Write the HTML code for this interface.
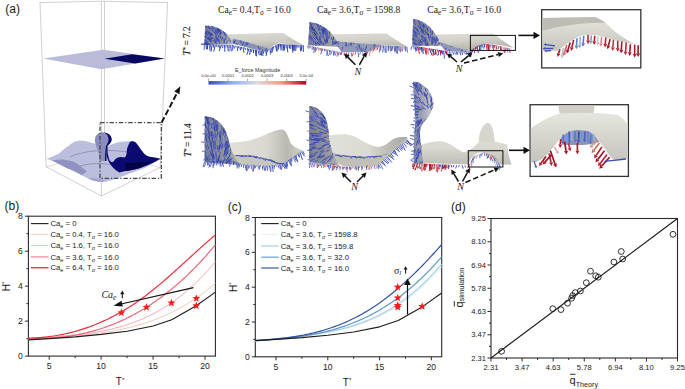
<!DOCTYPE html>
<html><head><meta charset="utf-8"><style>
html,body{margin:0;padding:0;background:#fff;}
svg{display:block;}
</style></head><body>
<svg width="685" height="389" viewBox="0 0 685 389">
<rect width="685" height="389" fill="#fff"/>
<defs>
<linearGradient id="cbar" x1="0" x2="1" y1="0" y2="0">
<stop offset="0" stop-color="#3b4cc0"/><stop offset="0.25" stop-color="#8db0fe"/><stop offset="0.5" stop-color="#dddcdc"/><stop offset="0.75" stop-color="#f4987a"/><stop offset="1" stop-color="#b40426"/></linearGradient>
<linearGradient id="surf" x1="0" x2="0" y1="0" y2="1"><stop offset="0" stop-color="#e6e6e0"/><stop offset="1" stop-color="#c4c4bc"/></linearGradient>
<linearGradient id="surfR" x1="0" x2="1" y1="0" y2="0"><stop offset="0" stop-color="#e0e0da"/><stop offset="0.6" stop-color="#dadad2"/><stop offset="1" stop-color="#bcbcb4"/></linearGradient>
<linearGradient id="surfB3" x1="0" x2="0" y1="0" y2="1"><stop offset="0" stop-color="#e2e2dc"/><stop offset="0.6" stop-color="#d8d8d0"/><stop offset="1" stop-color="#bdbdb5"/></linearGradient>
<linearGradient id="waveG" x1="0" x2="1" y1="0" y2="0"><stop offset="0" stop-color="#d6d6ce"/><stop offset="0.5" stop-color="#bcbcb4"/><stop offset="1" stop-color="#a8a8a0"/></linearGradient>
<linearGradient id="surfT" x1="0" x2="0.3" y1="0" y2="1"><stop offset="0" stop-color="#dcdcd4"/><stop offset="0.45" stop-color="#d2d2ca"/><stop offset="1" stop-color="#aeaea6"/></linearGradient>
<linearGradient id="crest" x1="0" x2="1" y1="0" y2="0"><stop offset="0" stop-color="#7a7f98"/><stop offset="0.6" stop-color="#96979e"/><stop offset="1" stop-color="#b4b4b2"/></linearGradient>
</defs>
<polyline points="39.5,2.6 101.4,1.2 167.8,2.6" fill="none" stroke="#c4c4c4" stroke-width="0.8"/>
<line x1="40" y1="2.6" x2="46.2" y2="166.8" stroke="#c4c4c4" stroke-width="0.8"/>
<line x1="167.6" y1="2.6" x2="160.2" y2="167.5" stroke="#c4c4c4" stroke-width="0.8"/>
<line x1="101.4" y1="1.2" x2="101.4" y2="196" stroke="#c4c4c4" stroke-width="0.8"/>
<line x1="104.5" y1="1.2" x2="104.5" y2="150" stroke="#c4c4c4" stroke-width="0.8"/>
<polyline points="46.2,166.8 101.4,196 160.2,167.5" fill="none" stroke="#c4c4c4" stroke-width="0.8"/>
<polyline points="46.2,166.8 104.5,152 160.2,167.5" fill="none" stroke="#c4c4c4" stroke-width="0.6"/>
<polygon points="43.2,58.4 103.5,49.8 164.8,58.4 101.4,69.2" fill="#b9bbd9"/>
<polygon points="104.5,58.8 132,54.3 164.8,58.4 135,63.5" fill="#07075f"/>
<path d="M46.6,158.8 C52,157 55,155 59,153.5 C63,150 66,147 68.5,145.9 C72,143 76,140.6 79.9,140.6 C84,140.6 87,141.6 89.3,142.1 L96,144 L107,146 L115.9,143 C120,142 124,141 131.5,141.3 C133.5,141.3 135,141.8 136,142.8 C137.5,144.5 138.5,146.3 139.8,148 C141.5,150.3 143,152.5 145,154.4 C147,155.8 149,156.6 151.4,157 C154.5,157.5 157.5,157.9 160.5,158.8 C158,160.5 156,162 153.9,163 C149,166 145,168 140.6,169.6 C135,171.5 130,173.5 125.4,175.3 C121,177 116,179 112.1,180 C108,181 104,182 100.7,182 C97,181.5 94,181 91.2,180 C88,178.5 85,177 81.8,175.3 C78,173.5 74,171.5 70.4,169.6 C66,167.5 62,165.5 59,163.9 C54,161.5 50,160 46.6,158.8 Z" fill="#bcbedd"/>
<path d="M52,160.5 C60,158.5 68,159.5 74,162 C79,164.5 83,168 87,171.5 C85,173 83,174 81.8,175.3 C77,172.5 74,171 70.4,169.6 C66,167.5 62,165.5 59,163.9 C56,162.5 54,161.5 52,160.5 Z" fill="#9092c2"/>
<path d="M88,178.5 C94,177.5 100,178.5 106,180.5 C104,181.5 102,182 100.7,182 C96,181.5 92,180.5 88,178.5 Z" fill="#a4a6d0"/>
<path d="M70,157 C85,150 110,148 140,154" fill="none" stroke="#6a6c90" stroke-width="0.5"/>
<path d="M80,166 C95,162 110,163 125,168" fill="none" stroke="#6a6c90" stroke-width="0.5"/>
<path d="M107.4,145.9 C107.6,150 107.6,151 107.7,153.1 C108.2,156 108.8,158.5 109.6,160.2 C110.5,161.5 111.5,162.2 112.8,162.1 C113.8,161.5 114.5,160 115.4,158.9 C117,157.8 119,157.2 120.6,157 C122,157.2 123.2,157.6 124.4,157.6 C125.3,157 126,156 126.3,155 C126.8,153 126.8,151 127,149.3 C127.6,147 128.5,144.5 129.5,142.8 C130,142 130.8,141.4 131.5,141.3 C133.5,141.3 135,141.8 136,142.8 C137.5,144.5 138.5,146.3 139.8,148 C141.5,150.3 143,152.5 145,154.4 C147,155.8 149,156.6 151.4,157 C154.5,157.5 157.5,157.9 160.5,158.8 C157.5,160.5 154.5,162 151.4,163.4 C147,165.5 143,167 138.5,168.5 C134,169.8 130,170.5 125.7,171.1 C123.5,171.6 121.5,172.2 119.3,172.4 C117.5,171.5 116.5,170.7 115.4,169.8 C114,168.6 112.8,167.3 111.6,166 C110.5,164.8 109.7,163.5 109,162.1 C108,160 106.8,157 106.4,155 C106.4,152 106.6,149 107.4,145.9 Z" fill="#0a0a70"/>
<path d="M125.7,163 C133,162.5 142,162 152,161.5 C148,164 143,166.5 138.5,168.5 C134,169.8 130,170.5 125.7,171.1 C125,168 125.2,165 125.7,163 Z" fill="#030345"/>
<path d="M96.5,147 C95.5,144 94.5,141.5 95,139 C95.6,134.5 99,132.2 102.6,132.2 C107,132.2 111.5,135 111.7,139.2 C111.8,142 109.5,144 107.4,145.9 C106.5,150 106.4,156 106.4,161 L99.5,161 C99.5,156 99,151 96.5,147 Z" fill="#8a8cbe"/>
<path d="M104,132.4 C108,132.6 111.6,135.5 111.7,139.2 C111.8,142 109.5,144 107.4,145.9 C106.5,150 106.4,156 106.4,161 L105,161 C105,155 105.5,149 106,146 C108,143 108.6,141 108.5,138.5 C108.2,135.5 106.5,133.3 104,132.4 Z" fill="#0a0a70"/>
<rect x="100" y="122.6" width="61.3" height="55.7" fill="none" stroke="#4a4a4a" stroke-width="1.3" stroke-dasharray="4.5,1.8,1.3,1.8"/>
<line x1="161.6" y1="122.6" x2="177.3" y2="92.5" stroke="#111" stroke-width="1.9" stroke-dasharray="6,2.6"/>
<polygon points="180.3,86.2 174.3,91.6 179.5,94.3" fill="#111"/>
<text x="5.3" y="12.9" font-size="12" font-family='"Liberation Sans", sans-serif' fill="#1a1a1a">(a)</text>
<text transform="translate(190.3,40.8) rotate(-90)" font-size="9.4" text-anchor="middle" font-family='"Liberation Serif", serif' fill="#1a1a1a" stroke="#1a1a1a" stroke-width="0.12"><tspan font-style="italic">T</tspan><tspan dy="-3" font-size="6">*</tspan><tspan dy="3" dx="1.5">=</tspan><tspan dx="2.2">7.2</tspan></text>
<text transform="translate(190.8,140) rotate(-90)" font-size="9.4" text-anchor="middle" font-family='"Liberation Serif", serif' fill="#1a1a1a" stroke="#1a1a1a" stroke-width="0.12"><tspan font-style="italic">T</tspan><tspan dy="-3" font-size="6">*</tspan><tspan dy="3" dx="1.5">=</tspan><tspan dx="2.2">11.4</tspan></text>
<text x="218" y="12.5" textLength="72.9" lengthAdjust="spacingAndGlyphs" font-size="9.8" font-family='"Liberation Serif", serif' fill="#1a1a1a">Ca<tspan dy="2.2" font-size="7.5">e</tspan><tspan dy="-2.2">= 0.4,T</tspan><tspan dy="2.2" font-size="7.5">σ</tspan><tspan dy="-2.2"> = 16.0</tspan></text>
<text x="317.1" y="12.5" textLength="83.3" lengthAdjust="spacingAndGlyphs" font-size="9.8" font-family='"Liberation Serif", serif' fill="#1a1a1a">Ca<tspan dy="2.2" font-size="7.5">e</tspan><tspan dy="-2.2">= 3.6,T</tspan><tspan dy="2.2" font-size="7.5">σ</tspan><tspan dy="-2.2"> = 1598.8</tspan></text>
<text x="427.2" y="12.5" textLength="73.9" lengthAdjust="spacingAndGlyphs" font-size="9.8" font-family='"Liberation Serif", serif' fill="#1a1a1a">Ca<tspan dy="2.2" font-size="7.5">e</tspan><tspan dy="-2.2">= 3.6,T</tspan><tspan dy="2.2" font-size="7.5">σ</tspan><tspan dy="-2.2"> = 16.0</tspan></text>
<rect x="208.5" y="81" width="97.7" height="3.6" fill="url(#cbar)"/>
<line x1="208.5" y1="78.5" x2="208.5" y2="81" stroke="#555" stroke-width="0.5"/>
<line x1="228.0" y1="78.5" x2="228.0" y2="81" stroke="#555" stroke-width="0.5"/>
<line x1="247.6" y1="78.5" x2="247.6" y2="81" stroke="#555" stroke-width="0.5"/>
<line x1="267.1" y1="78.5" x2="267.1" y2="81" stroke="#555" stroke-width="0.5"/>
<line x1="286.7" y1="78.5" x2="286.7" y2="81" stroke="#555" stroke-width="0.5"/>
<line x1="306.2" y1="78.5" x2="306.2" y2="81" stroke="#555" stroke-width="0.5"/>
<text x="208.5" y="77.4" font-size="4" text-anchor="middle" font-family='"Liberation Sans", sans-serif' fill="#333">0.0e+00</text>
<text x="228.0" y="77.4" font-size="4" text-anchor="middle" font-family='"Liberation Sans", sans-serif' fill="#333">0.0001</text>
<text x="247.6" y="77.4" font-size="4" text-anchor="middle" font-family='"Liberation Sans", sans-serif' fill="#333">0.0002</text>
<text x="267.1" y="77.4" font-size="4" text-anchor="middle" font-family='"Liberation Sans", sans-serif' fill="#333">0.0003</text>
<text x="286.7" y="77.4" font-size="4" text-anchor="middle" font-family='"Liberation Sans", sans-serif' fill="#333">0.0004</text>
<text x="306.2" y="77.4" font-size="4" text-anchor="middle" font-family='"Liberation Sans", sans-serif' fill="#333">5.0e-04</text>
<text x="257.5" y="72.4" font-size="5.4" text-anchor="middle" font-family='"Liberation Sans", sans-serif' fill="#333">E_force Magnitude</text>
<path d="M226.9,34.3 C245,34 265,33.2 283.1,33 C290,37 297,42 303.2,45 C295,44.8 285,44 278.3,43.6 C274,45 271,47.5 268.4,48.6 C266,50 264,51 262.2,51 C252,48.5 242,46 232.4,43.6 C231,40 229,37 226.9,34.3 Z" fill="url(#surfT)"/>
<defs><clipPath id="u1"><path d="M232.4,43.6 C242,46 252,48.5 262.2,51 C264,51 266,50 268.4,48.6 C258,45.5 246,41.5 233,38.5 Z"/></clipPath></defs><path d="M232.4,43.6 C242,46 252,48.5 262.2,51 C264,51 266,50 268.4,48.6 C258,45.5 246,41.5 233,38.5 Z" fill="#8a92b4"/>
<g clip-path="url(#u1)">
<line x1="243.0" y1="39.3" x2="244.4" y2="42.2" stroke="#3a4cb4" stroke-width="0.8"/>
<line x1="233.8" y1="45.7" x2="234.9" y2="49.4" stroke="#2c3ca4" stroke-width="0.8"/>
<line x1="247.3" y1="38.0" x2="247.5" y2="40.2" stroke="#3a4cb4" stroke-width="0.8"/>
<line x1="235.0" y1="40.3" x2="233.5" y2="43.3" stroke="#3a4cb4" stroke-width="0.8"/>
<line x1="253.4" y1="37.7" x2="253.3" y2="40.2" stroke="#3446b0" stroke-width="0.8"/>
<line x1="241.6" y1="39.2" x2="242.0" y2="41.4" stroke="#5466c4" stroke-width="0.8"/>
<line x1="237.2" y1="45.7" x2="237.7" y2="49.0" stroke="#3a4cb4" stroke-width="0.8"/>
<line x1="258.5" y1="45.5" x2="258.5" y2="48.7" stroke="#3a4cb4" stroke-width="0.8"/>
<line x1="247.1" y1="41.7" x2="247.3" y2="44.9" stroke="#2436a0" stroke-width="0.8"/>
<line x1="239.9" y1="39.7" x2="241.4" y2="42.9" stroke="#2436a0" stroke-width="0.8"/>
<line x1="251.0" y1="50.1" x2="251.8" y2="53.5" stroke="#2c3ca4" stroke-width="0.8"/>
<line x1="234.7" y1="43.3" x2="236.0" y2="46.6" stroke="#4456bc" stroke-width="0.8"/>
<line x1="246.9" y1="51.4" x2="246.7" y2="53.6" stroke="#2436a0" stroke-width="0.8"/>
<line x1="243.6" y1="42.3" x2="242.7" y2="45.1" stroke="#2c3ca4" stroke-width="0.8"/>
<line x1="263.6" y1="51.2" x2="263.1" y2="54.1" stroke="#2c3ca4" stroke-width="0.8"/>
<line x1="259.2" y1="41.6" x2="258.7" y2="44.7" stroke="#4456bc" stroke-width="0.8"/>
<line x1="241.4" y1="42.8" x2="243.0" y2="45.7" stroke="#4456bc" stroke-width="0.8"/>
<line x1="244.2" y1="46.2" x2="245.1" y2="49.0" stroke="#2436a0" stroke-width="0.8"/>
<line x1="235.2" y1="40.7" x2="234.1" y2="43.3" stroke="#2c3ca4" stroke-width="0.8"/>
<line x1="236.7" y1="43.0" x2="237.6" y2="45.4" stroke="#4456bc" stroke-width="0.8"/>
<line x1="264.6" y1="41.2" x2="265.0" y2="44.0" stroke="#4456bc" stroke-width="0.8"/>
<line x1="268.3" y1="39.3" x2="269.0" y2="41.5" stroke="#3446b0" stroke-width="0.8"/>
<line x1="230.5" y1="49.5" x2="231.0" y2="51.8" stroke="#3446b0" stroke-width="0.8"/>
<line x1="246.8" y1="42.5" x2="245.3" y2="45.3" stroke="#5466c4" stroke-width="0.8"/>
<line x1="264.4" y1="51.3" x2="263.5" y2="54.5" stroke="#4456bc" stroke-width="0.8"/>
<line x1="266.0" y1="48.7" x2="264.8" y2="52.3" stroke="#4456bc" stroke-width="0.8"/>
<line x1="245.9" y1="42.9" x2="246.2" y2="45.9" stroke="#3446b0" stroke-width="0.8"/>
<line x1="232.7" y1="40.1" x2="233.1" y2="42.4" stroke="#2c3ca4" stroke-width="0.8"/>
<line x1="234.1" y1="45.5" x2="232.7" y2="48.2" stroke="#3a4cb4" stroke-width="0.8"/>
<line x1="231.0" y1="50.1" x2="232.2" y2="53.1" stroke="#2436a0" stroke-width="0.8"/>
<line x1="268.2" y1="46.0" x2="269.4" y2="48.7" stroke="#4456bc" stroke-width="0.8"/>
<line x1="269.7" y1="44.0" x2="271.0" y2="46.7" stroke="#2c3ca4" stroke-width="0.8"/>
<line x1="260.0" y1="48.1" x2="259.4" y2="51.0" stroke="#3a4cb4" stroke-width="0.8"/>
<line x1="230.9" y1="51.3" x2="232.0" y2="54.1" stroke="#3a4cb4" stroke-width="0.8"/>
<line x1="266.6" y1="48.4" x2="266.2" y2="50.9" stroke="#2c3ca4" stroke-width="0.8"/>
<line x1="257.8" y1="40.9" x2="258.8" y2="43.5" stroke="#3446b0" stroke-width="0.8"/>
<line x1="251.3" y1="48.7" x2="252.1" y2="51.2" stroke="#3446b0" stroke-width="0.8"/>
<line x1="262.2" y1="49.3" x2="263.2" y2="52.6" stroke="#3a4cb4" stroke-width="0.8"/>
<line x1="249.7" y1="48.0" x2="248.5" y2="51.8" stroke="#4456bc" stroke-width="0.8"/>
<line x1="240.4" y1="47.4" x2="240.6" y2="51.3" stroke="#5466c4" stroke-width="0.8"/>
<line x1="269.5" y1="51.3" x2="270.3" y2="53.9" stroke="#3446b0" stroke-width="0.8"/>
<line x1="248.8" y1="42.1" x2="247.4" y2="44.7" stroke="#3a4cb4" stroke-width="0.8"/>
<line x1="263.6" y1="44.2" x2="262.6" y2="47.3" stroke="#2c3ca4" stroke-width="0.8"/>
<line x1="263.4" y1="38.8" x2="262.8" y2="41.5" stroke="#3446b0" stroke-width="0.8"/>
<line x1="249.1" y1="39.7" x2="249.7" y2="43.2" stroke="#5466c4" stroke-width="0.8"/>
</g>
<path d="M228,35 C245,36 265,37.5 285,40 C290,41 296,43 303.2,45 C295,44.8 285,44 278.3,43.6 C270,41 250,38 230,37 Z" fill="#d2d2ca" opacity="0.6"/>
<defs><clipPath id="c1"><path d="M205.2,25.4 C214,25.5 222,29 226.9,34.3 C230,38 232,41 233.5,44.5 L204.4,44.7 Z"/></clipPath></defs><path d="M205.2,25.4 C214,25.5 222,29 226.9,34.3 C230,38 232,41 233.5,44.5 L204.4,44.7 Z" fill="url(#crest)"/>
<g clip-path="url(#c1)">
<line x1="216.1" y1="32.8" x2="214.5" y2="27.7" stroke="#3446b0" stroke-width="0.8"/>
<line x1="235.8" y1="24.6" x2="237.3" y2="20.6" stroke="#5466c4" stroke-width="0.8"/>
<line x1="207.8" y1="42.2" x2="203.6" y2="38.8" stroke="#2436a0" stroke-width="0.8"/>
<line x1="208.1" y1="36.1" x2="206.6" y2="34.0" stroke="#5466c4" stroke-width="0.8"/>
<line x1="224.4" y1="35.6" x2="224.5" y2="30.3" stroke="#3446b0" stroke-width="0.8"/>
<line x1="230.3" y1="28.6" x2="230.9" y2="25.4" stroke="#3446b0" stroke-width="0.8"/>
<line x1="228.2" y1="31.2" x2="229.3" y2="27.2" stroke="#2c3ca4" stroke-width="0.8"/>
<line x1="233.0" y1="31.8" x2="234.6" y2="28.2" stroke="#3a4cb4" stroke-width="0.8"/>
<line x1="216.9" y1="44.2" x2="214.6" y2="40.9" stroke="#3a4cb4" stroke-width="0.8"/>
<line x1="219.8" y1="43.2" x2="218.3" y2="38.6" stroke="#3446b0" stroke-width="0.8"/>
<line x1="208.7" y1="34.4" x2="205.9" y2="30.7" stroke="#2436a0" stroke-width="0.8"/>
<line x1="225.5" y1="35.7" x2="226.1" y2="31.8" stroke="#3a4cb4" stroke-width="0.8"/>
<line x1="204.9" y1="28.2" x2="203.1" y2="26.3" stroke="#4456bc" stroke-width="0.8"/>
<line x1="221.5" y1="40.7" x2="220.5" y2="35.6" stroke="#3a4cb4" stroke-width="0.8"/>
<line x1="235.1" y1="37.3" x2="236.7" y2="34.7" stroke="#3a4cb4" stroke-width="0.8"/>
<line x1="220.6" y1="34.5" x2="220.0" y2="29.2" stroke="#2436a0" stroke-width="0.8"/>
<line x1="233.5" y1="43.6" x2="235.5" y2="41.3" stroke="#4456bc" stroke-width="0.8"/>
<line x1="207.0" y1="33.7" x2="205.1" y2="31.8" stroke="#2c3ca4" stroke-width="0.8"/>
<line x1="210.0" y1="30.7" x2="208.7" y2="28.1" stroke="#5466c4" stroke-width="0.8"/>
<line x1="224.2" y1="32.1" x2="223.9" y2="28.8" stroke="#4456bc" stroke-width="0.8"/>
<line x1="210.2" y1="45.0" x2="207.2" y2="42.9" stroke="#5466c4" stroke-width="0.8"/>
<line x1="230.5" y1="27.6" x2="231.4" y2="23.9" stroke="#2436a0" stroke-width="0.8"/>
<line x1="216.9" y1="31.8" x2="216.0" y2="29.2" stroke="#2436a0" stroke-width="0.8"/>
<line x1="221.3" y1="33.7" x2="220.8" y2="31.2" stroke="#3a4cb4" stroke-width="0.8"/>
<line x1="212.7" y1="45.1" x2="210.7" y2="43.1" stroke="#3446b0" stroke-width="0.8"/>
<line x1="235.1" y1="26.3" x2="235.9" y2="23.1" stroke="#3446b0" stroke-width="0.8"/>
<line x1="211.9" y1="26.9" x2="210.8" y2="23.3" stroke="#2436a0" stroke-width="0.8"/>
<line x1="216.4" y1="35.8" x2="214.8" y2="32.1" stroke="#2436a0" stroke-width="0.8"/>
<line x1="206.0" y1="25.3" x2="203.4" y2="21.5" stroke="#2c3ca4" stroke-width="0.8"/>
<line x1="211.9" y1="24.4" x2="210.7" y2="21.9" stroke="#3a4cb4" stroke-width="0.8"/>
<line x1="231.3" y1="25.5" x2="232.4" y2="20.5" stroke="#2436a0" stroke-width="0.8"/>
<line x1="235.8" y1="33.2" x2="238.6" y2="28.7" stroke="#2c3ca4" stroke-width="0.8"/>
<line x1="220.4" y1="29.2" x2="219.7" y2="26.5" stroke="#2c3ca4" stroke-width="0.8"/>
<line x1="209.0" y1="44.5" x2="205.3" y2="42.1" stroke="#3446b0" stroke-width="0.8"/>
<line x1="212.6" y1="35.0" x2="210.9" y2="32.5" stroke="#2c3ca4" stroke-width="0.8"/>
<line x1="235.8" y1="24.8" x2="236.8" y2="22.4" stroke="#3446b0" stroke-width="0.8"/>
<line x1="220.0" y1="29.4" x2="219.5" y2="25.6" stroke="#5466c4" stroke-width="0.8"/>
<line x1="217.3" y1="34.9" x2="215.5" y2="30.2" stroke="#3a4cb4" stroke-width="0.8"/>
<line x1="213.2" y1="28.7" x2="211.7" y2="25.9" stroke="#5466c4" stroke-width="0.8"/>
<line x1="227.1" y1="27.1" x2="228.4" y2="21.8" stroke="#3446b0" stroke-width="0.8"/>
<line x1="203.5" y1="37.8" x2="199.4" y2="34.6" stroke="#2c3ca4" stroke-width="0.8"/>
<line x1="205.8" y1="42.5" x2="201.6" y2="39.6" stroke="#2436a0" stroke-width="0.8"/>
<line x1="222.8" y1="39.2" x2="222.3" y2="36.6" stroke="#2436a0" stroke-width="0.8"/>
<line x1="217.7" y1="29.8" x2="217.1" y2="24.4" stroke="#3a4cb4" stroke-width="0.8"/>
<line x1="213.7" y1="24.8" x2="211.6" y2="20.1" stroke="#3446b0" stroke-width="0.8"/>
<line x1="203.0" y1="32.4" x2="200.3" y2="29.6" stroke="#3446b0" stroke-width="0.8"/>
<line x1="211.2" y1="41.1" x2="209.4" y2="38.9" stroke="#3446b0" stroke-width="0.8"/>
<line x1="216.2" y1="24.9" x2="215.4" y2="22.5" stroke="#3446b0" stroke-width="0.8"/>
<line x1="205.8" y1="45.1" x2="201.1" y2="43.3" stroke="#5466c4" stroke-width="0.8"/>
<line x1="228.9" y1="37.1" x2="230.5" y2="32.6" stroke="#4456bc" stroke-width="0.8"/>
<line x1="207.9" y1="39.9" x2="204.3" y2="37.5" stroke="#5466c4" stroke-width="0.8"/>
<line x1="232.4" y1="37.8" x2="235.0" y2="33.8" stroke="#3446b0" stroke-width="0.8"/>
<line x1="233.0" y1="40.6" x2="235.7" y2="37.3" stroke="#2c3ca4" stroke-width="0.8"/>
<line x1="230.3" y1="36.8" x2="232.3" y2="32.1" stroke="#5466c4" stroke-width="0.8"/>
<line x1="224.2" y1="25.9" x2="224.3" y2="23.2" stroke="#2c3ca4" stroke-width="0.8"/>
<line x1="215.4" y1="33.9" x2="214.1" y2="31.7" stroke="#3a4cb4" stroke-width="0.8"/>
<line x1="225.5" y1="34.8" x2="225.9" y2="32.3" stroke="#5466c4" stroke-width="0.8"/>
<line x1="233.8" y1="43.8" x2="235.7" y2="41.8" stroke="#5466c4" stroke-width="0.8"/>
<line x1="227.3" y1="29.5" x2="227.5" y2="26.8" stroke="#5466c4" stroke-width="0.8"/>
<line x1="228.0" y1="29.1" x2="228.6" y2="24.7" stroke="#4456bc" stroke-width="0.8"/>
<line x1="205.5" y1="44.0" x2="202.4" y2="42.8" stroke="#5466c4" stroke-width="0.8"/>
<line x1="224.2" y1="25.7" x2="224.0" y2="22.8" stroke="#5466c4" stroke-width="0.8"/>
<line x1="225.9" y1="37.7" x2="226.2" y2="34.8" stroke="#4456bc" stroke-width="0.8"/>
<line x1="211.9" y1="38.8" x2="209.2" y2="35.1" stroke="#2436a0" stroke-width="0.8"/>
<line x1="226.4" y1="30.3" x2="227.1" y2="26.4" stroke="#3a4cb4" stroke-width="0.8"/>
<line x1="209.6" y1="45.5" x2="204.7" y2="43.5" stroke="#4456bc" stroke-width="0.8"/>
<line x1="205.5" y1="35.1" x2="202.3" y2="30.7" stroke="#4456bc" stroke-width="0.8"/>
<line x1="209.9" y1="44.8" x2="207.3" y2="43.0" stroke="#3446b0" stroke-width="0.8"/>
<line x1="227.7" y1="29.8" x2="228.3" y2="26.2" stroke="#5466c4" stroke-width="0.8"/>
<line x1="219.8" y1="43.5" x2="217.8" y2="39.4" stroke="#4456bc" stroke-width="0.8"/>
<line x1="216.0" y1="27.5" x2="214.7" y2="22.3" stroke="#4456bc" stroke-width="0.8"/>
<line x1="213.0" y1="27.1" x2="211.5" y2="23.9" stroke="#2436a0" stroke-width="0.8"/>
<line x1="203.1" y1="40.5" x2="198.6" y2="38.3" stroke="#3446b0" stroke-width="0.8"/>
<line x1="226.5" y1="43.8" x2="227.2" y2="40.5" stroke="#4456bc" stroke-width="0.8"/>
<line x1="215.9" y1="43.1" x2="214.5" y2="40.8" stroke="#2436a0" stroke-width="0.8"/>
<line x1="231.2" y1="30.2" x2="232.1" y2="27.7" stroke="#5466c4" stroke-width="0.8"/>
<line x1="233.9" y1="29.5" x2="235.1" y2="26.4" stroke="#3446b0" stroke-width="0.8"/>
<line x1="228.5" y1="41.3" x2="229.3" y2="37.6" stroke="#5466c4" stroke-width="0.8"/>
<line x1="216.2" y1="43.3" x2="213.5" y2="40.1" stroke="#2c3ca4" stroke-width="0.8"/>
<line x1="204.6" y1="40.1" x2="201.7" y2="37.7" stroke="#5466c4" stroke-width="0.8"/>
<line x1="231.7" y1="34.7" x2="233.7" y2="29.8" stroke="#3446b0" stroke-width="0.8"/>
<line x1="218.6" y1="31.6" x2="218.0" y2="28.2" stroke="#5466c4" stroke-width="0.8"/>
<line x1="211.6" y1="38.4" x2="209.5" y2="35.7" stroke="#4456bc" stroke-width="0.8"/>
<line x1="207.0" y1="38.2" x2="205.0" y2="36.3" stroke="#4456bc" stroke-width="0.8"/>
<line x1="221.2" y1="34.0" x2="220.9" y2="30.5" stroke="#4456bc" stroke-width="0.8"/>
<line x1="207.6" y1="28.2" x2="206.0" y2="26.0" stroke="#2c3ca4" stroke-width="0.8"/>
<line x1="213.5" y1="32.1" x2="211.0" y2="27.8" stroke="#2c3ca4" stroke-width="0.8"/>
<line x1="227.7" y1="33.1" x2="228.4" y2="29.4" stroke="#4456bc" stroke-width="0.8"/>
<line x1="211.9" y1="40.5" x2="209.3" y2="37.5" stroke="#2436a0" stroke-width="0.8"/>
<line x1="207.2" y1="35.1" x2="204.6" y2="31.5" stroke="#3446b0" stroke-width="0.8"/>
<line x1="206.1" y1="43.7" x2="203.0" y2="41.8" stroke="#4456bc" stroke-width="0.8"/>
<line x1="234.5" y1="42.7" x2="237.4" y2="38.5" stroke="#2c3ca4" stroke-width="0.8"/>
<line x1="217.0" y1="40.8" x2="215.3" y2="36.2" stroke="#4456bc" stroke-width="0.8"/>
<line x1="203.0" y1="32.6" x2="199.7" y2="28.5" stroke="#4456bc" stroke-width="0.8"/>
<line x1="235.1" y1="29.5" x2="236.0" y2="26.8" stroke="#3a4cb4" stroke-width="0.8"/>
<line x1="235.1" y1="26.4" x2="237.2" y2="21.9" stroke="#4456bc" stroke-width="0.8"/>
<line x1="205.8" y1="41.1" x2="203.6" y2="39.9" stroke="#3a4cb4" stroke-width="0.8"/>
<line x1="233.4" y1="38.2" x2="234.8" y2="35.1" stroke="#2436a0" stroke-width="0.8"/>
<line x1="220.4" y1="33.6" x2="219.1" y2="29.0" stroke="#2436a0" stroke-width="0.8"/>
<line x1="220.3" y1="36.8" x2="219.3" y2="33.3" stroke="#3a4cb4" stroke-width="0.8"/>
<line x1="203.0" y1="35.8" x2="198.7" y2="32.5" stroke="#2436a0" stroke-width="0.8"/>
<line x1="224.3" y1="43.4" x2="224.1" y2="39.5" stroke="#3446b0" stroke-width="0.8"/>
<line x1="204.0" y1="33.1" x2="200.5" y2="30.3" stroke="#3446b0" stroke-width="0.8"/>
<line x1="219.4" y1="38.8" x2="218.1" y2="35.3" stroke="#5466c4" stroke-width="0.8"/>
<line x1="217.0" y1="32.1" x2="216.0" y2="28.3" stroke="#5466c4" stroke-width="0.8"/>
<line x1="216.9" y1="39.0" x2="215.8" y2="36.1" stroke="#5466c4" stroke-width="0.8"/>
<line x1="230.9" y1="25.5" x2="231.5" y2="21.5" stroke="#3446b0" stroke-width="0.8"/>
<line x1="210.6" y1="28.9" x2="208.1" y2="24.8" stroke="#3a4cb4" stroke-width="0.8"/>
<line x1="219.4" y1="28.1" x2="218.7" y2="25.0" stroke="#5466c4" stroke-width="0.8"/>
<line x1="204.9" y1="37.1" x2="200.5" y2="34.1" stroke="#2c3ca4" stroke-width="0.8"/>
<line x1="235.1" y1="27.1" x2="235.9" y2="24.6" stroke="#4456bc" stroke-width="0.8"/>
<line x1="217.8" y1="39.7" x2="216.1" y2="36.7" stroke="#2c3ca4" stroke-width="0.8"/>
<line x1="233.7" y1="31.2" x2="235.3" y2="28.6" stroke="#5466c4" stroke-width="0.8"/>
<line x1="218.4" y1="30.9" x2="217.8" y2="26.2" stroke="#2436a0" stroke-width="0.8"/>
<line x1="217.6" y1="26.4" x2="216.7" y2="23.8" stroke="#4456bc" stroke-width="0.8"/>
<line x1="234.5" y1="26.7" x2="236.1" y2="21.5" stroke="#2436a0" stroke-width="0.8"/>
<line x1="228.4" y1="30.8" x2="228.7" y2="25.9" stroke="#5466c4" stroke-width="0.8"/>
<line x1="218.6" y1="32.2" x2="216.9" y2="27.2" stroke="#2436a0" stroke-width="0.8"/>
<line x1="227.3" y1="34.4" x2="227.8" y2="30.1" stroke="#5466c4" stroke-width="0.8"/>
<line x1="228.3" y1="24.9" x2="228.4" y2="22.3" stroke="#2c3ca4" stroke-width="0.8"/>
<line x1="211.5" y1="40.4" x2="207.8" y2="36.8" stroke="#2436a0" stroke-width="0.8"/>
<line x1="214.1" y1="45.0" x2="212.2" y2="43.1" stroke="#5466c4" stroke-width="0.8"/>
<line x1="213.4" y1="30.1" x2="212.6" y2="27.7" stroke="#5466c4" stroke-width="0.8"/>
<line x1="234.2" y1="25.4" x2="235.4" y2="20.6" stroke="#5466c4" stroke-width="0.8"/>
<line x1="234.6" y1="45.0" x2="237.2" y2="42.4" stroke="#4456bc" stroke-width="0.8"/>
<line x1="229.9" y1="26.9" x2="230.2" y2="22.9" stroke="#5466c4" stroke-width="0.8"/>
<line x1="213.0" y1="39.2" x2="211.1" y2="37.0" stroke="#2436a0" stroke-width="0.8"/>
<line x1="218.2" y1="41.2" x2="216.4" y2="37.3" stroke="#4456bc" stroke-width="0.8"/>
<line x1="227.8" y1="29.4" x2="227.9" y2="26.7" stroke="#3a4cb4" stroke-width="0.8"/>
<line x1="221.0" y1="27.5" x2="220.1" y2="23.9" stroke="#2c3ca4" stroke-width="0.8"/>
<line x1="211.7" y1="25.8" x2="210.6" y2="23.3" stroke="#5466c4" stroke-width="0.8"/>
<line x1="235.1" y1="27.8" x2="236.2" y2="25.1" stroke="#5466c4" stroke-width="0.8"/>
<line x1="210.8" y1="35.8" x2="208.2" y2="31.8" stroke="#2436a0" stroke-width="0.8"/>
<line x1="212.7" y1="36.5" x2="210.9" y2="33.3" stroke="#3446b0" stroke-width="0.8"/>
<line x1="217.5" y1="28.1" x2="216.5" y2="25.0" stroke="#3a4cb4" stroke-width="0.8"/>
<line x1="209.2" y1="25.4" x2="207.5" y2="22.6" stroke="#3a4cb4" stroke-width="0.8"/>
<line x1="210.6" y1="41.8" x2="207.8" y2="38.4" stroke="#2c3ca4" stroke-width="0.8"/>
<line x1="203.1" y1="43.4" x2="200.3" y2="42.0" stroke="#2436a0" stroke-width="0.8"/>
<line x1="204.3" y1="30.5" x2="202.3" y2="28.4" stroke="#3a4cb4" stroke-width="0.8"/>
<line x1="209.4" y1="25.7" x2="207.2" y2="22.2" stroke="#3a4cb4" stroke-width="0.8"/>
<line x1="211.6" y1="41.1" x2="207.5" y2="37.7" stroke="#3a4cb4" stroke-width="0.8"/>
<line x1="226.4" y1="31.7" x2="226.6" y2="29.1" stroke="#2c3ca4" stroke-width="0.8"/>
<line x1="209.7" y1="29.6" x2="207.7" y2="25.8" stroke="#3446b0" stroke-width="0.8"/>
<line x1="229.9" y1="42.0" x2="231.4" y2="38.6" stroke="#3a4cb4" stroke-width="0.8"/>
<line x1="213.3" y1="28.5" x2="211.5" y2="23.9" stroke="#2c3ca4" stroke-width="0.8"/>
<line x1="216.5" y1="41.5" x2="213.8" y2="37.9" stroke="#3a4cb4" stroke-width="0.8"/>
<line x1="206.0" y1="27.6" x2="203.3" y2="23.9" stroke="#2436a0" stroke-width="0.8"/>
<line x1="225.0" y1="33.2" x2="225.4" y2="30.6" stroke="#2436a0" stroke-width="0.8"/>
<line x1="216.7" y1="24.4" x2="215.9" y2="19.7" stroke="#5466c4" stroke-width="0.8"/>
<line x1="209.5" y1="40.0" x2="207.0" y2="38.2" stroke="#3446b0" stroke-width="0.8"/>
<line x1="217.0" y1="42.0" x2="215.5" y2="38.7" stroke="#4456bc" stroke-width="0.8"/>
<line x1="228.5" y1="26.9" x2="228.7" y2="24.2" stroke="#4456bc" stroke-width="0.8"/>
<line x1="205.9" y1="37.7" x2="203.3" y2="35.3" stroke="#3446b0" stroke-width="0.8"/>
<line x1="214.5" y1="27.6" x2="213.1" y2="24.9" stroke="#4456bc" stroke-width="0.8"/>
<line x1="219.2" y1="41.7" x2="216.8" y2="36.9" stroke="#3446b0" stroke-width="0.8"/>
<line x1="230.6" y1="25.0" x2="231.5" y2="19.8" stroke="#3a4cb4" stroke-width="0.8"/>
<line x1="233.6" y1="32.5" x2="235.8" y2="27.8" stroke="#3446b0" stroke-width="0.8"/>
<line x1="224.1" y1="42.8" x2="224.3" y2="38.5" stroke="#3446b0" stroke-width="0.8"/>
<line x1="230.4" y1="28.0" x2="231.0" y2="24.9" stroke="#3a4cb4" stroke-width="0.8"/>
<line x1="208.2" y1="31.9" x2="206.8" y2="29.3" stroke="#3446b0" stroke-width="0.8"/>
<line x1="204.4" y1="36.4" x2="200.4" y2="33.7" stroke="#2436a0" stroke-width="0.8"/>
<line x1="206.9" y1="37.2" x2="204.0" y2="34.2" stroke="#2436a0" stroke-width="0.8"/>
<line x1="224.4" y1="30.8" x2="224.4" y2="27.5" stroke="#2436a0" stroke-width="0.8"/>
<line x1="217.7" y1="33.6" x2="217.1" y2="31.2" stroke="#4456bc" stroke-width="0.8"/>
<line x1="218.4" y1="33.8" x2="217.6" y2="29.5" stroke="#3446b0" stroke-width="0.8"/>
<line x1="229.7" y1="32.8" x2="230.4" y2="30.2" stroke="#2436a0" stroke-width="0.8"/>
<line x1="206.0" y1="33.7" x2="203.0" y2="31.1" stroke="#5466c4" stroke-width="0.8"/>
<line x1="207.3" y1="44.3" x2="204.4" y2="42.4" stroke="#2c3ca4" stroke-width="0.8"/>
<line x1="204.8" y1="35.1" x2="202.5" y2="32.2" stroke="#3446b0" stroke-width="0.8"/>
<line x1="203.9" y1="25.5" x2="201.5" y2="21.8" stroke="#2c3ca4" stroke-width="0.8"/>
<line x1="209.4" y1="45.6" x2="206.2" y2="43.2" stroke="#3446b0" stroke-width="0.8"/>
<line x1="225.6" y1="39.9" x2="226.3" y2="36.8" stroke="#3a4cb4" stroke-width="0.8"/>
<line x1="228.0" y1="27.5" x2="228.4" y2="22.3" stroke="#4456bc" stroke-width="0.8"/>
<line x1="207.7" y1="35.0" x2="204.0" y2="31.3" stroke="#2436a0" stroke-width="0.8"/>
<line x1="223.3" y1="29.2" x2="222.9" y2="25.6" stroke="#4456bc" stroke-width="0.8"/>
<line x1="208.3" y1="44.6" x2="204.7" y2="41.9" stroke="#3446b0" stroke-width="0.8"/>
<line x1="229.1" y1="29.8" x2="229.5" y2="25.0" stroke="#2436a0" stroke-width="0.8"/>
<line x1="234.9" y1="34.0" x2="237.0" y2="30.5" stroke="#2c3ca4" stroke-width="0.8"/>
<line x1="211.3" y1="35.8" x2="208.7" y2="31.4" stroke="#2436a0" stroke-width="0.8"/>
<line x1="211.7" y1="45.8" x2="208.1" y2="43.6" stroke="#2c3ca4" stroke-width="0.8"/>
<line x1="217.6" y1="27.9" x2="215.9" y2="23.5" stroke="#3a4cb4" stroke-width="0.8"/>
<line x1="211.4" y1="38.1" x2="208.1" y2="33.7" stroke="#5466c4" stroke-width="0.8"/>
<line x1="232.6" y1="40.1" x2="234.7" y2="35.9" stroke="#2436a0" stroke-width="0.8"/>
<line x1="223.3" y1="33.5" x2="223.6" y2="29.5" stroke="#3446b0" stroke-width="0.8"/>
<line x1="219.1" y1="37.5" x2="218.1" y2="35.1" stroke="#3a4cb4" stroke-width="0.8"/>
<line x1="214.7" y1="26.3" x2="213.3" y2="23.1" stroke="#3a4cb4" stroke-width="0.8"/>
<line x1="212.9" y1="26.9" x2="211.9" y2="23.5" stroke="#3446b0" stroke-width="0.8"/>
<line x1="207.4" y1="44.6" x2="204.5" y2="43.3" stroke="#2c3ca4" stroke-width="0.8"/>
<line x1="205.1" y1="27.2" x2="202.3" y2="23.7" stroke="#2436a0" stroke-width="0.8"/>
<line x1="234.9" y1="25.2" x2="237.2" y2="20.8" stroke="#3a4cb4" stroke-width="0.8"/>
</g>
<line x1="204.4" y1="44.8" x2="204.1" y2="50.0" stroke="#5466c4" stroke-width="1.0"/>
<line x1="206.0" y1="44.8" x2="206.5" y2="49.2" stroke="#2c3ca4" stroke-width="1.0"/>
<line x1="207.5" y1="44.8" x2="207.4" y2="49.5" stroke="#2c3ca4" stroke-width="1.0"/>
<line x1="209.1" y1="44.8" x2="210.1" y2="51.3" stroke="#5466c4" stroke-width="1.0"/>
<line x1="210.6" y1="44.8" x2="211.5" y2="51.5" stroke="#3a4cb4" stroke-width="1.0"/>
<line x1="212.2" y1="44.9" x2="211.2" y2="50.0" stroke="#3a4cb4" stroke-width="1.0"/>
<line x1="213.7" y1="44.9" x2="213.8" y2="47.7" stroke="#2c3ca4" stroke-width="1.0"/>
<line x1="215.3" y1="44.9" x2="213.7" y2="51.7" stroke="#3a4cb4" stroke-width="1.0"/>
<line x1="216.8" y1="44.9" x2="216.2" y2="46.8" stroke="#4456bc" stroke-width="1.0"/>
<line x1="218.4" y1="44.9" x2="217.9" y2="47.3" stroke="#2c3ca4" stroke-width="1.0"/>
<line x1="219.9" y1="44.9" x2="219.3" y2="48.2" stroke="#5466c4" stroke-width="1.0"/>
<line x1="221.5" y1="44.9" x2="219.1" y2="51.1" stroke="#2c3ca4" stroke-width="1.0"/>
<line x1="223.0" y1="44.9" x2="222.6" y2="48.2" stroke="#3a4cb4" stroke-width="1.0"/>
<line x1="224.6" y1="44.9" x2="224.9" y2="51.8" stroke="#3446b0" stroke-width="1.0"/>
<line x1="226.1" y1="45.0" x2="225.9" y2="47.4" stroke="#3446b0" stroke-width="1.0"/>
<line x1="227.7" y1="45.0" x2="228.3" y2="51.1" stroke="#2436a0" stroke-width="1.0"/>
<line x1="229.2" y1="45.0" x2="229.2" y2="47.9" stroke="#4456bc" stroke-width="1.0"/>
<line x1="230.8" y1="45.0" x2="229.7" y2="51.4" stroke="#5466c4" stroke-width="1.0"/>
<line x1="232.4" y1="45.0" x2="231.7" y2="51.2" stroke="#3a4cb4" stroke-width="1.0"/>
<line x1="233.9" y1="45.3" x2="232.2" y2="50.5" stroke="#5466c4" stroke-width="1.0"/>
<line x1="235.4" y1="45.6" x2="234.4" y2="48.6" stroke="#4456bc" stroke-width="1.0"/>
<line x1="236.9" y1="45.9" x2="237.8" y2="51.0" stroke="#3446b0" stroke-width="1.0"/>
<line x1="238.4" y1="46.3" x2="238.8" y2="48.4" stroke="#3446b0" stroke-width="1.0"/>
<line x1="240.0" y1="46.6" x2="240.5" y2="50.3" stroke="#2c3ca4" stroke-width="1.0"/>
<line x1="241.5" y1="46.9" x2="241.0" y2="49.5" stroke="#2c3ca4" stroke-width="1.0"/>
<line x1="243.0" y1="47.2" x2="244.0" y2="52.8" stroke="#2436a0" stroke-width="1.0"/>
<line x1="244.5" y1="47.5" x2="243.4" y2="50.3" stroke="#5466c4" stroke-width="1.0"/>
<line x1="246.0" y1="47.8" x2="245.3" y2="50.0" stroke="#4456bc" stroke-width="1.0"/>
<line x1="247.6" y1="48.2" x2="247.8" y2="50.7" stroke="#2c3ca4" stroke-width="1.0"/>
<line x1="249.1" y1="48.5" x2="246.8" y2="54.8" stroke="#2c3ca4" stroke-width="1.0"/>
<line x1="250.6" y1="48.8" x2="249.6" y2="54.8" stroke="#2c3ca4" stroke-width="1.0"/>
<line x1="252.1" y1="49.1" x2="251.4" y2="51.7" stroke="#2436a0" stroke-width="1.0"/>
<line x1="253.6" y1="49.4" x2="253.5" y2="53.0" stroke="#2436a0" stroke-width="1.0"/>
<line x1="255.2" y1="49.7" x2="256.5" y2="56.3" stroke="#2436a0" stroke-width="1.0"/>
<line x1="256.7" y1="50.1" x2="255.8" y2="55.8" stroke="#2436a0" stroke-width="1.0"/>
<line x1="258.2" y1="50.4" x2="259.2" y2="55.3" stroke="#4456bc" stroke-width="1.0"/>
<line x1="259.7" y1="50.7" x2="260.5" y2="55.2" stroke="#2c3ca4" stroke-width="1.0"/>
<line x1="261.2" y1="51.0" x2="261.7" y2="55.7" stroke="#2c3ca4" stroke-width="1.0"/>
<line x1="262.7" y1="51.0" x2="263.0" y2="55.9" stroke="#3a4cb4" stroke-width="1.0"/>
<line x1="264.2" y1="50.4" x2="263.4" y2="53.3" stroke="#2c3ca4" stroke-width="1.0"/>
<line x1="265.6" y1="49.9" x2="266.2" y2="53.6" stroke="#3446b0" stroke-width="1.0"/>
<line x1="267.1" y1="49.3" x2="266.1" y2="56.1" stroke="#3a4cb4" stroke-width="1.0"/>
<line x1="268.5" y1="48.7" x2="267.3" y2="51.8" stroke="#3446b0" stroke-width="1.0"/>
<line x1="269.9" y1="48.1" x2="270.5" y2="54.7" stroke="#5466c4" stroke-width="1.0"/>
<line x1="271.3" y1="47.4" x2="270.8" y2="53.2" stroke="#3a4cb4" stroke-width="1.0"/>
<line x1="272.7" y1="46.7" x2="271.7" y2="52.6" stroke="#4456bc" stroke-width="1.0"/>
<line x1="274.1" y1="46.0" x2="271.9" y2="52.3" stroke="#4456bc" stroke-width="1.0"/>
<line x1="275.5" y1="45.4" x2="276.9" y2="51.7" stroke="#2436a0" stroke-width="1.0"/>
<line x1="276.9" y1="44.7" x2="276.4" y2="48.8" stroke="#5466c4" stroke-width="1.0"/>
<line x1="278.3" y1="44.0" x2="278.1" y2="47.2" stroke="#5466c4" stroke-width="1.0"/>
<line x1="278.3" y1="44.0" x2="277.7" y2="50.5" stroke="#2436a0" stroke-width="1.0"/>
<line x1="279.4" y1="44.1" x2="278.4" y2="49.1" stroke="#3a4cb4" stroke-width="1.0"/>
<line x1="280.5" y1="44.1" x2="281.1" y2="50.5" stroke="#2436a0" stroke-width="1.0"/>
<line x1="281.5" y1="44.2" x2="282.2" y2="49.6" stroke="#5466c4" stroke-width="1.0"/>
<line x1="282.6" y1="44.2" x2="283.0" y2="47.6" stroke="#5466c4" stroke-width="1.0"/>
<line x1="283.7" y1="44.3" x2="283.1" y2="51.2" stroke="#3446b0" stroke-width="1.0"/>
<line x1="284.8" y1="44.3" x2="284.3" y2="50.6" stroke="#3446b0" stroke-width="1.0"/>
<line x1="285.9" y1="44.4" x2="286.3" y2="48.3" stroke="#5466c4" stroke-width="1.0"/>
<line x1="287.0" y1="44.4" x2="287.8" y2="52.3" stroke="#3446b0" stroke-width="1.0"/>
<line x1="288.0" y1="44.5" x2="287.0" y2="48.7" stroke="#5466c4" stroke-width="1.0"/>
<line x1="289.1" y1="44.5" x2="289.4" y2="48.3" stroke="#2c3ca4" stroke-width="1.0"/>
<line x1="290.2" y1="44.6" x2="289.5" y2="48.2" stroke="#2c3ca4" stroke-width="1.0"/>
<line x1="291.3" y1="44.6" x2="290.6" y2="49.0" stroke="#3a4cb4" stroke-width="1.0"/>
<line x1="292.4" y1="44.7" x2="292.8" y2="52.6" stroke="#2436a0" stroke-width="1.0"/>
<line x1="293.5" y1="44.7" x2="293.5" y2="50.4" stroke="#4456bc" stroke-width="1.0"/>
<line x1="294.5" y1="44.8" x2="294.1" y2="51.0" stroke="#3446b0" stroke-width="1.0"/>
<line x1="295.6" y1="44.8" x2="295.0" y2="50.8" stroke="#5466c4" stroke-width="1.0"/>
<line x1="296.7" y1="44.9" x2="295.6" y2="51.0" stroke="#5466c4" stroke-width="1.0"/>
<line x1="297.8" y1="44.9" x2="297.8" y2="47.7" stroke="#5466c4" stroke-width="1.0"/>
<line x1="298.9" y1="45.0" x2="298.9" y2="47.6" stroke="#5466c4" stroke-width="1.0"/>
<line x1="300.0" y1="45.0" x2="300.6" y2="51.3" stroke="#4456bc" stroke-width="1.0"/>
<line x1="301.0" y1="45.1" x2="300.6" y2="49.8" stroke="#5466c4" stroke-width="1.0"/>
<line x1="302.1" y1="45.1" x2="301.0" y2="51.0" stroke="#2436a0" stroke-width="1.0"/>
<line x1="303.2" y1="45.2" x2="303.3" y2="51.9" stroke="#2c3ca4" stroke-width="1.0"/>
<line x1="204.0" y1="44.0" x2="200.9" y2="44.0" stroke="#3446b0" stroke-width="0.8"/>
<line x1="206.0" y1="44.0" x2="201.5" y2="44.6" stroke="#3a4cb4" stroke-width="0.8"/>
<line x1="208.0" y1="44.0" x2="204.4" y2="44.0" stroke="#2436a0" stroke-width="0.8"/>
<path d="M332.1,34.3 C350,34 370,33.5 386.7,33.5 C393,38 400,43 406.8,46.3 C398,45.5 389,45 380.3,44.7 C376,48 372,51 367.4,52 C358,52 350,52 341.8,52 C339,48 337,44 335,40 Z" fill="url(#surfT)"/>
<defs><clipPath id="u2"><path d="M336,44 C338,47 340,50 341.8,52 C350,52 358,52 367.4,52 C372,51 376,48 380.3,44.7 C366,43.5 350,43 336,41 Z"/></clipPath></defs><path d="M336,44 C338,47 340,50 341.8,52 C350,52 358,52 367.4,52 C372,51 376,48 380.3,44.7 C366,43.5 350,43 336,41 Z" fill="#9299b6"/>
<g clip-path="url(#u2)">
<line x1="359.0" y1="45.3" x2="360.2" y2="49.1" stroke="#5466c4" stroke-width="0.8"/>
<line x1="342.8" y1="46.7" x2="341.9" y2="50.4" stroke="#3a4cb4" stroke-width="0.8"/>
<line x1="351.1" y1="40.7" x2="351.3" y2="43.3" stroke="#2c3ca4" stroke-width="0.8"/>
<line x1="337.6" y1="51.9" x2="337.0" y2="55.1" stroke="#3a4cb4" stroke-width="0.8"/>
<line x1="346.7" y1="42.9" x2="345.2" y2="46.0" stroke="#3a4cb4" stroke-width="0.8"/>
<line x1="380.6" y1="52.9" x2="380.8" y2="56.8" stroke="#3446b0" stroke-width="0.8"/>
<line x1="340.2" y1="50.1" x2="339.7" y2="53.7" stroke="#4456bc" stroke-width="0.8"/>
<line x1="364.8" y1="49.4" x2="366.1" y2="52.8" stroke="#5466c4" stroke-width="0.8"/>
<line x1="364.7" y1="50.6" x2="364.8" y2="54.3" stroke="#2436a0" stroke-width="0.8"/>
<line x1="370.5" y1="48.4" x2="370.6" y2="52.0" stroke="#6070c0" stroke-width="0.8"/>
<line x1="374.8" y1="43.5" x2="375.5" y2="46.1" stroke="#4456bc" stroke-width="0.8"/>
<line x1="366.6" y1="46.3" x2="365.5" y2="49.7" stroke="#2436a0" stroke-width="0.8"/>
<line x1="345.8" y1="43.9" x2="346.0" y2="46.9" stroke="#5466c4" stroke-width="0.8"/>
<line x1="338.1" y1="51.7" x2="338.6" y2="53.9" stroke="#4456bc" stroke-width="0.8"/>
<line x1="336.7" y1="50.8" x2="335.6" y2="54.4" stroke="#3446b0" stroke-width="0.8"/>
<line x1="359.5" y1="44.5" x2="359.0" y2="47.6" stroke="#3446b0" stroke-width="0.8"/>
<line x1="379.7" y1="48.5" x2="380.7" y2="50.8" stroke="#3446b0" stroke-width="0.8"/>
<line x1="375.0" y1="42.4" x2="374.1" y2="45.2" stroke="#3446b0" stroke-width="0.8"/>
<line x1="377.4" y1="50.3" x2="376.5" y2="52.4" stroke="#3a4cb4" stroke-width="0.8"/>
<line x1="380.9" y1="41.2" x2="380.7" y2="45.0" stroke="#5466c4" stroke-width="0.8"/>
<line x1="374.3" y1="42.6" x2="374.2" y2="45.9" stroke="#5466c4" stroke-width="0.8"/>
<line x1="374.3" y1="48.7" x2="375.2" y2="50.8" stroke="#4456bc" stroke-width="0.8"/>
<line x1="345.2" y1="41.8" x2="346.6" y2="44.5" stroke="#4456bc" stroke-width="0.8"/>
<line x1="377.5" y1="49.1" x2="378.3" y2="51.4" stroke="#3a4cb4" stroke-width="0.8"/>
<line x1="375.4" y1="40.1" x2="375.5" y2="43.8" stroke="#3a4cb4" stroke-width="0.8"/>
<line x1="357.9" y1="43.9" x2="358.1" y2="46.8" stroke="#5466c4" stroke-width="0.8"/>
<line x1="337.6" y1="48.3" x2="339.2" y2="51.2" stroke="#3a4cb4" stroke-width="0.8"/>
<line x1="336.2" y1="49.6" x2="334.9" y2="53.4" stroke="#2c3ca4" stroke-width="0.8"/>
<line x1="358.5" y1="46.3" x2="360.3" y2="49.7" stroke="#5466c4" stroke-width="0.8"/>
<line x1="353.9" y1="41.6" x2="353.6" y2="43.8" stroke="#2436a0" stroke-width="0.8"/>
<line x1="356.8" y1="46.8" x2="357.8" y2="50.2" stroke="#4456bc" stroke-width="0.8"/>
<line x1="350.4" y1="43.3" x2="350.9" y2="45.3" stroke="#2436a0" stroke-width="0.8"/>
<line x1="373.7" y1="45.2" x2="374.4" y2="48.2" stroke="#3a4cb4" stroke-width="0.8"/>
<line x1="350.6" y1="42.6" x2="351.7" y2="45.4" stroke="#3446b0" stroke-width="0.8"/>
<line x1="349.2" y1="43.9" x2="348.8" y2="47.0" stroke="#6070c0" stroke-width="0.8"/>
<line x1="381.8" y1="45.2" x2="382.1" y2="48.3" stroke="#3a4cb4" stroke-width="0.8"/>
<line x1="336.4" y1="43.9" x2="337.0" y2="45.8" stroke="#4456bc" stroke-width="0.8"/>
<line x1="363.2" y1="48.6" x2="361.7" y2="51.8" stroke="#3a4cb4" stroke-width="0.8"/>
<line x1="352.1" y1="41.9" x2="351.4" y2="45.2" stroke="#5466c4" stroke-width="0.8"/>
<line x1="338.0" y1="40.5" x2="337.6" y2="43.8" stroke="#3446b0" stroke-width="0.8"/>
<line x1="338.9" y1="42.4" x2="338.3" y2="44.3" stroke="#5466c4" stroke-width="0.8"/>
<line x1="334.6" y1="51.3" x2="335.1" y2="53.6" stroke="#5466c4" stroke-width="0.8"/>
<line x1="346.4" y1="43.9" x2="346.9" y2="46.7" stroke="#4456bc" stroke-width="0.8"/>
<line x1="361.2" y1="47.5" x2="361.2" y2="51.3" stroke="#3a4cb4" stroke-width="0.8"/>
<line x1="335.9" y1="41.5" x2="335.6" y2="45.2" stroke="#4456bc" stroke-width="0.8"/>
</g>
<defs><clipPath id="c2"><path d="M309.6,22.2 C319,23 328,28 332.1,34.3 C335,38.5 337.5,42 339,47 L308,45.2 Z"/></clipPath></defs><path d="M309.6,22.2 C319,23 328,28 332.1,34.3 C335,38.5 337.5,42 339,47 L308,45.2 Z" fill="url(#crest)"/>
<g clip-path="url(#c2)">
<line x1="321.7" y1="21.4" x2="321.1" y2="17.8" stroke="#5466c4" stroke-width="0.8"/>
<line x1="339.4" y1="33.4" x2="340.8" y2="29.9" stroke="#5466c4" stroke-width="0.8"/>
<line x1="322.6" y1="44.3" x2="320.4" y2="40.5" stroke="#2c3ca4" stroke-width="0.8"/>
<line x1="329.6" y1="24.2" x2="329.2" y2="18.8" stroke="#2c3ca4" stroke-width="0.8"/>
<line x1="311.3" y1="21.5" x2="308.8" y2="17.5" stroke="#5466c4" stroke-width="0.8"/>
<line x1="331.6" y1="45.0" x2="333.1" y2="41.7" stroke="#5466c4" stroke-width="0.8"/>
<line x1="335.2" y1="40.0" x2="336.6" y2="37.6" stroke="#5466c4" stroke-width="0.8"/>
<line x1="323.4" y1="38.4" x2="322.6" y2="33.3" stroke="#2c3ca4" stroke-width="0.8"/>
<line x1="330.7" y1="21.3" x2="331.0" y2="18.8" stroke="#3a4cb4" stroke-width="0.8"/>
<line x1="309.6" y1="29.1" x2="306.5" y2="25.6" stroke="#4456bc" stroke-width="0.8"/>
<line x1="327.1" y1="29.2" x2="327.2" y2="23.9" stroke="#4456bc" stroke-width="0.8"/>
<line x1="329.3" y1="24.8" x2="329.4" y2="19.9" stroke="#5466c4" stroke-width="0.8"/>
<line x1="312.4" y1="41.8" x2="309.5" y2="39.2" stroke="#4456bc" stroke-width="0.8"/>
<line x1="338.2" y1="41.4" x2="340.6" y2="38.0" stroke="#2c3ca4" stroke-width="0.8"/>
<line x1="327.5" y1="37.9" x2="327.5" y2="33.0" stroke="#3a4cb4" stroke-width="0.8"/>
<line x1="330.9" y1="21.4" x2="331.5" y2="18.5" stroke="#3a4cb4" stroke-width="0.8"/>
<line x1="321.1" y1="44.1" x2="319.2" y2="41.0" stroke="#3a4cb4" stroke-width="0.8"/>
<line x1="332.5" y1="27.1" x2="333.3" y2="23.3" stroke="#2436a0" stroke-width="0.8"/>
<line x1="315.7" y1="32.0" x2="313.9" y2="28.1" stroke="#2c3ca4" stroke-width="0.8"/>
<line x1="316.5" y1="24.7" x2="315.3" y2="19.6" stroke="#3446b0" stroke-width="0.8"/>
<line x1="316.0" y1="43.1" x2="312.6" y2="39.6" stroke="#4456bc" stroke-width="0.8"/>
<line x1="318.4" y1="23.2" x2="317.5" y2="19.1" stroke="#3446b0" stroke-width="0.8"/>
<line x1="333.0" y1="39.8" x2="334.5" y2="34.5" stroke="#2c3ca4" stroke-width="0.8"/>
<line x1="329.4" y1="33.1" x2="329.4" y2="30.0" stroke="#2c3ca4" stroke-width="0.8"/>
<line x1="333.1" y1="33.0" x2="334.0" y2="30.3" stroke="#2c3ca4" stroke-width="0.8"/>
<line x1="314.7" y1="36.1" x2="312.1" y2="31.6" stroke="#3a4cb4" stroke-width="0.8"/>
<line x1="317.6" y1="34.2" x2="315.9" y2="31.5" stroke="#2c3ca4" stroke-width="0.8"/>
<line x1="313.0" y1="39.2" x2="310.4" y2="36.7" stroke="#4456bc" stroke-width="0.8"/>
<line x1="332.7" y1="43.3" x2="334.4" y2="40.5" stroke="#4456bc" stroke-width="0.8"/>
<line x1="319.3" y1="23.8" x2="318.5" y2="19.4" stroke="#3446b0" stroke-width="0.8"/>
<line x1="317.4" y1="21.8" x2="316.5" y2="18.6" stroke="#2c3ca4" stroke-width="0.8"/>
<line x1="308.1" y1="46.8" x2="303.3" y2="45.0" stroke="#3a4cb4" stroke-width="0.8"/>
<line x1="314.0" y1="45.1" x2="311.1" y2="43.6" stroke="#4456bc" stroke-width="0.8"/>
<line x1="332.3" y1="42.3" x2="333.8" y2="37.1" stroke="#2c3ca4" stroke-width="0.8"/>
<line x1="318.2" y1="46.9" x2="315.0" y2="45.1" stroke="#2c3ca4" stroke-width="0.8"/>
<line x1="325.4" y1="43.6" x2="324.9" y2="39.8" stroke="#2c3ca4" stroke-width="0.8"/>
<line x1="335.5" y1="37.6" x2="337.9" y2="33.0" stroke="#2c3ca4" stroke-width="0.8"/>
<line x1="315.5" y1="35.7" x2="313.5" y2="31.7" stroke="#5466c4" stroke-width="0.8"/>
<line x1="323.7" y1="25.7" x2="322.8" y2="20.8" stroke="#3446b0" stroke-width="0.8"/>
<line x1="339.7" y1="26.8" x2="340.6" y2="24.3" stroke="#2436a0" stroke-width="0.8"/>
<line x1="309.0" y1="35.4" x2="307.3" y2="33.4" stroke="#2436a0" stroke-width="0.8"/>
<line x1="333.0" y1="39.4" x2="334.9" y2="35.5" stroke="#2c3ca4" stroke-width="0.8"/>
<line x1="310.3" y1="29.3" x2="308.7" y2="27.3" stroke="#5466c4" stroke-width="0.8"/>
<line x1="316.9" y1="36.4" x2="313.9" y2="32.6" stroke="#2436a0" stroke-width="0.8"/>
<line x1="319.3" y1="31.1" x2="317.9" y2="27.8" stroke="#4456bc" stroke-width="0.8"/>
<line x1="314.9" y1="24.7" x2="312.5" y2="20.9" stroke="#5466c4" stroke-width="0.8"/>
<line x1="337.1" y1="41.8" x2="339.1" y2="39.6" stroke="#2c3ca4" stroke-width="0.8"/>
<line x1="337.8" y1="43.5" x2="341.0" y2="39.4" stroke="#4456bc" stroke-width="0.8"/>
<line x1="338.6" y1="45.1" x2="341.1" y2="42.4" stroke="#2c3ca4" stroke-width="0.8"/>
<line x1="321.9" y1="29.8" x2="320.7" y2="25.0" stroke="#5466c4" stroke-width="0.8"/>
<line x1="319.1" y1="29.6" x2="317.1" y2="25.4" stroke="#4456bc" stroke-width="0.8"/>
<line x1="325.3" y1="24.8" x2="324.5" y2="19.7" stroke="#4456bc" stroke-width="0.8"/>
<line x1="315.1" y1="21.7" x2="313.4" y2="17.8" stroke="#3446b0" stroke-width="0.8"/>
<line x1="315.6" y1="23.8" x2="314.1" y2="20.3" stroke="#3446b0" stroke-width="0.8"/>
<line x1="339.3" y1="22.5" x2="341.3" y2="17.7" stroke="#3446b0" stroke-width="0.8"/>
<line x1="325.5" y1="42.7" x2="325.1" y2="39.9" stroke="#2436a0" stroke-width="0.8"/>
<line x1="321.3" y1="27.8" x2="320.2" y2="24.8" stroke="#4456bc" stroke-width="0.8"/>
<line x1="316.6" y1="44.3" x2="314.6" y2="42.4" stroke="#2436a0" stroke-width="0.8"/>
<line x1="311.8" y1="37.6" x2="309.1" y2="34.9" stroke="#3a4cb4" stroke-width="0.8"/>
<line x1="311.6" y1="21.0" x2="309.4" y2="16.6" stroke="#3446b0" stroke-width="0.8"/>
<line x1="318.9" y1="22.1" x2="317.6" y2="18.5" stroke="#3446b0" stroke-width="0.8"/>
<line x1="311.6" y1="25.7" x2="309.4" y2="21.4" stroke="#3446b0" stroke-width="0.8"/>
<line x1="326.8" y1="42.6" x2="326.6" y2="37.4" stroke="#2436a0" stroke-width="0.8"/>
<line x1="312.8" y1="24.6" x2="310.9" y2="20.5" stroke="#3446b0" stroke-width="0.8"/>
<line x1="326.2" y1="26.3" x2="326.2" y2="23.6" stroke="#4456bc" stroke-width="0.8"/>
<line x1="334.8" y1="44.8" x2="337.0" y2="41.5" stroke="#2436a0" stroke-width="0.8"/>
<line x1="334.8" y1="43.5" x2="336.5" y2="39.9" stroke="#4456bc" stroke-width="0.8"/>
<line x1="311.4" y1="38.3" x2="309.1" y2="36.0" stroke="#2436a0" stroke-width="0.8"/>
<line x1="308.2" y1="39.3" x2="305.1" y2="36.4" stroke="#2436a0" stroke-width="0.8"/>
<line x1="324.2" y1="32.6" x2="323.0" y2="28.7" stroke="#5466c4" stroke-width="0.8"/>
<line x1="315.1" y1="42.6" x2="311.4" y2="38.8" stroke="#4456bc" stroke-width="0.8"/>
<line x1="326.0" y1="44.3" x2="325.0" y2="41.1" stroke="#5466c4" stroke-width="0.8"/>
<line x1="323.3" y1="34.3" x2="322.4" y2="30.4" stroke="#2c3ca4" stroke-width="0.8"/>
<line x1="315.0" y1="23.3" x2="313.0" y2="19.5" stroke="#2436a0" stroke-width="0.8"/>
<line x1="315.3" y1="42.2" x2="313.2" y2="40.7" stroke="#5466c4" stroke-width="0.8"/>
<line x1="331.4" y1="27.8" x2="332.2" y2="22.9" stroke="#4456bc" stroke-width="0.8"/>
<line x1="324.3" y1="39.3" x2="323.8" y2="36.5" stroke="#5466c4" stroke-width="0.8"/>
<line x1="312.9" y1="28.1" x2="311.0" y2="24.7" stroke="#2436a0" stroke-width="0.8"/>
<line x1="310.6" y1="24.2" x2="308.1" y2="19.7" stroke="#3446b0" stroke-width="0.8"/>
<line x1="335.4" y1="24.8" x2="336.7" y2="20.8" stroke="#3446b0" stroke-width="0.8"/>
<line x1="338.3" y1="21.5" x2="339.8" y2="17.4" stroke="#3a4cb4" stroke-width="0.8"/>
<line x1="334.7" y1="34.7" x2="336.3" y2="31.4" stroke="#2436a0" stroke-width="0.8"/>
<line x1="318.2" y1="27.2" x2="316.9" y2="24.0" stroke="#3a4cb4" stroke-width="0.8"/>
<line x1="333.5" y1="44.7" x2="336.5" y2="40.8" stroke="#2c3ca4" stroke-width="0.8"/>
<line x1="317.7" y1="24.8" x2="316.0" y2="20.6" stroke="#4456bc" stroke-width="0.8"/>
<line x1="328.9" y1="21.3" x2="328.7" y2="18.5" stroke="#2436a0" stroke-width="0.8"/>
<line x1="321.3" y1="34.1" x2="320.2" y2="31.8" stroke="#4456bc" stroke-width="0.8"/>
<line x1="332.6" y1="45.4" x2="335.0" y2="41.7" stroke="#2c3ca4" stroke-width="0.8"/>
<line x1="308.1" y1="37.7" x2="305.7" y2="35.5" stroke="#2436a0" stroke-width="0.8"/>
<line x1="327.7" y1="42.0" x2="327.4" y2="39.4" stroke="#2c3ca4" stroke-width="0.8"/>
<line x1="324.2" y1="32.3" x2="322.9" y2="27.1" stroke="#2436a0" stroke-width="0.8"/>
<line x1="318.5" y1="25.3" x2="318.0" y2="22.7" stroke="#3a4cb4" stroke-width="0.8"/>
<line x1="336.7" y1="23.2" x2="338.4" y2="19.3" stroke="#4456bc" stroke-width="0.8"/>
<line x1="311.1" y1="24.4" x2="309.3" y2="21.5" stroke="#2436a0" stroke-width="0.8"/>
<line x1="316.0" y1="40.1" x2="312.8" y2="36.7" stroke="#4456bc" stroke-width="0.8"/>
<line x1="327.1" y1="35.8" x2="326.5" y2="31.4" stroke="#5466c4" stroke-width="0.8"/>
<line x1="319.1" y1="44.2" x2="316.8" y2="41.7" stroke="#2436a0" stroke-width="0.8"/>
<line x1="308.0" y1="29.7" x2="306.1" y2="27.3" stroke="#3a4cb4" stroke-width="0.8"/>
<line x1="320.1" y1="45.0" x2="318.4" y2="42.6" stroke="#2436a0" stroke-width="0.8"/>
<line x1="325.4" y1="33.8" x2="325.4" y2="30.4" stroke="#2436a0" stroke-width="0.8"/>
<line x1="308.9" y1="21.6" x2="306.9" y2="17.9" stroke="#2436a0" stroke-width="0.8"/>
<line x1="321.5" y1="22.6" x2="320.7" y2="19.0" stroke="#5466c4" stroke-width="0.8"/>
<line x1="332.2" y1="34.5" x2="333.6" y2="29.3" stroke="#3446b0" stroke-width="0.8"/>
<line x1="320.8" y1="38.4" x2="319.3" y2="35.8" stroke="#3a4cb4" stroke-width="0.8"/>
<line x1="335.0" y1="42.4" x2="337.4" y2="39.0" stroke="#5466c4" stroke-width="0.8"/>
<line x1="337.4" y1="46.9" x2="340.1" y2="45.0" stroke="#5466c4" stroke-width="0.8"/>
<line x1="337.2" y1="24.3" x2="338.0" y2="19.3" stroke="#3a4cb4" stroke-width="0.8"/>
<line x1="326.3" y1="33.9" x2="326.0" y2="28.6" stroke="#4456bc" stroke-width="0.8"/>
<line x1="335.0" y1="28.3" x2="335.7" y2="24.0" stroke="#4456bc" stroke-width="0.8"/>
<line x1="329.9" y1="28.5" x2="330.0" y2="24.9" stroke="#3a4cb4" stroke-width="0.8"/>
<line x1="325.3" y1="31.0" x2="325.2" y2="27.5" stroke="#4456bc" stroke-width="0.8"/>
<line x1="319.6" y1="28.8" x2="318.6" y2="24.8" stroke="#4456bc" stroke-width="0.8"/>
<line x1="326.0" y1="36.1" x2="326.0" y2="33.4" stroke="#2436a0" stroke-width="0.8"/>
<line x1="339.0" y1="36.8" x2="340.6" y2="34.0" stroke="#4456bc" stroke-width="0.8"/>
<line x1="336.4" y1="45.9" x2="338.1" y2="43.9" stroke="#4456bc" stroke-width="0.8"/>
<line x1="316.9" y1="34.9" x2="315.3" y2="31.9" stroke="#4456bc" stroke-width="0.8"/>
<line x1="324.1" y1="34.4" x2="323.0" y2="30.0" stroke="#2436a0" stroke-width="0.8"/>
<line x1="308.3" y1="38.6" x2="305.0" y2="36.6" stroke="#2c3ca4" stroke-width="0.8"/>
<line x1="324.3" y1="23.6" x2="323.8" y2="20.0" stroke="#3a4cb4" stroke-width="0.8"/>
<line x1="337.6" y1="25.0" x2="338.5" y2="22.1" stroke="#4456bc" stroke-width="0.8"/>
<line x1="321.5" y1="37.2" x2="319.3" y2="32.2" stroke="#3a4cb4" stroke-width="0.8"/>
<line x1="331.6" y1="23.4" x2="331.9" y2="19.8" stroke="#2c3ca4" stroke-width="0.8"/>
<line x1="334.3" y1="34.3" x2="335.4" y2="31.7" stroke="#5466c4" stroke-width="0.8"/>
<line x1="318.3" y1="45.3" x2="315.7" y2="42.3" stroke="#5466c4" stroke-width="0.8"/>
<line x1="312.2" y1="28.5" x2="310.0" y2="25.1" stroke="#3446b0" stroke-width="0.8"/>
<line x1="320.6" y1="22.6" x2="319.2" y2="18.6" stroke="#3a4cb4" stroke-width="0.8"/>
<line x1="339.8" y1="37.5" x2="341.3" y2="35.4" stroke="#2c3ca4" stroke-width="0.8"/>
<line x1="317.1" y1="39.0" x2="315.5" y2="37.0" stroke="#2c3ca4" stroke-width="0.8"/>
<line x1="326.3" y1="38.4" x2="326.0" y2="35.3" stroke="#3a4cb4" stroke-width="0.8"/>
<line x1="325.7" y1="43.6" x2="324.6" y2="38.6" stroke="#3446b0" stroke-width="0.8"/>
<line x1="326.0" y1="31.7" x2="325.4" y2="28.9" stroke="#3a4cb4" stroke-width="0.8"/>
<line x1="310.5" y1="23.6" x2="309.0" y2="21.0" stroke="#4456bc" stroke-width="0.8"/>
<line x1="327.2" y1="42.0" x2="326.7" y2="39.3" stroke="#3a4cb4" stroke-width="0.8"/>
<line x1="317.7" y1="39.6" x2="315.3" y2="36.9" stroke="#2436a0" stroke-width="0.8"/>
<line x1="327.7" y1="43.3" x2="327.0" y2="38.1" stroke="#3446b0" stroke-width="0.8"/>
<line x1="321.8" y1="31.0" x2="321.4" y2="28.4" stroke="#3a4cb4" stroke-width="0.8"/>
<line x1="332.2" y1="22.1" x2="332.4" y2="19.5" stroke="#3446b0" stroke-width="0.8"/>
<line x1="308.5" y1="45.2" x2="303.7" y2="43.4" stroke="#4456bc" stroke-width="0.8"/>
<line x1="317.0" y1="36.7" x2="314.1" y2="32.1" stroke="#2c3ca4" stroke-width="0.8"/>
<line x1="315.0" y1="31.1" x2="312.4" y2="27.3" stroke="#2436a0" stroke-width="0.8"/>
<line x1="320.2" y1="39.5" x2="319.2" y2="37.1" stroke="#2c3ca4" stroke-width="0.8"/>
<line x1="312.7" y1="30.3" x2="311.4" y2="27.6" stroke="#2436a0" stroke-width="0.8"/>
<line x1="320.1" y1="30.4" x2="319.3" y2="27.0" stroke="#2436a0" stroke-width="0.8"/>
<line x1="320.3" y1="22.7" x2="319.9" y2="19.9" stroke="#2436a0" stroke-width="0.8"/>
<line x1="325.3" y1="31.1" x2="324.6" y2="27.2" stroke="#4456bc" stroke-width="0.8"/>
<line x1="308.2" y1="38.3" x2="305.2" y2="36.4" stroke="#5466c4" stroke-width="0.8"/>
<line x1="311.3" y1="26.1" x2="309.5" y2="22.4" stroke="#3a4cb4" stroke-width="0.8"/>
<line x1="321.6" y1="42.7" x2="318.8" y2="38.7" stroke="#2436a0" stroke-width="0.8"/>
<line x1="314.1" y1="31.5" x2="311.9" y2="27.7" stroke="#2436a0" stroke-width="0.8"/>
<line x1="338.4" y1="34.1" x2="339.8" y2="31.3" stroke="#3446b0" stroke-width="0.8"/>
<line x1="338.1" y1="46.9" x2="341.6" y2="44.4" stroke="#2436a0" stroke-width="0.8"/>
<line x1="324.6" y1="31.5" x2="323.6" y2="27.6" stroke="#2c3ca4" stroke-width="0.8"/>
<line x1="329.4" y1="23.4" x2="329.9" y2="18.4" stroke="#4456bc" stroke-width="0.8"/>
<line x1="307.9" y1="39.7" x2="305.4" y2="38.3" stroke="#5466c4" stroke-width="0.8"/>
<line x1="309.8" y1="25.6" x2="306.9" y2="21.5" stroke="#5466c4" stroke-width="0.8"/>
<line x1="336.4" y1="22.8" x2="338.2" y2="17.8" stroke="#2436a0" stroke-width="0.8"/>
<line x1="313.4" y1="39.7" x2="311.3" y2="37.9" stroke="#5466c4" stroke-width="0.8"/>
<line x1="320.2" y1="30.3" x2="318.5" y2="25.5" stroke="#5466c4" stroke-width="0.8"/>
<line x1="336.1" y1="43.4" x2="337.7" y2="41.0" stroke="#2c3ca4" stroke-width="0.8"/>
<line x1="319.1" y1="41.8" x2="316.8" y2="37.8" stroke="#2c3ca4" stroke-width="0.8"/>
<line x1="328.7" y1="39.2" x2="329.2" y2="36.0" stroke="#2436a0" stroke-width="0.8"/>
<line x1="336.9" y1="23.5" x2="337.6" y2="20.2" stroke="#3a4cb4" stroke-width="0.8"/>
<line x1="331.2" y1="39.5" x2="331.5" y2="36.9" stroke="#3446b0" stroke-width="0.8"/>
<line x1="321.2" y1="40.7" x2="320.0" y2="38.0" stroke="#3a4cb4" stroke-width="0.8"/>
<line x1="317.3" y1="37.6" x2="315.8" y2="34.9" stroke="#3a4cb4" stroke-width="0.8"/>
<line x1="323.4" y1="34.5" x2="322.5" y2="29.4" stroke="#3a4cb4" stroke-width="0.8"/>
<line x1="318.5" y1="21.0" x2="317.5" y2="16.1" stroke="#2436a0" stroke-width="0.8"/>
<line x1="336.7" y1="43.8" x2="339.7" y2="40.7" stroke="#3446b0" stroke-width="0.8"/>
<line x1="329.5" y1="22.0" x2="329.9" y2="18.5" stroke="#2436a0" stroke-width="0.8"/>
<line x1="331.7" y1="23.2" x2="332.2" y2="18.7" stroke="#5466c4" stroke-width="0.8"/>
<line x1="327.3" y1="26.7" x2="327.0" y2="22.7" stroke="#4456bc" stroke-width="0.8"/>
<line x1="321.6" y1="29.8" x2="320.8" y2="25.9" stroke="#5466c4" stroke-width="0.8"/>
<line x1="327.7" y1="34.2" x2="327.2" y2="29.7" stroke="#5466c4" stroke-width="0.8"/>
<line x1="323.9" y1="45.1" x2="322.9" y2="42.4" stroke="#2c3ca4" stroke-width="0.8"/>
<line x1="338.4" y1="42.5" x2="340.9" y2="39.1" stroke="#3446b0" stroke-width="0.8"/>
<line x1="339.0" y1="37.6" x2="341.0" y2="34.0" stroke="#2c3ca4" stroke-width="0.8"/>
<line x1="312.5" y1="30.0" x2="311.1" y2="27.6" stroke="#3446b0" stroke-width="0.8"/>
<line x1="311.5" y1="39.4" x2="307.9" y2="36.6" stroke="#3446b0" stroke-width="0.8"/>
<line x1="307.2" y1="39.0" x2="304.9" y2="37.2" stroke="#5466c4" stroke-width="0.8"/>
<line x1="316.9" y1="44.0" x2="314.7" y2="42.0" stroke="#2436a0" stroke-width="0.8"/>
<line x1="327.8" y1="24.1" x2="328.2" y2="20.3" stroke="#5466c4" stroke-width="0.8"/>
<line x1="329.0" y1="36.6" x2="329.5" y2="32.7" stroke="#3446b0" stroke-width="0.8"/>
<line x1="310.8" y1="28.5" x2="308.5" y2="25.7" stroke="#2c3ca4" stroke-width="0.8"/>
<line x1="336.6" y1="28.9" x2="337.3" y2="26.2" stroke="#2c3ca4" stroke-width="0.8"/>
<line x1="312.3" y1="32.6" x2="309.6" y2="29.3" stroke="#3a4cb4" stroke-width="0.8"/>
<line x1="309.4" y1="21.3" x2="307.0" y2="16.3" stroke="#2c3ca4" stroke-width="0.8"/>
<line x1="331.7" y1="29.6" x2="332.1" y2="24.9" stroke="#5466c4" stroke-width="0.8"/>
<line x1="323.1" y1="32.3" x2="322.5" y2="29.3" stroke="#2c3ca4" stroke-width="0.8"/>
<line x1="318.9" y1="23.4" x2="318.0" y2="20.1" stroke="#5466c4" stroke-width="0.8"/>
<line x1="328.5" y1="27.5" x2="328.3" y2="24.3" stroke="#2c3ca4" stroke-width="0.8"/>
</g>
<line x1="308.0" y1="45.5" x2="307.8" y2="47.6" stroke="#3446b0" stroke-width="0.8"/>
<line x1="309.4" y1="45.8" x2="308.6" y2="48.6" stroke="#c02838" stroke-width="0.8"/>
<line x1="310.7" y1="46.0" x2="309.9" y2="48.4" stroke="#5466c4" stroke-width="0.8"/>
<line x1="312.1" y1="46.3" x2="312.2" y2="49.9" stroke="#3446b0" stroke-width="0.8"/>
<line x1="313.4" y1="46.6" x2="313.7" y2="49.7" stroke="#2c3ca4" stroke-width="0.8"/>
<line x1="314.8" y1="46.9" x2="315.2" y2="50.0" stroke="#2436a0" stroke-width="0.8"/>
<line x1="316.1" y1="47.1" x2="313.1" y2="52.9" stroke="#4456bc" stroke-width="0.8"/>
<line x1="317.5" y1="47.4" x2="314.7" y2="52.3" stroke="#a01020" stroke-width="0.8"/>
<line x1="318.8" y1="47.7" x2="318.9" y2="50.4" stroke="#2436a0" stroke-width="0.8"/>
<line x1="320.2" y1="47.9" x2="320.5" y2="50.4" stroke="#c84858" stroke-width="0.8"/>
<line x1="321.5" y1="48.2" x2="321.3" y2="51.3" stroke="#5466c4" stroke-width="0.8"/>
<line x1="322.9" y1="48.5" x2="320.6" y2="54.3" stroke="#2c3ca4" stroke-width="0.8"/>
<line x1="324.2" y1="48.8" x2="324.5" y2="51.1" stroke="#3446b0" stroke-width="0.8"/>
<line x1="325.6" y1="49.0" x2="326.0" y2="51.3" stroke="#c02838" stroke-width="0.8"/>
<line x1="326.9" y1="49.3" x2="327.3" y2="55.8" stroke="#4456bc" stroke-width="0.8"/>
<line x1="328.3" y1="49.6" x2="326.5" y2="55.3" stroke="#4456bc" stroke-width="0.8"/>
<line x1="329.6" y1="49.9" x2="329.5" y2="52.3" stroke="#3a4cb4" stroke-width="0.8"/>
<line x1="331.0" y1="50.1" x2="328.3" y2="56.1" stroke="#5466c4" stroke-width="0.8"/>
<line x1="332.3" y1="50.4" x2="330.4" y2="55.1" stroke="#3446b0" stroke-width="0.8"/>
<line x1="333.7" y1="50.7" x2="333.5" y2="55.7" stroke="#3446b0" stroke-width="0.8"/>
<line x1="335.0" y1="50.9" x2="333.8" y2="55.2" stroke="#3446b0" stroke-width="0.8"/>
<line x1="336.4" y1="51.2" x2="335.2" y2="55.7" stroke="#c84858" stroke-width="0.8"/>
<line x1="337.7" y1="51.5" x2="337.0" y2="56.8" stroke="#5466c4" stroke-width="0.8"/>
<line x1="339.1" y1="51.8" x2="338.2" y2="55.5" stroke="#3a4cb4" stroke-width="0.8"/>
<line x1="340.4" y1="52.0" x2="340.0" y2="55.2" stroke="#c84858" stroke-width="0.8"/>
<line x1="341.8" y1="52.3" x2="340.5" y2="54.9" stroke="#a01020" stroke-width="0.8"/>
<line x1="341.8" y1="52.3" x2="341.0" y2="54.8" stroke="#4456bc" stroke-width="0.8"/>
<line x1="344.1" y1="52.3" x2="344.4" y2="55.9" stroke="#c02838" stroke-width="0.8"/>
<line x1="346.5" y1="52.3" x2="346.1" y2="55.7" stroke="#c02838" stroke-width="0.8"/>
<line x1="348.8" y1="52.3" x2="348.2" y2="57.0" stroke="#3446b0" stroke-width="0.8"/>
<line x1="351.1" y1="52.3" x2="351.8" y2="56.6" stroke="#c02838" stroke-width="0.8"/>
<line x1="353.4" y1="52.3" x2="352.3" y2="56.3" stroke="#c02838" stroke-width="0.8"/>
<line x1="355.8" y1="52.3" x2="355.0" y2="54.5" stroke="#2436a0" stroke-width="0.8"/>
<line x1="358.1" y1="52.3" x2="358.7" y2="57.2" stroke="#3446b0" stroke-width="0.8"/>
<line x1="360.4" y1="52.3" x2="359.8" y2="54.6" stroke="#4456bc" stroke-width="0.8"/>
<line x1="362.7" y1="52.3" x2="363.2" y2="54.4" stroke="#4456bc" stroke-width="0.8"/>
<line x1="365.1" y1="52.3" x2="365.7" y2="55.6" stroke="#3446b0" stroke-width="0.8"/>
<line x1="367.4" y1="52.3" x2="366.1" y2="55.9" stroke="#5466c4" stroke-width="0.8"/>
<line x1="367.4" y1="52.0" x2="366.2" y2="55.3" stroke="#b01828" stroke-width="0.8"/>
<line x1="369.2" y1="51.0" x2="369.7" y2="56.5" stroke="#e0a0a0" stroke-width="0.8"/>
<line x1="371.1" y1="50.0" x2="369.2" y2="55.5" stroke="#e0a0a0" stroke-width="0.8"/>
<line x1="372.9" y1="49.0" x2="372.6" y2="53.0" stroke="#e0a0a0" stroke-width="0.8"/>
<line x1="374.8" y1="48.0" x2="373.3" y2="51.0" stroke="#c02838" stroke-width="0.8"/>
<line x1="376.6" y1="47.0" x2="375.4" y2="50.9" stroke="#e0a0a0" stroke-width="0.8"/>
<line x1="378.5" y1="46.0" x2="376.9" y2="50.0" stroke="#b01828" stroke-width="0.8"/>
<line x1="380.3" y1="45.0" x2="380.5" y2="50.4" stroke="#c02838" stroke-width="0.8"/>
<line x1="380.3" y1="45.0" x2="379.5" y2="52.3" stroke="#3a4cb4" stroke-width="0.8"/>
<line x1="381.5" y1="45.1" x2="380.8" y2="50.7" stroke="#8090d0" stroke-width="0.8"/>
<line x1="382.6" y1="45.1" x2="382.7" y2="48.2" stroke="#8090d0" stroke-width="0.8"/>
<line x1="383.8" y1="45.2" x2="382.6" y2="52.5" stroke="#2436a0" stroke-width="0.8"/>
<line x1="384.9" y1="45.3" x2="384.3" y2="51.3" stroke="#8090d0" stroke-width="0.8"/>
<line x1="386.1" y1="45.3" x2="385.2" y2="53.1" stroke="#4456bc" stroke-width="0.8"/>
<line x1="387.2" y1="45.4" x2="386.6" y2="52.7" stroke="#5466c4" stroke-width="0.8"/>
<line x1="388.4" y1="45.5" x2="388.6" y2="51.1" stroke="#2c3ca4" stroke-width="0.8"/>
<line x1="389.5" y1="45.5" x2="388.8" y2="49.5" stroke="#5466c4" stroke-width="0.8"/>
<line x1="390.7" y1="45.6" x2="390.7" y2="51.5" stroke="#2c3ca4" stroke-width="0.8"/>
<line x1="391.8" y1="45.7" x2="391.7" y2="50.3" stroke="#4456bc" stroke-width="0.8"/>
<line x1="393.0" y1="45.7" x2="391.7" y2="50.9" stroke="#2436a0" stroke-width="0.8"/>
<line x1="394.1" y1="45.8" x2="394.9" y2="52.4" stroke="#3446b0" stroke-width="0.8"/>
<line x1="395.3" y1="45.8" x2="395.6" y2="51.3" stroke="#2436a0" stroke-width="0.8"/>
<line x1="396.4" y1="45.9" x2="397.7" y2="53.8" stroke="#3446b0" stroke-width="0.8"/>
<line x1="397.6" y1="46.0" x2="396.5" y2="53.3" stroke="#3446b0" stroke-width="0.8"/>
<line x1="398.7" y1="46.0" x2="399.0" y2="50.9" stroke="#2436a0" stroke-width="0.8"/>
<line x1="399.9" y1="46.1" x2="400.2" y2="52.5" stroke="#5466c4" stroke-width="0.8"/>
<line x1="401.0" y1="46.2" x2="400.5" y2="51.7" stroke="#c04050" stroke-width="0.8"/>
<line x1="402.2" y1="46.2" x2="401.6" y2="50.9" stroke="#8090d0" stroke-width="0.8"/>
<line x1="403.3" y1="46.3" x2="402.2" y2="51.7" stroke="#5466c4" stroke-width="0.8"/>
<line x1="404.5" y1="46.4" x2="404.8" y2="50.1" stroke="#8090d0" stroke-width="0.8"/>
<line x1="405.6" y1="46.4" x2="405.7" y2="51.5" stroke="#2436a0" stroke-width="0.8"/>
<line x1="406.8" y1="46.5" x2="407.5" y2="52.4" stroke="#3a4cb4" stroke-width="0.8"/>
<path d="M435.7,34.4 C455,34 475,33.5 492.9,33.4 C500,38 507,44 513.3,47.7 C505,46 494,44 484.7,43.6 C478,47 473,50 468.4,51.8 C460,51.5 452,51 445.9,50.8 C443,47 441,44 439,40 Z" fill="url(#surfT)"/>
<defs><clipPath id="u3"><path d="M440,44 C442,47 444,50 445.9,50.8 C452,51 460,51.5 468.4,51.8 C462,49 452,46.5 440,42 Z"/></clipPath></defs><path d="M440,44 C442,47 444,50 445.9,50.8 C452,51 460,51.5 468.4,51.8 C462,49 452,46.5 440,42 Z" fill="#9299b6"/>
<g clip-path="url(#u3)">
<line x1="461.3" y1="47.6" x2="461.9" y2="51.4" stroke="#3446b0" stroke-width="0.8"/>
<line x1="456.7" y1="42.0" x2="456.5" y2="44.3" stroke="#4456bc" stroke-width="0.8"/>
<line x1="449.4" y1="50.3" x2="448.3" y2="52.9" stroke="#2c3ca4" stroke-width="0.8"/>
<line x1="464.8" y1="44.8" x2="463.9" y2="47.0" stroke="#3a4cb4" stroke-width="0.8"/>
<line x1="438.7" y1="43.0" x2="438.2" y2="45.5" stroke="#3446b0" stroke-width="0.8"/>
<line x1="439.5" y1="46.4" x2="440.4" y2="50.1" stroke="#3a4cb4" stroke-width="0.8"/>
<line x1="458.7" y1="43.4" x2="457.1" y2="46.4" stroke="#3a4cb4" stroke-width="0.8"/>
<line x1="439.6" y1="41.9" x2="439.3" y2="45.5" stroke="#5466c4" stroke-width="0.8"/>
<line x1="442.4" y1="43.3" x2="441.2" y2="46.1" stroke="#5466c4" stroke-width="0.8"/>
<line x1="448.3" y1="41.3" x2="447.3" y2="43.8" stroke="#2c3ca4" stroke-width="0.8"/>
<line x1="458.8" y1="45.9" x2="459.3" y2="49.2" stroke="#2c3ca4" stroke-width="0.8"/>
<line x1="465.6" y1="50.6" x2="465.4" y2="52.7" stroke="#4456bc" stroke-width="0.8"/>
<line x1="469.6" y1="45.8" x2="468.1" y2="49.4" stroke="#2c3ca4" stroke-width="0.8"/>
<line x1="467.6" y1="47.8" x2="469.4" y2="51.3" stroke="#3a4cb4" stroke-width="0.8"/>
<line x1="460.7" y1="51.0" x2="461.8" y2="53.0" stroke="#3446b0" stroke-width="0.8"/>
<line x1="442.6" y1="50.2" x2="441.9" y2="52.3" stroke="#4456bc" stroke-width="0.8"/>
<line x1="449.0" y1="49.2" x2="450.3" y2="52.7" stroke="#3a4cb4" stroke-width="0.8"/>
<line x1="456.4" y1="43.8" x2="455.4" y2="46.8" stroke="#4456bc" stroke-width="0.8"/>
<line x1="462.4" y1="50.3" x2="461.7" y2="52.8" stroke="#5466c4" stroke-width="0.8"/>
<line x1="452.5" y1="44.3" x2="451.1" y2="47.1" stroke="#3446b0" stroke-width="0.8"/>
<line x1="446.1" y1="47.7" x2="445.4" y2="49.8" stroke="#2436a0" stroke-width="0.8"/>
<line x1="442.8" y1="48.5" x2="441.5" y2="51.0" stroke="#2c3ca4" stroke-width="0.8"/>
<line x1="458.0" y1="42.5" x2="458.9" y2="45.4" stroke="#3446b0" stroke-width="0.8"/>
<line x1="446.3" y1="48.3" x2="444.9" y2="51.4" stroke="#5466c4" stroke-width="0.8"/>
<line x1="465.4" y1="50.3" x2="465.9" y2="53.4" stroke="#5466c4" stroke-width="0.8"/>
<line x1="445.8" y1="52.8" x2="445.3" y2="55.8" stroke="#2436a0" stroke-width="0.8"/>
<line x1="466.8" y1="45.7" x2="466.1" y2="48.0" stroke="#2c3ca4" stroke-width="0.8"/>
<line x1="441.4" y1="49.8" x2="441.1" y2="51.9" stroke="#4456bc" stroke-width="0.8"/>
<line x1="459.6" y1="45.2" x2="459.9" y2="47.6" stroke="#4456bc" stroke-width="0.8"/>
<line x1="468.2" y1="48.5" x2="468.9" y2="50.9" stroke="#2436a0" stroke-width="0.8"/>
<line x1="460.7" y1="43.9" x2="461.2" y2="46.6" stroke="#4456bc" stroke-width="0.8"/>
<line x1="458.6" y1="44.6" x2="459.7" y2="48.4" stroke="#3a4cb4" stroke-width="0.8"/>
<line x1="463.3" y1="46.7" x2="462.2" y2="50.4" stroke="#3446b0" stroke-width="0.8"/>
<line x1="464.3" y1="44.4" x2="464.4" y2="47.1" stroke="#3446b0" stroke-width="0.8"/>
<line x1="443.2" y1="49.2" x2="443.3" y2="52.4" stroke="#3a4cb4" stroke-width="0.8"/>
</g>
<defs><clipPath id="c3"><path d="M413.2,19.1 C423,20 431,27 435.7,34.4 C438,38 440,42 441.5,46 L412.2,45.7 Z"/></clipPath></defs><path d="M413.2,19.1 C423,20 431,27 435.7,34.4 C438,38 440,42 441.5,46 L412.2,45.7 Z" fill="url(#crest)"/>
<g clip-path="url(#c3)">
<line x1="412.7" y1="40.7" x2="408.7" y2="37.5" stroke="#2c3ca4" stroke-width="0.8"/>
<line x1="436.0" y1="43.0" x2="437.3" y2="40.3" stroke="#2436a0" stroke-width="0.8"/>
<line x1="432.9" y1="41.3" x2="433.5" y2="38.4" stroke="#3446b0" stroke-width="0.8"/>
<line x1="440.2" y1="22.4" x2="440.8" y2="17.7" stroke="#3446b0" stroke-width="0.8"/>
<line x1="425.9" y1="29.5" x2="425.1" y2="25.9" stroke="#5466c4" stroke-width="0.8"/>
<line x1="433.9" y1="43.6" x2="434.2" y2="38.1" stroke="#3446b0" stroke-width="0.8"/>
<line x1="417.4" y1="36.2" x2="415.6" y2="34.4" stroke="#3a4cb4" stroke-width="0.8"/>
<line x1="418.4" y1="30.5" x2="416.7" y2="28.3" stroke="#2436a0" stroke-width="0.8"/>
<line x1="413.1" y1="21.2" x2="411.0" y2="16.2" stroke="#3a4cb4" stroke-width="0.8"/>
<line x1="424.7" y1="23.2" x2="423.2" y2="18.9" stroke="#5466c4" stroke-width="0.8"/>
<line x1="428.5" y1="46.8" x2="427.0" y2="43.0" stroke="#2c3ca4" stroke-width="0.8"/>
<line x1="422.2" y1="24.2" x2="421.0" y2="19.0" stroke="#5466c4" stroke-width="0.8"/>
<line x1="413.3" y1="38.4" x2="411.3" y2="36.9" stroke="#2c3ca4" stroke-width="0.8"/>
<line x1="417.3" y1="19.4" x2="416.0" y2="14.7" stroke="#2436a0" stroke-width="0.8"/>
<line x1="411.3" y1="38.0" x2="407.9" y2="35.2" stroke="#3a4cb4" stroke-width="0.8"/>
<line x1="421.6" y1="29.9" x2="419.8" y2="24.7" stroke="#2436a0" stroke-width="0.8"/>
<line x1="423.8" y1="27.2" x2="423.2" y2="23.5" stroke="#4456bc" stroke-width="0.8"/>
<line x1="435.4" y1="43.6" x2="437.4" y2="39.1" stroke="#5466c4" stroke-width="0.8"/>
<line x1="411.2" y1="35.6" x2="407.0" y2="32.4" stroke="#3a4cb4" stroke-width="0.8"/>
<line x1="434.4" y1="46.7" x2="436.1" y2="42.1" stroke="#2c3ca4" stroke-width="0.8"/>
<line x1="438.0" y1="40.7" x2="439.5" y2="35.7" stroke="#5466c4" stroke-width="0.8"/>
<line x1="428.9" y1="37.9" x2="428.3" y2="34.1" stroke="#4456bc" stroke-width="0.8"/>
<line x1="442.1" y1="18.0" x2="443.8" y2="13.6" stroke="#3a4cb4" stroke-width="0.8"/>
<line x1="422.0" y1="33.8" x2="420.6" y2="30.4" stroke="#5466c4" stroke-width="0.8"/>
<line x1="438.8" y1="28.3" x2="439.9" y2="25.8" stroke="#2436a0" stroke-width="0.8"/>
<line x1="430.6" y1="37.6" x2="430.4" y2="34.2" stroke="#3a4cb4" stroke-width="0.8"/>
<line x1="432.3" y1="44.8" x2="432.1" y2="40.0" stroke="#4456bc" stroke-width="0.8"/>
<line x1="438.4" y1="28.1" x2="439.6" y2="24.0" stroke="#3446b0" stroke-width="0.8"/>
<line x1="413.1" y1="40.0" x2="410.1" y2="38.1" stroke="#3446b0" stroke-width="0.8"/>
<line x1="437.0" y1="24.9" x2="437.8" y2="22.0" stroke="#4456bc" stroke-width="0.8"/>
<line x1="416.7" y1="45.5" x2="412.4" y2="42.8" stroke="#2c3ca4" stroke-width="0.8"/>
<line x1="421.3" y1="28.5" x2="419.2" y2="23.8" stroke="#4456bc" stroke-width="0.8"/>
<line x1="415.9" y1="25.3" x2="414.5" y2="22.9" stroke="#3a4cb4" stroke-width="0.8"/>
<line x1="427.7" y1="31.1" x2="427.1" y2="28.4" stroke="#4456bc" stroke-width="0.8"/>
<line x1="433.2" y1="31.0" x2="433.8" y2="27.1" stroke="#3a4cb4" stroke-width="0.8"/>
<line x1="415.8" y1="37.7" x2="413.3" y2="35.2" stroke="#3446b0" stroke-width="0.8"/>
<line x1="430.9" y1="33.2" x2="430.3" y2="28.3" stroke="#3a4cb4" stroke-width="0.8"/>
<line x1="417.4" y1="34.5" x2="415.6" y2="32.6" stroke="#5466c4" stroke-width="0.8"/>
<line x1="428.4" y1="44.6" x2="427.1" y2="41.6" stroke="#4456bc" stroke-width="0.8"/>
<line x1="413.9" y1="36.4" x2="410.0" y2="33.2" stroke="#4456bc" stroke-width="0.8"/>
<line x1="441.7" y1="26.4" x2="443.8" y2="22.1" stroke="#5466c4" stroke-width="0.8"/>
<line x1="425.2" y1="28.6" x2="423.7" y2="24.2" stroke="#4456bc" stroke-width="0.8"/>
<line x1="424.8" y1="35.6" x2="423.4" y2="32.7" stroke="#3a4cb4" stroke-width="0.8"/>
<line x1="415.1" y1="35.9" x2="411.8" y2="31.6" stroke="#3a4cb4" stroke-width="0.8"/>
<line x1="422.9" y1="37.3" x2="420.9" y2="34.5" stroke="#4456bc" stroke-width="0.8"/>
<line x1="423.1" y1="33.2" x2="422.0" y2="29.4" stroke="#2c3ca4" stroke-width="0.8"/>
<line x1="414.4" y1="34.3" x2="411.1" y2="30.2" stroke="#4456bc" stroke-width="0.8"/>
<line x1="424.3" y1="31.7" x2="422.5" y2="26.9" stroke="#4456bc" stroke-width="0.8"/>
<line x1="415.3" y1="39.8" x2="413.3" y2="38.3" stroke="#3446b0" stroke-width="0.8"/>
<line x1="423.9" y1="19.2" x2="422.9" y2="14.7" stroke="#4456bc" stroke-width="0.8"/>
<line x1="435.6" y1="21.4" x2="435.6" y2="18.3" stroke="#2c3ca4" stroke-width="0.8"/>
<line x1="414.3" y1="20.6" x2="412.1" y2="16.3" stroke="#2c3ca4" stroke-width="0.8"/>
<line x1="437.4" y1="23.8" x2="438.3" y2="20.4" stroke="#3a4cb4" stroke-width="0.8"/>
<line x1="433.1" y1="30.1" x2="433.9" y2="25.9" stroke="#2c3ca4" stroke-width="0.8"/>
<line x1="438.9" y1="22.2" x2="439.7" y2="18.8" stroke="#2c3ca4" stroke-width="0.8"/>
<line x1="417.0" y1="33.6" x2="414.2" y2="30.7" stroke="#4456bc" stroke-width="0.8"/>
<line x1="419.2" y1="42.9" x2="416.0" y2="40.2" stroke="#4456bc" stroke-width="0.8"/>
<line x1="432.8" y1="26.9" x2="432.8" y2="23.7" stroke="#4456bc" stroke-width="0.8"/>
<line x1="438.4" y1="25.5" x2="438.7" y2="22.4" stroke="#3a4cb4" stroke-width="0.8"/>
<line x1="431.9" y1="45.0" x2="432.1" y2="40.6" stroke="#3446b0" stroke-width="0.8"/>
<line x1="422.7" y1="41.2" x2="421.2" y2="38.5" stroke="#3a4cb4" stroke-width="0.8"/>
<line x1="432.2" y1="39.1" x2="432.0" y2="36.6" stroke="#3a4cb4" stroke-width="0.8"/>
<line x1="437.3" y1="19.0" x2="437.8" y2="15.9" stroke="#3446b0" stroke-width="0.8"/>
<line x1="433.7" y1="41.3" x2="434.3" y2="37.0" stroke="#5466c4" stroke-width="0.8"/>
<line x1="425.2" y1="43.5" x2="423.8" y2="41.2" stroke="#5466c4" stroke-width="0.8"/>
<line x1="415.0" y1="22.0" x2="413.0" y2="17.2" stroke="#4456bc" stroke-width="0.8"/>
<line x1="416.8" y1="44.7" x2="413.4" y2="42.3" stroke="#4456bc" stroke-width="0.8"/>
<line x1="418.1" y1="38.9" x2="415.2" y2="35.1" stroke="#3a4cb4" stroke-width="0.8"/>
<line x1="437.8" y1="22.2" x2="438.3" y2="17.0" stroke="#2c3ca4" stroke-width="0.8"/>
<line x1="425.9" y1="23.8" x2="425.0" y2="21.2" stroke="#3446b0" stroke-width="0.8"/>
<line x1="432.1" y1="25.5" x2="432.4" y2="20.3" stroke="#3446b0" stroke-width="0.8"/>
<line x1="438.8" y1="44.8" x2="440.3" y2="42.3" stroke="#4456bc" stroke-width="0.8"/>
<line x1="420.4" y1="24.7" x2="418.6" y2="20.9" stroke="#3a4cb4" stroke-width="0.8"/>
<line x1="434.0" y1="27.0" x2="434.3" y2="23.7" stroke="#3446b0" stroke-width="0.8"/>
<line x1="415.9" y1="41.2" x2="411.5" y2="37.9" stroke="#2c3ca4" stroke-width="0.8"/>
<line x1="421.5" y1="22.5" x2="420.6" y2="19.3" stroke="#5466c4" stroke-width="0.8"/>
<line x1="414.0" y1="31.5" x2="411.0" y2="27.9" stroke="#5466c4" stroke-width="0.8"/>
<line x1="423.8" y1="19.1" x2="423.2" y2="15.6" stroke="#3446b0" stroke-width="0.8"/>
<line x1="442.9" y1="45.2" x2="445.9" y2="42.5" stroke="#2436a0" stroke-width="0.8"/>
<line x1="411.6" y1="40.7" x2="407.6" y2="37.4" stroke="#3446b0" stroke-width="0.8"/>
<line x1="426.5" y1="43.1" x2="424.6" y2="39.2" stroke="#2c3ca4" stroke-width="0.8"/>
<line x1="417.4" y1="31.6" x2="415.1" y2="27.4" stroke="#3446b0" stroke-width="0.8"/>
<line x1="429.5" y1="26.7" x2="428.7" y2="22.5" stroke="#2c3ca4" stroke-width="0.8"/>
<line x1="422.0" y1="45.4" x2="418.3" y2="42.9" stroke="#2436a0" stroke-width="0.8"/>
<line x1="422.2" y1="32.0" x2="420.7" y2="28.8" stroke="#2c3ca4" stroke-width="0.8"/>
<line x1="436.2" y1="26.6" x2="436.7" y2="24.0" stroke="#2c3ca4" stroke-width="0.8"/>
<line x1="434.9" y1="21.3" x2="435.1" y2="18.3" stroke="#2c3ca4" stroke-width="0.8"/>
<line x1="412.1" y1="32.9" x2="410.2" y2="30.8" stroke="#3446b0" stroke-width="0.8"/>
<line x1="424.3" y1="42.3" x2="422.9" y2="39.9" stroke="#5466c4" stroke-width="0.8"/>
<line x1="416.2" y1="22.9" x2="413.6" y2="18.3" stroke="#5466c4" stroke-width="0.8"/>
<line x1="438.9" y1="31.9" x2="439.5" y2="29.0" stroke="#3446b0" stroke-width="0.8"/>
<line x1="414.7" y1="32.4" x2="411.9" y2="29.5" stroke="#4456bc" stroke-width="0.8"/>
<line x1="418.9" y1="34.5" x2="417.3" y2="32.4" stroke="#3446b0" stroke-width="0.8"/>
<line x1="420.1" y1="34.1" x2="417.8" y2="29.1" stroke="#5466c4" stroke-width="0.8"/>
<line x1="438.9" y1="32.6" x2="439.8" y2="27.5" stroke="#2c3ca4" stroke-width="0.8"/>
<line x1="426.6" y1="40.9" x2="425.2" y2="37.0" stroke="#3446b0" stroke-width="0.8"/>
<line x1="413.8" y1="23.0" x2="411.9" y2="18.3" stroke="#4456bc" stroke-width="0.8"/>
<line x1="423.6" y1="33.0" x2="422.7" y2="29.8" stroke="#2c3ca4" stroke-width="0.8"/>
<line x1="432.2" y1="24.3" x2="432.5" y2="21.1" stroke="#3a4cb4" stroke-width="0.8"/>
<line x1="433.7" y1="19.8" x2="434.0" y2="16.6" stroke="#2c3ca4" stroke-width="0.8"/>
<line x1="412.3" y1="35.9" x2="409.2" y2="32.6" stroke="#2436a0" stroke-width="0.8"/>
<line x1="413.7" y1="40.0" x2="410.1" y2="37.7" stroke="#2436a0" stroke-width="0.8"/>
<line x1="441.1" y1="29.9" x2="442.0" y2="26.3" stroke="#3446b0" stroke-width="0.8"/>
<line x1="415.7" y1="32.8" x2="414.1" y2="30.3" stroke="#3446b0" stroke-width="0.8"/>
<line x1="417.5" y1="44.8" x2="413.8" y2="42.2" stroke="#2c3ca4" stroke-width="0.8"/>
<line x1="442.9" y1="41.0" x2="445.4" y2="37.9" stroke="#2436a0" stroke-width="0.8"/>
<line x1="440.1" y1="39.8" x2="441.9" y2="35.8" stroke="#5466c4" stroke-width="0.8"/>
<line x1="412.6" y1="28.6" x2="410.5" y2="25.5" stroke="#2436a0" stroke-width="0.8"/>
<line x1="429.6" y1="41.3" x2="429.2" y2="37.3" stroke="#4456bc" stroke-width="0.8"/>
<line x1="415.3" y1="42.0" x2="411.4" y2="38.5" stroke="#5466c4" stroke-width="0.8"/>
<line x1="425.9" y1="40.9" x2="423.6" y2="36.9" stroke="#4456bc" stroke-width="0.8"/>
<line x1="437.4" y1="40.7" x2="439.1" y2="35.9" stroke="#3a4cb4" stroke-width="0.8"/>
<line x1="428.0" y1="45.4" x2="427.2" y2="42.7" stroke="#2436a0" stroke-width="0.8"/>
<line x1="435.0" y1="42.6" x2="435.9" y2="39.5" stroke="#3a4cb4" stroke-width="0.8"/>
<line x1="418.6" y1="32.3" x2="416.1" y2="27.7" stroke="#5466c4" stroke-width="0.8"/>
<line x1="412.6" y1="37.2" x2="409.9" y2="34.7" stroke="#2436a0" stroke-width="0.8"/>
<line x1="437.4" y1="29.8" x2="438.1" y2="27.1" stroke="#2436a0" stroke-width="0.8"/>
<line x1="432.2" y1="44.2" x2="432.1" y2="40.4" stroke="#2436a0" stroke-width="0.8"/>
<line x1="426.6" y1="18.5" x2="426.5" y2="15.6" stroke="#4456bc" stroke-width="0.8"/>
<line x1="424.1" y1="26.7" x2="423.4" y2="23.9" stroke="#2c3ca4" stroke-width="0.8"/>
<line x1="422.3" y1="42.5" x2="419.3" y2="39.3" stroke="#2c3ca4" stroke-width="0.8"/>
<line x1="442.8" y1="23.4" x2="444.3" y2="18.5" stroke="#3a4cb4" stroke-width="0.8"/>
<line x1="436.8" y1="21.5" x2="436.9" y2="17.0" stroke="#3446b0" stroke-width="0.8"/>
<line x1="423.5" y1="27.6" x2="422.3" y2="24.9" stroke="#2436a0" stroke-width="0.8"/>
<line x1="439.5" y1="35.7" x2="441.3" y2="30.8" stroke="#4456bc" stroke-width="0.8"/>
<line x1="421.2" y1="43.4" x2="417.8" y2="39.9" stroke="#3446b0" stroke-width="0.8"/>
<line x1="423.5" y1="18.3" x2="421.8" y2="13.5" stroke="#3446b0" stroke-width="0.8"/>
<line x1="425.5" y1="41.5" x2="423.9" y2="38.6" stroke="#2c3ca4" stroke-width="0.8"/>
<line x1="442.5" y1="39.3" x2="445.4" y2="35.6" stroke="#3446b0" stroke-width="0.8"/>
<line x1="440.7" y1="43.9" x2="443.2" y2="40.2" stroke="#3a4cb4" stroke-width="0.8"/>
<line x1="421.6" y1="25.7" x2="420.3" y2="22.6" stroke="#5466c4" stroke-width="0.8"/>
<line x1="431.2" y1="28.9" x2="431.3" y2="24.8" stroke="#5466c4" stroke-width="0.8"/>
<line x1="426.9" y1="28.5" x2="425.2" y2="23.4" stroke="#5466c4" stroke-width="0.8"/>
<line x1="414.8" y1="28.9" x2="412.9" y2="26.1" stroke="#3446b0" stroke-width="0.8"/>
<line x1="434.3" y1="39.7" x2="434.6" y2="37.2" stroke="#3446b0" stroke-width="0.8"/>
<line x1="411.2" y1="45.2" x2="408.1" y2="44.1" stroke="#3a4cb4" stroke-width="0.8"/>
<line x1="427.3" y1="46.9" x2="425.6" y2="44.4" stroke="#2436a0" stroke-width="0.8"/>
<line x1="431.1" y1="25.0" x2="430.3" y2="20.3" stroke="#3a4cb4" stroke-width="0.8"/>
<line x1="442.3" y1="36.8" x2="445.0" y2="32.7" stroke="#4456bc" stroke-width="0.8"/>
<line x1="426.8" y1="46.3" x2="425.1" y2="43.1" stroke="#2436a0" stroke-width="0.8"/>
<line x1="416.2" y1="34.7" x2="413.4" y2="30.6" stroke="#2436a0" stroke-width="0.8"/>
<line x1="439.6" y1="23.8" x2="440.2" y2="18.9" stroke="#2436a0" stroke-width="0.8"/>
<line x1="434.6" y1="22.9" x2="434.5" y2="19.5" stroke="#2436a0" stroke-width="0.8"/>
<line x1="442.1" y1="40.5" x2="444.4" y2="37.8" stroke="#2436a0" stroke-width="0.8"/>
<line x1="420.9" y1="45.4" x2="418.4" y2="43.6" stroke="#4456bc" stroke-width="0.8"/>
<line x1="423.9" y1="37.8" x2="422.1" y2="34.6" stroke="#4456bc" stroke-width="0.8"/>
<line x1="419.5" y1="23.9" x2="417.5" y2="19.1" stroke="#4456bc" stroke-width="0.8"/>
<line x1="431.4" y1="40.6" x2="430.9" y2="37.2" stroke="#3a4cb4" stroke-width="0.8"/>
<line x1="426.0" y1="34.2" x2="425.1" y2="29.8" stroke="#2436a0" stroke-width="0.8"/>
<line x1="423.5" y1="38.8" x2="422.0" y2="35.4" stroke="#5466c4" stroke-width="0.8"/>
<line x1="414.9" y1="31.0" x2="413.4" y2="29.0" stroke="#5466c4" stroke-width="0.8"/>
<line x1="429.1" y1="28.3" x2="428.2" y2="23.0" stroke="#3446b0" stroke-width="0.8"/>
<line x1="439.3" y1="43.4" x2="441.0" y2="41.1" stroke="#4456bc" stroke-width="0.8"/>
<line x1="437.7" y1="38.6" x2="439.1" y2="33.5" stroke="#3446b0" stroke-width="0.8"/>
<line x1="442.0" y1="36.4" x2="444.5" y2="32.6" stroke="#4456bc" stroke-width="0.8"/>
<line x1="437.9" y1="40.9" x2="439.9" y2="36.3" stroke="#4456bc" stroke-width="0.8"/>
<line x1="436.8" y1="28.1" x2="437.6" y2="25.2" stroke="#3a4cb4" stroke-width="0.8"/>
<line x1="434.5" y1="30.0" x2="434.8" y2="24.7" stroke="#3446b0" stroke-width="0.8"/>
<line x1="421.8" y1="19.9" x2="420.8" y2="16.3" stroke="#3a4cb4" stroke-width="0.8"/>
<line x1="432.4" y1="34.8" x2="432.5" y2="31.0" stroke="#2436a0" stroke-width="0.8"/>
<line x1="436.1" y1="37.7" x2="436.9" y2="32.7" stroke="#3446b0" stroke-width="0.8"/>
<line x1="432.5" y1="39.9" x2="433.1" y2="35.9" stroke="#2c3ca4" stroke-width="0.8"/>
<line x1="434.8" y1="41.8" x2="436.2" y2="37.6" stroke="#3446b0" stroke-width="0.8"/>
<line x1="431.7" y1="43.4" x2="432.0" y2="39.7" stroke="#5466c4" stroke-width="0.8"/>
<line x1="413.2" y1="35.5" x2="409.4" y2="32.2" stroke="#3446b0" stroke-width="0.8"/>
<line x1="439.9" y1="27.0" x2="441.0" y2="23.6" stroke="#2c3ca4" stroke-width="0.8"/>
<line x1="422.5" y1="38.3" x2="421.3" y2="35.8" stroke="#2436a0" stroke-width="0.8"/>
<line x1="418.0" y1="31.3" x2="415.4" y2="27.2" stroke="#3a4cb4" stroke-width="0.8"/>
<line x1="412.9" y1="30.9" x2="410.5" y2="27.5" stroke="#2c3ca4" stroke-width="0.8"/>
<line x1="428.2" y1="31.6" x2="427.3" y2="27.7" stroke="#2436a0" stroke-width="0.8"/>
<line x1="441.9" y1="33.4" x2="443.3" y2="30.5" stroke="#3446b0" stroke-width="0.8"/>
<line x1="420.0" y1="46.2" x2="416.6" y2="43.7" stroke="#3446b0" stroke-width="0.8"/>
<line x1="435.9" y1="18.8" x2="436.3" y2="14.8" stroke="#2c3ca4" stroke-width="0.8"/>
<line x1="441.5" y1="25.9" x2="442.1" y2="23.2" stroke="#4456bc" stroke-width="0.8"/>
<line x1="427.4" y1="35.1" x2="427.0" y2="31.9" stroke="#2c3ca4" stroke-width="0.8"/>
<line x1="436.7" y1="45.9" x2="438.9" y2="43.1" stroke="#2c3ca4" stroke-width="0.8"/>
<line x1="431.5" y1="34.7" x2="431.9" y2="30.9" stroke="#5466c4" stroke-width="0.8"/>
<line x1="430.8" y1="23.5" x2="430.1" y2="19.2" stroke="#3446b0" stroke-width="0.8"/>
<line x1="420.0" y1="23.6" x2="418.3" y2="19.2" stroke="#4456bc" stroke-width="0.8"/>
<line x1="435.9" y1="40.9" x2="437.6" y2="36.5" stroke="#3446b0" stroke-width="0.8"/>
<line x1="428.9" y1="38.3" x2="428.3" y2="33.0" stroke="#2c3ca4" stroke-width="0.8"/>
<line x1="440.4" y1="39.0" x2="442.2" y2="34.6" stroke="#3446b0" stroke-width="0.8"/>
<line x1="424.4" y1="42.2" x2="422.2" y2="38.4" stroke="#3a4cb4" stroke-width="0.8"/>
<line x1="419.4" y1="28.3" x2="418.2" y2="25.6" stroke="#2436a0" stroke-width="0.8"/>
<line x1="420.8" y1="19.3" x2="419.7" y2="16.4" stroke="#2c3ca4" stroke-width="0.8"/>
<line x1="436.7" y1="31.2" x2="437.0" y2="28.4" stroke="#3446b0" stroke-width="0.8"/>
<line x1="422.6" y1="43.6" x2="419.7" y2="41.0" stroke="#2436a0" stroke-width="0.8"/>
<line x1="436.4" y1="31.8" x2="436.9" y2="26.9" stroke="#2c3ca4" stroke-width="0.8"/>
<line x1="427.9" y1="25.3" x2="427.2" y2="21.7" stroke="#5466c4" stroke-width="0.8"/>
<line x1="411.7" y1="44.4" x2="407.8" y2="41.9" stroke="#3a4cb4" stroke-width="0.8"/>
</g>
<line x1="412.2" y1="45.8" x2="410.8" y2="49.9" stroke="#4456bc" stroke-width="0.9"/>
<line x1="413.6" y1="46.0" x2="414.2" y2="49.3" stroke="#3a4cb4" stroke-width="0.9"/>
<line x1="415.1" y1="46.1" x2="415.8" y2="50.7" stroke="#2c3ca4" stroke-width="0.9"/>
<line x1="416.6" y1="46.3" x2="417.2" y2="50.7" stroke="#3a4cb4" stroke-width="0.9"/>
<line x1="418.0" y1="46.5" x2="415.6" y2="51.7" stroke="#3a4cb4" stroke-width="0.9"/>
<line x1="418.0" y1="46.5" x2="419.4" y2="53.8" stroke="#c02838" stroke-width="1.0"/>
<line x1="419.1" y1="46.7" x2="420.2" y2="49.5" stroke="#c84858" stroke-width="1.0"/>
<line x1="420.2" y1="46.9" x2="419.9" y2="50.3" stroke="#2436a0" stroke-width="1.0"/>
<line x1="421.3" y1="47.0" x2="422.0" y2="52.3" stroke="#2436a0" stroke-width="1.0"/>
<line x1="422.5" y1="47.2" x2="423.3" y2="54.0" stroke="#4456bc" stroke-width="1.0"/>
<line x1="423.6" y1="47.4" x2="423.8" y2="51.2" stroke="#c84858" stroke-width="1.0"/>
<line x1="424.7" y1="47.6" x2="426.0" y2="54.0" stroke="#b01828" stroke-width="1.0"/>
<line x1="425.8" y1="47.8" x2="426.4" y2="51.3" stroke="#c84858" stroke-width="1.0"/>
<line x1="426.9" y1="47.9" x2="426.2" y2="54.9" stroke="#c84858" stroke-width="1.0"/>
<line x1="428.0" y1="48.1" x2="428.1" y2="54.3" stroke="#c84858" stroke-width="1.0"/>
<line x1="429.2" y1="48.3" x2="432.0" y2="55.3" stroke="#2436a0" stroke-width="1.0"/>
<line x1="430.3" y1="48.5" x2="431.4" y2="51.5" stroke="#c84858" stroke-width="1.0"/>
<line x1="431.4" y1="48.7" x2="434.6" y2="54.7" stroke="#3446b0" stroke-width="1.0"/>
<line x1="432.5" y1="48.8" x2="434.3" y2="52.8" stroke="#c84858" stroke-width="1.0"/>
<line x1="433.6" y1="49.0" x2="433.0" y2="55.8" stroke="#b01828" stroke-width="1.0"/>
<line x1="434.7" y1="49.2" x2="437.5" y2="55.7" stroke="#c84858" stroke-width="1.0"/>
<line x1="435.9" y1="49.4" x2="435.1" y2="54.9" stroke="#b01828" stroke-width="1.0"/>
<line x1="437.0" y1="49.6" x2="438.6" y2="52.5" stroke="#c02838" stroke-width="1.0"/>
<line x1="438.1" y1="49.7" x2="438.6" y2="55.2" stroke="#5466c4" stroke-width="1.0"/>
<line x1="439.2" y1="49.9" x2="440.8" y2="52.9" stroke="#a01020" stroke-width="1.0"/>
<line x1="440.3" y1="50.1" x2="440.6" y2="55.4" stroke="#c02838" stroke-width="1.0"/>
<line x1="441.4" y1="50.3" x2="441.3" y2="53.4" stroke="#2436a0" stroke-width="1.0"/>
<line x1="442.6" y1="50.5" x2="442.7" y2="54.5" stroke="#3446b0" stroke-width="1.0"/>
<line x1="443.7" y1="50.6" x2="444.4" y2="58.5" stroke="#3a4cb4" stroke-width="1.0"/>
<line x1="444.8" y1="50.8" x2="446.9" y2="55.1" stroke="#c84858" stroke-width="1.0"/>
<line x1="445.9" y1="51.0" x2="447.0" y2="54.3" stroke="#a01020" stroke-width="1.0"/>
<line x1="445.9" y1="51.0" x2="445.5" y2="53.3" stroke="#3446b0" stroke-width="0.8"/>
<line x1="447.6" y1="51.1" x2="448.0" y2="53.0" stroke="#5466c4" stroke-width="0.8"/>
<line x1="449.4" y1="51.2" x2="449.8" y2="54.7" stroke="#4456bc" stroke-width="0.8"/>
<line x1="451.1" y1="51.2" x2="450.6" y2="55.0" stroke="#5466c4" stroke-width="0.8"/>
<line x1="452.8" y1="51.3" x2="453.5" y2="54.7" stroke="#2c3ca4" stroke-width="0.8"/>
<line x1="454.6" y1="51.4" x2="455.4" y2="54.7" stroke="#4456bc" stroke-width="0.8"/>
<line x1="456.3" y1="51.5" x2="457.1" y2="55.0" stroke="#2436a0" stroke-width="0.8"/>
<line x1="458.0" y1="51.5" x2="457.4" y2="54.3" stroke="#2436a0" stroke-width="0.8"/>
<line x1="459.7" y1="51.6" x2="460.6" y2="55.2" stroke="#3446b0" stroke-width="0.8"/>
<line x1="461.5" y1="51.7" x2="460.3" y2="54.3" stroke="#4456bc" stroke-width="0.8"/>
<line x1="463.2" y1="51.8" x2="462.1" y2="55.1" stroke="#2436a0" stroke-width="0.8"/>
<line x1="464.9" y1="51.8" x2="465.2" y2="54.4" stroke="#2c3ca4" stroke-width="0.8"/>
<line x1="466.7" y1="51.9" x2="466.4" y2="54.6" stroke="#2436a0" stroke-width="0.8"/>
<line x1="468.4" y1="52.0" x2="467.9" y2="53.9" stroke="#2436a0" stroke-width="0.8"/>
<line x1="470.0" y1="51.0" x2="469.3" y2="57.1" stroke="#5466c4" stroke-width="0.9"/>
<line x1="471.0" y1="50.3" x2="470.8" y2="56.7" stroke="#a01020" stroke-width="0.9"/>
<line x1="472.0" y1="49.6" x2="469.5" y2="54.1" stroke="#2c3ca4" stroke-width="0.9"/>
<line x1="473.0" y1="48.9" x2="472.2" y2="52.0" stroke="#e0a8a8" stroke-width="0.9"/>
<line x1="473.9" y1="48.2" x2="471.9" y2="52.4" stroke="#2436a0" stroke-width="0.9"/>
<line x1="474.9" y1="47.5" x2="475.5" y2="50.8" stroke="#e0a8a8" stroke-width="0.9"/>
<line x1="475.9" y1="46.8" x2="474.2" y2="53.1" stroke="#a01020" stroke-width="0.9"/>
<line x1="476.9" y1="46.1" x2="478.3" y2="52.9" stroke="#2436a0" stroke-width="0.9"/>
<line x1="478.1" y1="45.7" x2="476.4" y2="48.9" stroke="#c02838" stroke-width="0.9"/>
<line x1="479.2" y1="45.3" x2="479.7" y2="49.3" stroke="#4456bc" stroke-width="0.9"/>
<line x1="480.4" y1="44.9" x2="479.0" y2="51.3" stroke="#2436a0" stroke-width="0.9"/>
<line x1="481.5" y1="44.6" x2="480.6" y2="50.1" stroke="#3446b0" stroke-width="0.9"/>
<line x1="482.7" y1="44.2" x2="482.7" y2="47.5" stroke="#4456bc" stroke-width="0.9"/>
<line x1="483.8" y1="43.9" x2="484.9" y2="47.0" stroke="#c02838" stroke-width="0.9"/>
<line x1="485.0" y1="43.6" x2="483.6" y2="48.7" stroke="#2c3ca4" stroke-width="0.9"/>
<line x1="486.2" y1="43.8" x2="486.9" y2="49.5" stroke="#c02838" stroke-width="0.9"/>
<line x1="487.4" y1="44.0" x2="488.3" y2="50.5" stroke="#4456bc" stroke-width="0.9"/>
<line x1="488.6" y1="44.1" x2="488.4" y2="49.9" stroke="#a01020" stroke-width="0.9"/>
<line x1="489.8" y1="44.3" x2="489.5" y2="50.7" stroke="#c84858" stroke-width="0.9"/>
<line x1="491.0" y1="44.5" x2="489.9" y2="47.4" stroke="#5466c4" stroke-width="0.9"/>
<line x1="492.2" y1="44.6" x2="492.4" y2="48.5" stroke="#3446b0" stroke-width="0.9"/>
<line x1="493.4" y1="44.8" x2="494.0" y2="47.8" stroke="#c02838" stroke-width="0.9"/>
<line x1="494.6" y1="45.0" x2="493.2" y2="50.9" stroke="#b01828" stroke-width="0.9"/>
<line x1="495.8" y1="45.2" x2="496.6" y2="48.8" stroke="#b01828" stroke-width="0.9"/>
<line x1="497.0" y1="45.5" x2="496.0" y2="49.9" stroke="#c84858" stroke-width="0.9"/>
<line x1="498.2" y1="45.7" x2="498.5" y2="49.0" stroke="#e0a8a8" stroke-width="0.9"/>
<line x1="499.4" y1="46.0" x2="497.7" y2="49.1" stroke="#4456bc" stroke-width="0.9"/>
<line x1="500.5" y1="46.3" x2="500.6" y2="50.0" stroke="#a01020" stroke-width="0.9"/>
<line x1="501.7" y1="46.6" x2="501.3" y2="51.0" stroke="#c84858" stroke-width="0.9"/>
<line x1="502.9" y1="46.8" x2="504.3" y2="53.3" stroke="#e0a8a8" stroke-width="0.9"/>
<line x1="504.1" y1="47.1" x2="505.0" y2="53.1" stroke="#c84858" stroke-width="0.9"/>
<line x1="505.3" y1="47.4" x2="502.9" y2="53.0" stroke="#e0a8a8" stroke-width="0.9"/>
<line x1="506.5" y1="47.7" x2="504.5" y2="52.2" stroke="#2436a0" stroke-width="0.9"/>
<line x1="507.6" y1="47.9" x2="507.8" y2="52.5" stroke="#c84858" stroke-width="0.9"/>
<line x1="508.8" y1="48.2" x2="510.0" y2="52.8" stroke="#4456bc" stroke-width="0.9"/>
<line x1="510.0" y1="48.5" x2="510.0" y2="53.5" stroke="#e0a8a8" stroke-width="0.9"/>
<defs><linearGradient id="b1g" gradientUnits="userSpaceOnUse" x1="229" y1="0" x2="303" y2="0"><stop offset="0" stop-color="#e0e0d8"/><stop offset="0.5" stop-color="#d9d9d1"/><stop offset="0.78" stop-color="#b9b9b1"/><stop offset="0.9" stop-color="#c6c6be"/><stop offset="1" stop-color="#cfcfc7"/></linearGradient></defs>
<path d="M229,142.7 C235,142.4 240,142 245,141.3 C252,140 258,138 265,134.7 C270,132.5 275,130.5 279,129.8 C281,129.5 283,129.4 284.5,130.5 C287,133 289,139 290.5,142.7 C292.5,145 294,146.5 295.9,147.4 C298,148.5 300,149.5 302.5,150.7 C300,152.5 298,153.5 295.9,154.8 C292,158 287,161.5 282.5,164.1 C277,165 271,165.5 265.1,165.5 C258,165.3 251,165 245,164.1 C240,162.5 235,161 230.3,158.8 C229.5,153 229.2,148 229,142.7 Z" fill="url(#b1g)"/>
<path d="M232,155.3 C240,155.6 246,155.8 251.7,156.1 C256,156.8 261,157.8 265.1,158.8 C269,160 272.5,161.5 275.8,162.8 C278,163.3 280.5,163.8 282.5,164.1 C277,165 271,165.5 265.1,165.5 C258,165.3 251,165 245,164.1 C240,162.5 235,161 231,158.8 Z" fill="#c6c6be"/>
<path d="M232,155.3 C240,155.6 246,155.8 251.7,156.1 C256,156.8 261,157.8 265.1,158.8 C269,160 272.5,161.5 275.8,162.8 C278,163.3 280.5,163.8 282.5,164.1" fill="none" stroke="#8c8c86" stroke-width="0.6"/>
<line x1="236.0" y1="155.5" x2="237.9" y2="155.6" stroke="#2c3ca4" stroke-width="0.9"/>
<line x1="237.6" y1="155.6" x2="239.5" y2="155.7" stroke="#3446b0" stroke-width="0.9"/>
<line x1="239.1" y1="155.6" x2="242.8" y2="156.8" stroke="#3446b0" stroke-width="0.9"/>
<line x1="240.7" y1="155.7" x2="243.4" y2="155.7" stroke="#4456bc" stroke-width="0.9"/>
<line x1="242.2" y1="155.8" x2="243.6" y2="156.8" stroke="#3446b0" stroke-width="0.9"/>
<line x1="243.8" y1="155.8" x2="246.5" y2="156.6" stroke="#2c3ca4" stroke-width="0.9"/>
<line x1="245.3" y1="155.9" x2="247.0" y2="156.0" stroke="#4456bc" stroke-width="0.9"/>
<line x1="246.9" y1="156.0" x2="250.3" y2="155.8" stroke="#5466c4" stroke-width="0.9"/>
<line x1="248.4" y1="156.1" x2="250.7" y2="156.1" stroke="#2436a0" stroke-width="0.9"/>
<line x1="250.0" y1="156.1" x2="251.5" y2="156.8" stroke="#2436a0" stroke-width="0.9"/>
<line x1="251.5" y1="156.2" x2="253.4" y2="155.9" stroke="#3a4cb4" stroke-width="0.9"/>
<line x1="253.1" y1="156.5" x2="256.5" y2="157.9" stroke="#2c3ca4" stroke-width="0.9"/>
<line x1="254.6" y1="156.8" x2="257.4" y2="156.9" stroke="#3a4cb4" stroke-width="0.9"/>
<line x1="256.1" y1="157.1" x2="257.9" y2="157.4" stroke="#2436a0" stroke-width="0.9"/>
<line x1="257.6" y1="157.4" x2="260.4" y2="159.2" stroke="#5466c4" stroke-width="0.9"/>
<line x1="259.1" y1="157.7" x2="261.1" y2="157.7" stroke="#5466c4" stroke-width="0.9"/>
<line x1="260.7" y1="158.0" x2="262.4" y2="158.0" stroke="#4456bc" stroke-width="0.9"/>
<line x1="262.2" y1="158.3" x2="265.5" y2="160.4" stroke="#2436a0" stroke-width="0.9"/>
<line x1="263.7" y1="158.6" x2="266.1" y2="160.4" stroke="#5466c4" stroke-width="0.9"/>
<line x1="265.2" y1="158.9" x2="267.1" y2="159.2" stroke="#2c3ca4" stroke-width="0.9"/>
<line x1="266.7" y1="159.4" x2="269.3" y2="160.2" stroke="#4456bc" stroke-width="0.9"/>
<line x1="268.2" y1="159.9" x2="271.4" y2="159.9" stroke="#3446b0" stroke-width="0.9"/>
<line x1="269.7" y1="160.4" x2="273.3" y2="160.4" stroke="#4456bc" stroke-width="0.9"/>
<line x1="271.1" y1="160.9" x2="272.8" y2="162.2" stroke="#2c3ca4" stroke-width="0.9"/>
<line x1="272.6" y1="161.4" x2="275.1" y2="161.7" stroke="#2c3ca4" stroke-width="0.9"/>
<line x1="274.1" y1="161.9" x2="276.7" y2="163.3" stroke="#2c3ca4" stroke-width="0.9"/>
<line x1="275.6" y1="162.3" x2="277.2" y2="163.3" stroke="#4456bc" stroke-width="0.9"/>
<line x1="277.0" y1="162.8" x2="279.7" y2="164.1" stroke="#3446b0" stroke-width="0.9"/>
<line x1="278.5" y1="163.3" x2="281.4" y2="163.5" stroke="#3446b0" stroke-width="0.9"/>
<line x1="280.0" y1="163.8" x2="284.0" y2="163.6" stroke="#2c3ca4" stroke-width="0.9"/>
<defs><clipPath id="c4"><path d="M204.6,116.4 C214,116.5 222,122 226,132 C228,137 229,141 230,146 C232,153 236,160 241,165.5 L204.6,161.7 Z"/></clipPath></defs><path d="M204.6,116.4 C214,116.5 222,122 226,132 C228,137 229,141 230,146 C232,153 236,160 241,165.5 L204.6,161.7 Z" fill="url(#crest)"/>
<g clip-path="url(#c4)">
<line x1="207.5" y1="136.6" x2="207.0" y2="133.3" stroke="#4456bc" stroke-width="0.8"/>
<line x1="209.8" y1="144.1" x2="208.6" y2="140.4" stroke="#5466c4" stroke-width="0.8"/>
<line x1="210.3" y1="163.0" x2="207.4" y2="159.4" stroke="#2c3ca4" stroke-width="0.8"/>
<line x1="229.1" y1="161.1" x2="231.5" y2="158.9" stroke="#3446b0" stroke-width="0.8"/>
<line x1="226.5" y1="136.4" x2="228.2" y2="131.6" stroke="#5466c4" stroke-width="0.8"/>
<line x1="220.6" y1="141.2" x2="220.8" y2="137.7" stroke="#5466c4" stroke-width="0.8"/>
<line x1="217.3" y1="149.7" x2="217.4" y2="145.2" stroke="#3a4cb4" stroke-width="0.8"/>
<line x1="208.2" y1="118.9" x2="207.3" y2="112.4" stroke="#3446b0" stroke-width="0.8"/>
<line x1="226.2" y1="163.8" x2="229.8" y2="159.6" stroke="#3a4cb4" stroke-width="0.8"/>
<line x1="210.0" y1="156.9" x2="207.1" y2="151.9" stroke="#5466c4" stroke-width="0.8"/>
<line x1="215.7" y1="149.3" x2="214.6" y2="143.2" stroke="#4456bc" stroke-width="0.8"/>
<line x1="212.2" y1="153.8" x2="211.3" y2="147.0" stroke="#4456bc" stroke-width="0.8"/>
<line x1="228.9" y1="155.1" x2="230.9" y2="151.7" stroke="#3446b0" stroke-width="0.8"/>
<line x1="217.6" y1="135.5" x2="218.0" y2="131.9" stroke="#2436a0" stroke-width="0.8"/>
<line x1="222.9" y1="133.3" x2="224.1" y2="127.8" stroke="#3446b0" stroke-width="0.8"/>
<line x1="229.9" y1="147.6" x2="232.2" y2="141.5" stroke="#3a4cb4" stroke-width="0.8"/>
<line x1="206.7" y1="135.7" x2="204.9" y2="131.4" stroke="#3a4cb4" stroke-width="0.8"/>
<line x1="215.3" y1="131.9" x2="214.8" y2="126.8" stroke="#4456bc" stroke-width="0.8"/>
<line x1="211.5" y1="156.4" x2="210.0" y2="150.8" stroke="#3446b0" stroke-width="0.8"/>
<line x1="213.6" y1="121.0" x2="213.0" y2="115.5" stroke="#3a4cb4" stroke-width="0.8"/>
<line x1="220.3" y1="147.4" x2="221.8" y2="141.7" stroke="#3446b0" stroke-width="0.8"/>
<line x1="213.0" y1="158.4" x2="211.1" y2="153.1" stroke="#2c3ca4" stroke-width="0.8"/>
<line x1="219.2" y1="158.3" x2="220.3" y2="151.9" stroke="#3446b0" stroke-width="0.8"/>
<line x1="227.2" y1="145.4" x2="228.9" y2="141.0" stroke="#2c3ca4" stroke-width="0.8"/>
<line x1="204.9" y1="115.2" x2="204.3" y2="111.6" stroke="#2c3ca4" stroke-width="0.8"/>
<line x1="207.7" y1="123.9" x2="207.0" y2="117.3" stroke="#3446b0" stroke-width="0.8"/>
<line x1="203.5" y1="120.8" x2="202.7" y2="114.1" stroke="#3446b0" stroke-width="0.8"/>
<line x1="215.7" y1="118.7" x2="215.3" y2="114.4" stroke="#5466c4" stroke-width="0.8"/>
<line x1="215.9" y1="128.2" x2="215.5" y2="125.0" stroke="#3446b0" stroke-width="0.8"/>
<line x1="210.2" y1="118.2" x2="210.2" y2="115.0" stroke="#3446b0" stroke-width="0.8"/>
<line x1="224.4" y1="152.2" x2="225.8" y2="148.0" stroke="#3446b0" stroke-width="0.8"/>
<line x1="219.3" y1="165.5" x2="221.4" y2="159.6" stroke="#5466c4" stroke-width="0.8"/>
<line x1="214.4" y1="130.1" x2="214.1" y2="127.0" stroke="#2c3ca4" stroke-width="0.8"/>
<line x1="224.7" y1="119.8" x2="224.9" y2="114.5" stroke="#5466c4" stroke-width="0.8"/>
<line x1="215.2" y1="138.9" x2="215.1" y2="132.6" stroke="#5466c4" stroke-width="0.8"/>
<line x1="215.7" y1="137.2" x2="216.0" y2="134.2" stroke="#3446b0" stroke-width="0.8"/>
<line x1="205.9" y1="147.3" x2="204.1" y2="143.8" stroke="#4456bc" stroke-width="0.8"/>
<line x1="217.1" y1="131.9" x2="216.9" y2="128.7" stroke="#2c3ca4" stroke-width="0.8"/>
<line x1="209.0" y1="129.8" x2="208.3" y2="124.3" stroke="#3a4cb4" stroke-width="0.8"/>
<line x1="208.2" y1="124.4" x2="207.9" y2="117.4" stroke="#2436a0" stroke-width="0.8"/>
<line x1="206.5" y1="118.2" x2="205.4" y2="113.4" stroke="#5466c4" stroke-width="0.8"/>
<line x1="222.3" y1="163.9" x2="224.9" y2="158.3" stroke="#2436a0" stroke-width="0.8"/>
<line x1="217.1" y1="130.6" x2="216.8" y2="124.5" stroke="#2436a0" stroke-width="0.8"/>
<line x1="204.3" y1="141.2" x2="203.4" y2="137.7" stroke="#3446b0" stroke-width="0.8"/>
<line x1="215.5" y1="125.1" x2="215.4" y2="121.6" stroke="#3a4cb4" stroke-width="0.8"/>
<line x1="226.5" y1="150.0" x2="228.0" y2="145.3" stroke="#2c3ca4" stroke-width="0.8"/>
<line x1="205.9" y1="118.6" x2="205.0" y2="114.1" stroke="#2436a0" stroke-width="0.8"/>
<line x1="224.7" y1="141.2" x2="226.2" y2="136.6" stroke="#5466c4" stroke-width="0.8"/>
<line x1="214.3" y1="151.0" x2="214.1" y2="145.8" stroke="#5466c4" stroke-width="0.8"/>
<line x1="228.2" y1="146.6" x2="229.5" y2="143.4" stroke="#5466c4" stroke-width="0.8"/>
<line x1="227.9" y1="121.8" x2="230.0" y2="115.7" stroke="#3a4cb4" stroke-width="0.8"/>
<line x1="206.5" y1="138.8" x2="204.6" y2="133.6" stroke="#2c3ca4" stroke-width="0.8"/>
<line x1="226.0" y1="148.7" x2="227.5" y2="144.6" stroke="#3446b0" stroke-width="0.8"/>
<line x1="213.6" y1="119.8" x2="212.4" y2="113.1" stroke="#2436a0" stroke-width="0.8"/>
<line x1="227.6" y1="149.2" x2="229.8" y2="144.6" stroke="#2436a0" stroke-width="0.8"/>
<line x1="207.4" y1="142.1" x2="205.1" y2="136.3" stroke="#3446b0" stroke-width="0.8"/>
<line x1="213.4" y1="156.2" x2="212.1" y2="150.5" stroke="#3446b0" stroke-width="0.8"/>
<line x1="215.4" y1="143.1" x2="215.6" y2="139.8" stroke="#5466c4" stroke-width="0.8"/>
<line x1="227.4" y1="139.1" x2="229.6" y2="132.6" stroke="#2436a0" stroke-width="0.8"/>
<line x1="223.5" y1="135.1" x2="224.4" y2="131.4" stroke="#5466c4" stroke-width="0.8"/>
<line x1="208.2" y1="163.9" x2="206.2" y2="161.1" stroke="#2436a0" stroke-width="0.8"/>
<line x1="224.7" y1="116.4" x2="225.8" y2="111.5" stroke="#5466c4" stroke-width="0.8"/>
<line x1="207.0" y1="158.6" x2="204.4" y2="155.2" stroke="#5466c4" stroke-width="0.8"/>
<line x1="225.9" y1="149.8" x2="227.2" y2="144.3" stroke="#2c3ca4" stroke-width="0.8"/>
<line x1="226.3" y1="144.3" x2="227.4" y2="141.5" stroke="#3a4cb4" stroke-width="0.8"/>
<line x1="204.1" y1="116.9" x2="202.0" y2="110.2" stroke="#2436a0" stroke-width="0.8"/>
<line x1="225.1" y1="128.6" x2="225.7" y2="124.1" stroke="#2436a0" stroke-width="0.8"/>
<line x1="213.6" y1="129.5" x2="212.2" y2="122.9" stroke="#5466c4" stroke-width="0.8"/>
<line x1="214.1" y1="147.4" x2="213.8" y2="140.9" stroke="#3446b0" stroke-width="0.8"/>
<line x1="225.1" y1="147.9" x2="226.3" y2="144.9" stroke="#3446b0" stroke-width="0.8"/>
<line x1="223.4" y1="156.5" x2="224.9" y2="152.8" stroke="#4456bc" stroke-width="0.8"/>
<line x1="214.8" y1="130.7" x2="214.8" y2="126.7" stroke="#5466c4" stroke-width="0.8"/>
<line x1="225.2" y1="132.6" x2="227.0" y2="126.5" stroke="#3446b0" stroke-width="0.8"/>
<line x1="226.1" y1="163.7" x2="230.5" y2="158.9" stroke="#2c3ca4" stroke-width="0.8"/>
<line x1="224.4" y1="158.0" x2="228.1" y2="152.1" stroke="#4456bc" stroke-width="0.8"/>
<line x1="224.1" y1="154.9" x2="225.9" y2="148.7" stroke="#2436a0" stroke-width="0.8"/>
<line x1="212.7" y1="118.3" x2="212.9" y2="114.8" stroke="#2c3ca4" stroke-width="0.8"/>
<line x1="209.1" y1="118.6" x2="208.9" y2="115.3" stroke="#3446b0" stroke-width="0.8"/>
<line x1="226.2" y1="147.6" x2="227.6" y2="143.6" stroke="#4456bc" stroke-width="0.8"/>
<line x1="211.4" y1="147.2" x2="210.0" y2="140.8" stroke="#2436a0" stroke-width="0.8"/>
<line x1="222.8" y1="130.9" x2="223.8" y2="124.5" stroke="#2c3ca4" stroke-width="0.8"/>
<line x1="219.2" y1="165.9" x2="220.1" y2="159.4" stroke="#4456bc" stroke-width="0.8"/>
<line x1="214.2" y1="159.9" x2="212.7" y2="154.5" stroke="#2436a0" stroke-width="0.8"/>
<line x1="217.7" y1="162.3" x2="218.5" y2="156.7" stroke="#5466c4" stroke-width="0.8"/>
<line x1="227.7" y1="116.8" x2="228.6" y2="111.5" stroke="#5466c4" stroke-width="0.8"/>
<line x1="206.5" y1="165.9" x2="203.5" y2="163.8" stroke="#3a4cb4" stroke-width="0.8"/>
<line x1="224.3" y1="133.2" x2="225.2" y2="129.4" stroke="#2c3ca4" stroke-width="0.8"/>
<line x1="208.9" y1="160.0" x2="205.3" y2="154.1" stroke="#4456bc" stroke-width="0.8"/>
<line x1="220.2" y1="118.9" x2="220.2" y2="114.3" stroke="#2436a0" stroke-width="0.8"/>
<line x1="216.9" y1="164.6" x2="217.2" y2="159.6" stroke="#2c3ca4" stroke-width="0.8"/>
<line x1="221.0" y1="122.3" x2="222.5" y2="115.6" stroke="#3a4cb4" stroke-width="0.8"/>
<line x1="227.3" y1="123.4" x2="228.0" y2="120.4" stroke="#2c3ca4" stroke-width="0.8"/>
<line x1="226.4" y1="133.4" x2="227.4" y2="126.8" stroke="#2c3ca4" stroke-width="0.8"/>
<line x1="227.3" y1="158.4" x2="230.9" y2="153.7" stroke="#3446b0" stroke-width="0.8"/>
<line x1="216.8" y1="162.6" x2="216.2" y2="157.4" stroke="#5466c4" stroke-width="0.8"/>
<line x1="214.8" y1="116.6" x2="214.9" y2="113.0" stroke="#3a4cb4" stroke-width="0.8"/>
<line x1="210.5" y1="136.4" x2="209.5" y2="131.5" stroke="#2c3ca4" stroke-width="0.8"/>
<line x1="223.9" y1="155.9" x2="225.7" y2="149.6" stroke="#3446b0" stroke-width="0.8"/>
<line x1="217.5" y1="126.8" x2="217.1" y2="120.6" stroke="#3446b0" stroke-width="0.8"/>
<line x1="227.4" y1="125.3" x2="228.8" y2="120.2" stroke="#5466c4" stroke-width="0.8"/>
<line x1="215.5" y1="145.3" x2="215.6" y2="141.4" stroke="#4456bc" stroke-width="0.8"/>
<line x1="228.0" y1="117.7" x2="229.2" y2="111.0" stroke="#2c3ca4" stroke-width="0.8"/>
<line x1="226.5" y1="160.8" x2="229.4" y2="156.5" stroke="#2436a0" stroke-width="0.8"/>
<line x1="215.4" y1="147.6" x2="214.7" y2="140.6" stroke="#5466c4" stroke-width="0.8"/>
<line x1="209.6" y1="125.1" x2="209.0" y2="121.6" stroke="#3a4cb4" stroke-width="0.8"/>
<line x1="214.8" y1="130.8" x2="214.4" y2="125.3" stroke="#3446b0" stroke-width="0.8"/>
<line x1="208.2" y1="131.1" x2="206.8" y2="126.3" stroke="#4456bc" stroke-width="0.8"/>
<line x1="225.7" y1="154.2" x2="227.8" y2="149.3" stroke="#2436a0" stroke-width="0.8"/>
<line x1="215.7" y1="125.1" x2="215.1" y2="119.8" stroke="#3446b0" stroke-width="0.8"/>
<line x1="209.3" y1="132.9" x2="207.9" y2="128.6" stroke="#2c3ca4" stroke-width="0.8"/>
<line x1="212.6" y1="136.7" x2="212.3" y2="132.3" stroke="#4456bc" stroke-width="0.8"/>
<line x1="220.4" y1="138.7" x2="221.1" y2="132.4" stroke="#2c3ca4" stroke-width="0.8"/>
<line x1="225.9" y1="152.2" x2="227.8" y2="148.1" stroke="#5466c4" stroke-width="0.8"/>
<line x1="213.8" y1="137.1" x2="213.6" y2="132.9" stroke="#5466c4" stroke-width="0.8"/>
<line x1="223.2" y1="115.2" x2="224.0" y2="109.5" stroke="#5466c4" stroke-width="0.8"/>
<line x1="226.0" y1="155.3" x2="228.6" y2="150.6" stroke="#2436a0" stroke-width="0.8"/>
<line x1="224.6" y1="123.0" x2="225.6" y2="117.9" stroke="#2436a0" stroke-width="0.8"/>
<line x1="206.1" y1="160.8" x2="201.6" y2="156.5" stroke="#2436a0" stroke-width="0.8"/>
<line x1="224.8" y1="137.5" x2="225.7" y2="133.5" stroke="#2c3ca4" stroke-width="0.8"/>
<line x1="212.4" y1="142.1" x2="211.8" y2="135.4" stroke="#4456bc" stroke-width="0.8"/>
<line x1="206.1" y1="128.0" x2="205.0" y2="122.7" stroke="#2436a0" stroke-width="0.8"/>
<line x1="203.5" y1="155.8" x2="201.7" y2="153.0" stroke="#5466c4" stroke-width="0.8"/>
<line x1="217.6" y1="129.1" x2="218.0" y2="124.8" stroke="#3446b0" stroke-width="0.8"/>
<line x1="228.4" y1="134.2" x2="229.0" y2="131.0" stroke="#5466c4" stroke-width="0.8"/>
<line x1="224.8" y1="122.5" x2="224.9" y2="118.6" stroke="#2436a0" stroke-width="0.8"/>
<line x1="206.3" y1="164.5" x2="200.9" y2="160.7" stroke="#3446b0" stroke-width="0.8"/>
<line x1="217.9" y1="162.0" x2="218.5" y2="158.7" stroke="#4456bc" stroke-width="0.8"/>
<line x1="225.6" y1="117.0" x2="226.7" y2="112.2" stroke="#4456bc" stroke-width="0.8"/>
<line x1="205.5" y1="159.5" x2="201.9" y2="154.7" stroke="#2436a0" stroke-width="0.8"/>
<line x1="204.0" y1="117.9" x2="202.8" y2="114.6" stroke="#5466c4" stroke-width="0.8"/>
<line x1="221.7" y1="123.6" x2="221.7" y2="118.7" stroke="#3446b0" stroke-width="0.8"/>
<line x1="219.4" y1="149.3" x2="219.9" y2="142.4" stroke="#4456bc" stroke-width="0.8"/>
<line x1="211.8" y1="135.9" x2="211.1" y2="131.1" stroke="#2c3ca4" stroke-width="0.8"/>
<line x1="229.9" y1="151.0" x2="231.4" y2="147.6" stroke="#3446b0" stroke-width="0.8"/>
<line x1="224.4" y1="146.9" x2="225.8" y2="141.5" stroke="#3a4cb4" stroke-width="0.8"/>
<line x1="221.4" y1="116.7" x2="222.1" y2="112.0" stroke="#3a4cb4" stroke-width="0.8"/>
<line x1="203.4" y1="137.4" x2="202.4" y2="134.5" stroke="#5466c4" stroke-width="0.8"/>
<line x1="213.7" y1="163.1" x2="212.5" y2="156.8" stroke="#3a4cb4" stroke-width="0.8"/>
<line x1="216.9" y1="140.3" x2="216.4" y2="134.6" stroke="#5466c4" stroke-width="0.8"/>
<line x1="203.1" y1="155.9" x2="199.4" y2="151.0" stroke="#2c3ca4" stroke-width="0.8"/>
<line x1="225.8" y1="133.5" x2="226.5" y2="127.7" stroke="#4456bc" stroke-width="0.8"/>
<line x1="222.7" y1="135.8" x2="224.5" y2="129.3" stroke="#3a4cb4" stroke-width="0.8"/>
<line x1="207.4" y1="160.6" x2="205.6" y2="157.3" stroke="#3446b0" stroke-width="0.8"/>
<line x1="224.4" y1="155.2" x2="227.5" y2="149.7" stroke="#5466c4" stroke-width="0.8"/>
<line x1="211.8" y1="147.8" x2="211.2" y2="142.6" stroke="#2436a0" stroke-width="0.8"/>
<line x1="207.3" y1="158.7" x2="204.4" y2="154.7" stroke="#2c3ca4" stroke-width="0.8"/>
<line x1="216.3" y1="157.3" x2="216.1" y2="154.1" stroke="#2c3ca4" stroke-width="0.8"/>
<line x1="218.5" y1="161.3" x2="219.0" y2="155.9" stroke="#2c3ca4" stroke-width="0.8"/>
<line x1="205.4" y1="154.6" x2="203.4" y2="151.8" stroke="#2c3ca4" stroke-width="0.8"/>
<line x1="219.4" y1="137.2" x2="220.3" y2="130.7" stroke="#2c3ca4" stroke-width="0.8"/>
<line x1="222.7" y1="148.1" x2="223.4" y2="144.8" stroke="#5466c4" stroke-width="0.8"/>
<line x1="211.1" y1="118.3" x2="211.0" y2="114.3" stroke="#3446b0" stroke-width="0.8"/>
<line x1="227.8" y1="163.1" x2="232.7" y2="158.0" stroke="#3a4cb4" stroke-width="0.8"/>
<line x1="221.7" y1="148.0" x2="222.6" y2="144.0" stroke="#2436a0" stroke-width="0.8"/>
<line x1="213.8" y1="163.5" x2="211.9" y2="158.9" stroke="#5466c4" stroke-width="0.8"/>
<line x1="225.6" y1="156.4" x2="227.5" y2="152.7" stroke="#3a4cb4" stroke-width="0.8"/>
<line x1="222.9" y1="162.8" x2="225.3" y2="159.1" stroke="#3446b0" stroke-width="0.8"/>
<line x1="210.0" y1="140.8" x2="208.4" y2="136.3" stroke="#2c3ca4" stroke-width="0.8"/>
<line x1="226.0" y1="160.6" x2="227.7" y2="157.9" stroke="#4456bc" stroke-width="0.8"/>
<line x1="226.7" y1="119.1" x2="227.8" y2="115.1" stroke="#3a4cb4" stroke-width="0.8"/>
<line x1="208.0" y1="122.0" x2="206.3" y2="115.9" stroke="#3446b0" stroke-width="0.8"/>
<line x1="225.6" y1="128.3" x2="226.7" y2="124.8" stroke="#3446b0" stroke-width="0.8"/>
<line x1="215.8" y1="155.1" x2="216.0" y2="151.1" stroke="#3446b0" stroke-width="0.8"/>
<line x1="207.3" y1="165.8" x2="204.5" y2="162.7" stroke="#2c3ca4" stroke-width="0.8"/>
<line x1="220.0" y1="142.2" x2="220.5" y2="135.8" stroke="#2c3ca4" stroke-width="0.8"/>
<line x1="214.2" y1="139.0" x2="213.4" y2="134.8" stroke="#4456bc" stroke-width="0.8"/>
<line x1="209.3" y1="138.6" x2="208.7" y2="132.4" stroke="#2436a0" stroke-width="0.8"/>
<line x1="207.3" y1="149.9" x2="205.3" y2="145.1" stroke="#3446b0" stroke-width="0.8"/>
<line x1="227.7" y1="160.8" x2="231.2" y2="157.5" stroke="#3a4cb4" stroke-width="0.8"/>
<line x1="212.9" y1="143.3" x2="212.3" y2="137.2" stroke="#3446b0" stroke-width="0.8"/>
<line x1="212.3" y1="119.9" x2="211.4" y2="115.4" stroke="#3446b0" stroke-width="0.8"/>
<line x1="216.5" y1="129.4" x2="216.5" y2="125.1" stroke="#3446b0" stroke-width="0.8"/>
<line x1="211.5" y1="116.5" x2="210.7" y2="112.7" stroke="#2436a0" stroke-width="0.8"/>
<line x1="215.3" y1="133.8" x2="215.8" y2="127.8" stroke="#5466c4" stroke-width="0.8"/>
<line x1="212.8" y1="163.4" x2="210.8" y2="158.3" stroke="#5466c4" stroke-width="0.8"/>
<line x1="221.1" y1="133.4" x2="221.3" y2="128.0" stroke="#5466c4" stroke-width="0.8"/>
<line x1="209.6" y1="164.6" x2="207.2" y2="162.4" stroke="#3a4cb4" stroke-width="0.8"/>
<line x1="204.9" y1="141.3" x2="203.3" y2="135.8" stroke="#3446b0" stroke-width="0.8"/>
<line x1="221.1" y1="149.9" x2="223.1" y2="143.5" stroke="#5466c4" stroke-width="0.8"/>
<line x1="218.7" y1="149.0" x2="219.5" y2="145.1" stroke="#2c3ca4" stroke-width="0.8"/>
<line x1="229.2" y1="131.0" x2="229.9" y2="125.7" stroke="#4456bc" stroke-width="0.8"/>
<line x1="212.5" y1="151.2" x2="211.0" y2="146.3" stroke="#3a4cb4" stroke-width="0.8"/>
<line x1="208.5" y1="124.1" x2="206.7" y2="118.1" stroke="#2c3ca4" stroke-width="0.8"/>
<line x1="210.2" y1="159.9" x2="207.8" y2="155.5" stroke="#4456bc" stroke-width="0.8"/>
<line x1="213.9" y1="150.6" x2="213.8" y2="147.3" stroke="#4456bc" stroke-width="0.8"/>
<line x1="206.0" y1="153.1" x2="203.7" y2="149.7" stroke="#2436a0" stroke-width="0.8"/>
<line x1="226.5" y1="116.1" x2="226.6" y2="113.0" stroke="#4456bc" stroke-width="0.8"/>
<line x1="219.8" y1="148.3" x2="220.5" y2="144.7" stroke="#3a4cb4" stroke-width="0.8"/>
<line x1="206.6" y1="161.9" x2="203.7" y2="158.4" stroke="#3446b0" stroke-width="0.8"/>
<line x1="207.3" y1="122.6" x2="206.7" y2="117.3" stroke="#3446b0" stroke-width="0.8"/>
<line x1="211.4" y1="143.9" x2="210.7" y2="140.6" stroke="#4456bc" stroke-width="0.8"/>
<line x1="217.7" y1="115.8" x2="217.6" y2="112.5" stroke="#3446b0" stroke-width="0.8"/>
<line x1="228.0" y1="115.3" x2="228.9" y2="108.8" stroke="#2c3ca4" stroke-width="0.8"/>
<line x1="225.5" y1="145.0" x2="226.8" y2="140.5" stroke="#2c3ca4" stroke-width="0.8"/>
<line x1="209.0" y1="149.2" x2="207.0" y2="143.2" stroke="#3a4cb4" stroke-width="0.8"/>
<line x1="209.4" y1="116.9" x2="208.0" y2="110.4" stroke="#2436a0" stroke-width="0.8"/>
<line x1="205.2" y1="131.9" x2="204.4" y2="128.6" stroke="#4456bc" stroke-width="0.8"/>
<line x1="223.4" y1="118.8" x2="224.0" y2="112.7" stroke="#5466c4" stroke-width="0.8"/>
<line x1="207.2" y1="130.6" x2="206.7" y2="126.3" stroke="#5466c4" stroke-width="0.8"/>
<line x1="216.9" y1="162.3" x2="216.8" y2="157.0" stroke="#5466c4" stroke-width="0.8"/>
<line x1="220.5" y1="123.0" x2="220.2" y2="117.5" stroke="#3a4cb4" stroke-width="0.8"/>
<line x1="204.1" y1="117.4" x2="203.3" y2="112.4" stroke="#3446b0" stroke-width="0.8"/>
<line x1="216.8" y1="123.6" x2="216.7" y2="117.9" stroke="#5466c4" stroke-width="0.8"/>
<line x1="215.3" y1="127.2" x2="215.3" y2="122.4" stroke="#5466c4" stroke-width="0.8"/>
<line x1="213.8" y1="125.1" x2="213.7" y2="121.8" stroke="#2436a0" stroke-width="0.8"/>
<line x1="212.0" y1="128.6" x2="211.0" y2="123.0" stroke="#4456bc" stroke-width="0.8"/>
<line x1="214.2" y1="158.1" x2="213.3" y2="154.9" stroke="#2c3ca4" stroke-width="0.8"/>
<line x1="217.7" y1="165.5" x2="217.4" y2="158.8" stroke="#3a4cb4" stroke-width="0.8"/>
<line x1="221.4" y1="127.9" x2="222.1" y2="124.6" stroke="#3a4cb4" stroke-width="0.8"/>
<line x1="224.8" y1="129.9" x2="226.6" y2="123.4" stroke="#4456bc" stroke-width="0.8"/>
<line x1="206.4" y1="118.4" x2="205.7" y2="113.7" stroke="#2c3ca4" stroke-width="0.8"/>
<line x1="221.8" y1="144.5" x2="222.1" y2="137.6" stroke="#5466c4" stroke-width="0.8"/>
<line x1="224.3" y1="118.8" x2="224.7" y2="112.6" stroke="#3446b0" stroke-width="0.8"/>
<line x1="218.7" y1="151.9" x2="219.3" y2="147.5" stroke="#2436a0" stroke-width="0.8"/>
<line x1="214.0" y1="157.2" x2="213.3" y2="153.6" stroke="#3446b0" stroke-width="0.8"/>
<line x1="203.1" y1="119.7" x2="202.2" y2="113.8" stroke="#5466c4" stroke-width="0.8"/>
<line x1="227.5" y1="148.6" x2="228.6" y2="144.7" stroke="#4456bc" stroke-width="0.8"/>
<line x1="205.5" y1="126.3" x2="205.0" y2="122.7" stroke="#2c3ca4" stroke-width="0.8"/>
<line x1="226.6" y1="165.8" x2="230.2" y2="163.4" stroke="#3a4cb4" stroke-width="0.8"/>
<line x1="226.4" y1="145.0" x2="228.7" y2="138.5" stroke="#3a4cb4" stroke-width="0.8"/>
</g>
<line x1="205.0" y1="125.0" x2="202.2" y2="125.1" stroke="#5466c4" stroke-width="0.8"/>
<line x1="204.9" y1="133.8" x2="202.6" y2="133.8" stroke="#3a4cb4" stroke-width="0.8"/>
<line x1="204.8" y1="142.5" x2="200.9" y2="141.8" stroke="#3446b0" stroke-width="0.8"/>
<line x1="204.7" y1="151.2" x2="201.9" y2="151.2" stroke="#3446b0" stroke-width="0.8"/>
<line x1="204.6" y1="160.0" x2="203.0" y2="160.1" stroke="#5466c4" stroke-width="0.8"/>
<line x1="204.6" y1="161.9" x2="203.1" y2="167.2" stroke="#3446b0" stroke-width="0.8"/>
<line x1="206.1" y1="161.8" x2="204.2" y2="167.0" stroke="#3a4cb4" stroke-width="0.8"/>
<line x1="207.5" y1="161.7" x2="207.4" y2="165.1" stroke="#2436a0" stroke-width="0.8"/>
<line x1="209.0" y1="161.6" x2="207.9" y2="165.9" stroke="#4456bc" stroke-width="0.8"/>
<line x1="210.4" y1="161.5" x2="209.0" y2="167.6" stroke="#2c3ca4" stroke-width="0.8"/>
<line x1="211.9" y1="161.4" x2="210.4" y2="167.0" stroke="#3446b0" stroke-width="0.8"/>
<line x1="213.3" y1="161.3" x2="213.0" y2="168.2" stroke="#2436a0" stroke-width="0.8"/>
<line x1="214.8" y1="161.1" x2="213.6" y2="166.2" stroke="#2c3ca4" stroke-width="0.8"/>
<line x1="216.2" y1="161.0" x2="216.1" y2="164.7" stroke="#3a4cb4" stroke-width="0.8"/>
<line x1="217.7" y1="160.9" x2="216.7" y2="165.5" stroke="#3446b0" stroke-width="0.8"/>
<line x1="219.1" y1="160.8" x2="218.9" y2="164.5" stroke="#5466c4" stroke-width="0.8"/>
<line x1="220.6" y1="160.7" x2="220.1" y2="166.4" stroke="#2436a0" stroke-width="0.8"/>
<line x1="222.0" y1="160.6" x2="223.5" y2="166.9" stroke="#2436a0" stroke-width="0.8"/>
<line x1="223.5" y1="160.5" x2="221.4" y2="166.4" stroke="#4456bc" stroke-width="0.8"/>
<line x1="224.9" y1="160.4" x2="225.4" y2="163.1" stroke="#5466c4" stroke-width="0.8"/>
<line x1="226.4" y1="160.3" x2="226.6" y2="163.1" stroke="#3446b0" stroke-width="0.8"/>
<line x1="227.9" y1="160.2" x2="226.7" y2="163.6" stroke="#4456bc" stroke-width="0.8"/>
<line x1="229.3" y1="160.1" x2="229.9" y2="164.1" stroke="#3a4cb4" stroke-width="0.8"/>
<line x1="230.7" y1="160.1" x2="229.8" y2="162.6" stroke="#4456bc" stroke-width="0.8"/>
<line x1="232.1" y1="160.5" x2="229.2" y2="166.9" stroke="#4456bc" stroke-width="0.8"/>
<line x1="233.5" y1="160.9" x2="233.5" y2="164.9" stroke="#2436a0" stroke-width="0.8"/>
<line x1="234.9" y1="161.4" x2="235.0" y2="163.9" stroke="#2c3ca4" stroke-width="0.8"/>
<line x1="236.3" y1="161.8" x2="237.0" y2="166.8" stroke="#5466c4" stroke-width="0.8"/>
<line x1="237.7" y1="162.2" x2="238.2" y2="167.0" stroke="#5466c4" stroke-width="0.8"/>
<line x1="239.1" y1="162.6" x2="236.8" y2="168.4" stroke="#3a4cb4" stroke-width="0.8"/>
<line x1="240.5" y1="163.0" x2="238.5" y2="168.5" stroke="#3a4cb4" stroke-width="0.8"/>
<line x1="241.9" y1="163.4" x2="241.3" y2="167.0" stroke="#3a4cb4" stroke-width="0.8"/>
<line x1="243.3" y1="163.8" x2="243.7" y2="168.1" stroke="#4456bc" stroke-width="0.8"/>
<line x1="244.7" y1="164.2" x2="246.4" y2="170.6" stroke="#2436a0" stroke-width="0.8"/>
<line x1="246.2" y1="164.4" x2="246.8" y2="171.3" stroke="#3446b0" stroke-width="0.8"/>
<line x1="247.6" y1="164.5" x2="248.0" y2="168.1" stroke="#3a4cb4" stroke-width="0.8"/>
<line x1="249.1" y1="164.6" x2="247.3" y2="170.3" stroke="#5466c4" stroke-width="0.8"/>
<line x1="250.5" y1="164.7" x2="248.7" y2="168.7" stroke="#4456bc" stroke-width="0.8"/>
<line x1="252.0" y1="164.8" x2="251.3" y2="169.0" stroke="#3a4cb4" stroke-width="0.8"/>
<line x1="253.4" y1="164.9" x2="252.7" y2="171.1" stroke="#2c3ca4" stroke-width="0.8"/>
<line x1="254.9" y1="165.0" x2="253.1" y2="171.6" stroke="#2c3ca4" stroke-width="0.8"/>
<line x1="256.3" y1="165.1" x2="255.1" y2="168.4" stroke="#2c3ca4" stroke-width="0.8"/>
<line x1="257.8" y1="165.2" x2="258.3" y2="167.6" stroke="#4456bc" stroke-width="0.8"/>
<line x1="259.3" y1="165.3" x2="259.0" y2="169.3" stroke="#2436a0" stroke-width="0.8"/>
<line x1="260.7" y1="165.4" x2="258.8" y2="169.6" stroke="#3a4cb4" stroke-width="0.8"/>
<line x1="262.2" y1="165.5" x2="263.0" y2="170.1" stroke="#3a4cb4" stroke-width="0.8"/>
<line x1="263.6" y1="165.6" x2="262.6" y2="168.5" stroke="#2436a0" stroke-width="0.8"/>
<line x1="265.1" y1="165.7" x2="264.4" y2="170.7" stroke="#2c3ca4" stroke-width="0.8"/>
<line x1="266.5" y1="165.6" x2="265.3" y2="170.5" stroke="#2436a0" stroke-width="0.8"/>
<line x1="268.0" y1="165.5" x2="267.4" y2="170.7" stroke="#2436a0" stroke-width="0.8"/>
<line x1="269.4" y1="165.4" x2="270.4" y2="170.6" stroke="#2c3ca4" stroke-width="0.8"/>
<line x1="270.9" y1="165.2" x2="270.9" y2="172.0" stroke="#3446b0" stroke-width="0.8"/>
<line x1="272.3" y1="165.1" x2="273.2" y2="172.1" stroke="#2436a0" stroke-width="0.8"/>
<line x1="273.8" y1="165.0" x2="274.2" y2="169.0" stroke="#4456bc" stroke-width="0.8"/>
<line x1="275.2" y1="164.9" x2="274.2" y2="167.5" stroke="#2c3ca4" stroke-width="0.8"/>
<line x1="276.7" y1="164.8" x2="276.9" y2="166.9" stroke="#5466c4" stroke-width="0.8"/>
<line x1="278.1" y1="164.7" x2="279.1" y2="168.6" stroke="#3446b0" stroke-width="0.8"/>
<line x1="279.6" y1="164.5" x2="280.6" y2="169.1" stroke="#3446b0" stroke-width="0.8"/>
<line x1="281.0" y1="164.4" x2="280.4" y2="167.7" stroke="#3a4cb4" stroke-width="0.8"/>
<line x1="282.5" y1="164.3" x2="281.3" y2="170.0" stroke="#2436a0" stroke-width="0.8"/>
<line x1="282.5" y1="164.1" x2="285.3" y2="169.1" stroke="#3a4cb4" stroke-width="0.9"/>
<line x1="283.7" y1="163.3" x2="285.1" y2="166.5" stroke="#3446b0" stroke-width="0.9"/>
<line x1="284.8" y1="162.5" x2="285.8" y2="168.1" stroke="#3a4cb4" stroke-width="0.9"/>
<line x1="286.0" y1="161.7" x2="287.0" y2="168.8" stroke="#2436a0" stroke-width="0.9"/>
<line x1="287.1" y1="160.9" x2="287.6" y2="166.7" stroke="#4456bc" stroke-width="0.9"/>
<line x1="288.3" y1="160.1" x2="291.0" y2="165.1" stroke="#2c3ca4" stroke-width="0.9"/>
<line x1="289.5" y1="159.3" x2="290.0" y2="162.6" stroke="#5466c4" stroke-width="0.9"/>
<line x1="290.6" y1="158.5" x2="291.4" y2="166.3" stroke="#2c3ca4" stroke-width="0.9"/>
<line x1="291.8" y1="157.7" x2="291.9" y2="161.6" stroke="#2c3ca4" stroke-width="0.9"/>
<line x1="292.9" y1="156.9" x2="295.6" y2="162.3" stroke="#5466c4" stroke-width="0.9"/>
<line x1="294.1" y1="156.1" x2="296.4" y2="160.8" stroke="#2436a0" stroke-width="0.9"/>
<line x1="295.2" y1="155.3" x2="298.0" y2="162.2" stroke="#2436a0" stroke-width="0.9"/>
<line x1="296.4" y1="154.5" x2="296.3" y2="159.3" stroke="#5466c4" stroke-width="0.9"/>
<line x1="297.6" y1="153.8" x2="299.4" y2="156.9" stroke="#2436a0" stroke-width="0.9"/>
<line x1="298.9" y1="153.1" x2="299.3" y2="157.5" stroke="#3446b0" stroke-width="0.9"/>
<line x1="300.1" y1="152.3" x2="302.4" y2="159.9" stroke="#2436a0" stroke-width="0.9"/>
<line x1="301.3" y1="151.6" x2="304.6" y2="156.4" stroke="#2436a0" stroke-width="0.9"/>
<line x1="302.5" y1="150.9" x2="304.7" y2="154.4" stroke="#3a4cb4" stroke-width="0.9"/>
<path d="M328.9,135.5 C335,134.6 341,134 346.2,134.3 C352,134.8 356,137 360,139.5 C366,143 372,146 378,147 C384,147 388,143 392,140 C396,137.5 401,136.5 407.5,137.5 L407.5,140 C404,142 401,145 398,148 C392,154 386,160 378.6,164.4 C368,165.5 356,166 346.2,166.7 C338,165 333,160 330,150 Z" fill="url(#surfR)"/>
<path d="M331,153 C338,155.5 350,156.5 362,157 C372,157.5 380,156 388,154 C385,158 382,162 378.6,164.4 C368,165.5 356,166 346.2,166.7 C338,165 334,160 331,153 Z" fill="#c0c0b8"/>
<path d="M370,145 C373,146.5 376,147 378,147 C384,147 388,143 392,140 C396,137.5 401,136.5 407.5,137.5 C404,140 400,143 396,147 C392,151 389,153.5 386,155 C380,156 376,156.5 372,156.5 C371,152 370.5,148 370,145 Z" fill="url(#waveG)"/>
<path d="M331,153 C338,155.5 350,156.5 362,157 C372,157.5 380,156 388,154" fill="none" stroke="#8c8c86" stroke-width="0.6"/>
<line x1="335.0" y1="155.0" x2="337.4" y2="155.6" stroke="#4456bc" stroke-width="0.9"/>
<line x1="336.8" y1="155.2" x2="339.7" y2="155.6" stroke="#4456bc" stroke-width="0.9"/>
<line x1="338.6" y1="155.4" x2="341.3" y2="157.1" stroke="#2436a0" stroke-width="0.9"/>
<line x1="340.4" y1="155.6" x2="343.1" y2="156.9" stroke="#5466c4" stroke-width="0.9"/>
<line x1="342.2" y1="155.8" x2="344.2" y2="155.3" stroke="#4456bc" stroke-width="0.9"/>
<line x1="344.0" y1="156.0" x2="347.4" y2="156.2" stroke="#3a4cb4" stroke-width="0.9"/>
<line x1="345.8" y1="156.2" x2="348.1" y2="156.9" stroke="#5466c4" stroke-width="0.9"/>
<line x1="347.6" y1="156.4" x2="349.8" y2="156.2" stroke="#5466c4" stroke-width="0.9"/>
<line x1="349.4" y1="156.6" x2="352.2" y2="158.4" stroke="#3446b0" stroke-width="0.9"/>
<line x1="351.2" y1="156.7" x2="353.5" y2="156.5" stroke="#3446b0" stroke-width="0.9"/>
<line x1="353.0" y1="156.8" x2="356.0" y2="156.5" stroke="#2436a0" stroke-width="0.9"/>
<line x1="354.8" y1="156.9" x2="357.1" y2="158.2" stroke="#2436a0" stroke-width="0.9"/>
<line x1="356.6" y1="157.0" x2="359.3" y2="157.4" stroke="#3a4cb4" stroke-width="0.9"/>
<line x1="358.4" y1="157.0" x2="361.6" y2="157.1" stroke="#2436a0" stroke-width="0.9"/>
<line x1="360.2" y1="157.1" x2="362.0" y2="158.0" stroke="#3a4cb4" stroke-width="0.9"/>
<line x1="362.0" y1="157.2" x2="364.3" y2="158.5" stroke="#3446b0" stroke-width="0.9"/>
<line x1="363.8" y1="157.1" x2="365.6" y2="158.1" stroke="#5466c4" stroke-width="0.9"/>
<line x1="365.6" y1="157.0" x2="367.9" y2="157.3" stroke="#5466c4" stroke-width="0.9"/>
<line x1="367.4" y1="156.8" x2="370.8" y2="156.5" stroke="#4456bc" stroke-width="0.9"/>
<line x1="369.2" y1="156.7" x2="370.8" y2="157.6" stroke="#5466c4" stroke-width="0.9"/>
<line x1="371.0" y1="156.6" x2="374.2" y2="156.8" stroke="#3446b0" stroke-width="0.9"/>
<line x1="372.8" y1="156.5" x2="375.4" y2="157.8" stroke="#3a4cb4" stroke-width="0.9"/>
<line x1="374.6" y1="156.4" x2="377.2" y2="156.7" stroke="#2c3ca4" stroke-width="0.9"/>
<line x1="376.4" y1="156.2" x2="377.7" y2="157.0" stroke="#2c3ca4" stroke-width="0.9"/>
<line x1="378.2" y1="156.1" x2="381.3" y2="157.1" stroke="#4456bc" stroke-width="0.9"/>
<line x1="380.0" y1="156.0" x2="381.8" y2="156.8" stroke="#5466c4" stroke-width="0.9"/>
<defs><clipPath id="c5"><path d="M309.2,106.1 C318,106.5 325,113 327.7,125 C328.5,130 328.9,133 328.9,135.5 C330,148 334,158 340,166 L309.2,162 Z"/></clipPath></defs><path d="M309.2,106.1 C318,106.5 325,113 327.7,125 C328.5,130 328.9,133 328.9,135.5 C330,148 334,158 340,166 L309.2,162 Z" fill="url(#crest)"/>
<g clip-path="url(#c5)">
<line x1="323.6" y1="163.2" x2="321.0" y2="165.8" stroke="#2c3ca4" stroke-width="0.8"/>
<line x1="320.4" y1="109.0" x2="316.9" y2="104.8" stroke="#3446b0" stroke-width="0.8"/>
<line x1="314.1" y1="155.4" x2="308.8" y2="158.7" stroke="#3a4cb4" stroke-width="0.8"/>
<line x1="331.4" y1="108.1" x2="328.9" y2="105.0" stroke="#2436a0" stroke-width="0.8"/>
<line x1="330.3" y1="121.3" x2="327.2" y2="119.2" stroke="#4456bc" stroke-width="0.8"/>
<line x1="313.2" y1="120.0" x2="307.4" y2="117.1" stroke="#3446b0" stroke-width="0.8"/>
<line x1="331.2" y1="112.1" x2="327.7" y2="107.2" stroke="#4456bc" stroke-width="0.8"/>
<line x1="328.8" y1="166.7" x2="327.0" y2="170.1" stroke="#4456bc" stroke-width="0.8"/>
<line x1="318.5" y1="162.7" x2="315.0" y2="165.6" stroke="#2c3ca4" stroke-width="0.8"/>
<line x1="324.3" y1="155.1" x2="319.0" y2="157.8" stroke="#3a4cb4" stroke-width="0.8"/>
<line x1="328.5" y1="156.5" x2="325.0" y2="159.9" stroke="#4456bc" stroke-width="0.8"/>
<line x1="332.4" y1="155.9" x2="329.9" y2="158.9" stroke="#3446b0" stroke-width="0.8"/>
<line x1="319.9" y1="140.6" x2="315.9" y2="140.6" stroke="#2c3ca4" stroke-width="0.8"/>
<line x1="309.2" y1="127.9" x2="303.4" y2="125.0" stroke="#2c3ca4" stroke-width="0.8"/>
<line x1="314.2" y1="135.3" x2="310.6" y2="135.2" stroke="#3446b0" stroke-width="0.8"/>
<line x1="331.5" y1="131.9" x2="326.8" y2="129.0" stroke="#3446b0" stroke-width="0.8"/>
<line x1="325.0" y1="145.7" x2="319.8" y2="147.9" stroke="#4456bc" stroke-width="0.8"/>
<line x1="327.2" y1="137.2" x2="323.2" y2="137.3" stroke="#2c3ca4" stroke-width="0.8"/>
<line x1="325.8" y1="122.8" x2="320.5" y2="119.6" stroke="#3a4cb4" stroke-width="0.8"/>
<line x1="326.3" y1="115.1" x2="324.1" y2="112.5" stroke="#2436a0" stroke-width="0.8"/>
<line x1="307.7" y1="149.9" x2="303.5" y2="151.4" stroke="#4456bc" stroke-width="0.8"/>
<line x1="324.8" y1="150.9" x2="319.2" y2="154.3" stroke="#4456bc" stroke-width="0.8"/>
<line x1="315.4" y1="165.0" x2="311.8" y2="167.7" stroke="#3446b0" stroke-width="0.8"/>
<line x1="317.6" y1="117.4" x2="313.8" y2="114.3" stroke="#4456bc" stroke-width="0.8"/>
<line x1="318.0" y1="151.8" x2="314.4" y2="153.8" stroke="#2c3ca4" stroke-width="0.8"/>
<line x1="325.2" y1="121.3" x2="319.5" y2="117.9" stroke="#4456bc" stroke-width="0.8"/>
<line x1="328.4" y1="122.1" x2="325.6" y2="119.8" stroke="#4456bc" stroke-width="0.8"/>
<line x1="311.2" y1="121.9" x2="305.1" y2="120.0" stroke="#2c3ca4" stroke-width="0.8"/>
<line x1="318.7" y1="107.1" x2="315.9" y2="103.2" stroke="#2436a0" stroke-width="0.8"/>
<line x1="332.5" y1="132.3" x2="326.7" y2="130.6" stroke="#2c3ca4" stroke-width="0.8"/>
<line x1="318.3" y1="136.4" x2="312.2" y2="135.0" stroke="#2436a0" stroke-width="0.8"/>
<line x1="310.5" y1="134.3" x2="307.5" y2="134.3" stroke="#3446b0" stroke-width="0.8"/>
<line x1="324.9" y1="155.5" x2="320.3" y2="158.1" stroke="#2c3ca4" stroke-width="0.8"/>
<line x1="310.8" y1="155.9" x2="306.7" y2="158.0" stroke="#3446b0" stroke-width="0.8"/>
<line x1="315.8" y1="164.8" x2="311.1" y2="167.1" stroke="#3a4cb4" stroke-width="0.8"/>
<line x1="333.4" y1="130.3" x2="329.2" y2="127.0" stroke="#2c3ca4" stroke-width="0.8"/>
<line x1="319.0" y1="140.5" x2="315.1" y2="140.1" stroke="#2436a0" stroke-width="0.8"/>
<line x1="326.0" y1="122.9" x2="321.2" y2="120.6" stroke="#4456bc" stroke-width="0.8"/>
<line x1="323.4" y1="123.5" x2="320.0" y2="121.2" stroke="#2c3ca4" stroke-width="0.8"/>
<line x1="309.6" y1="137.0" x2="305.3" y2="136.9" stroke="#2436a0" stroke-width="0.8"/>
<line x1="321.2" y1="136.2" x2="315.4" y2="135.7" stroke="#4456bc" stroke-width="0.8"/>
<line x1="332.6" y1="136.8" x2="327.3" y2="135.7" stroke="#3446b0" stroke-width="0.8"/>
<line x1="334.7" y1="163.5" x2="332.2" y2="166.6" stroke="#3a4cb4" stroke-width="0.8"/>
<line x1="329.4" y1="113.4" x2="325.8" y2="109.7" stroke="#3a4cb4" stroke-width="0.8"/>
<line x1="307.4" y1="121.0" x2="302.0" y2="118.8" stroke="#5466c4" stroke-width="0.8"/>
<line x1="324.3" y1="117.0" x2="320.9" y2="113.5" stroke="#2c3ca4" stroke-width="0.8"/>
<line x1="315.4" y1="154.7" x2="311.9" y2="156.0" stroke="#3a4cb4" stroke-width="0.8"/>
<line x1="326.2" y1="107.7" x2="324.5" y2="104.3" stroke="#4456bc" stroke-width="0.8"/>
<line x1="326.2" y1="117.1" x2="322.2" y2="113.1" stroke="#5466c4" stroke-width="0.8"/>
<line x1="315.0" y1="145.8" x2="310.5" y2="146.7" stroke="#4456bc" stroke-width="0.8"/>
<line x1="333.6" y1="164.8" x2="329.4" y2="169.3" stroke="#4456bc" stroke-width="0.8"/>
<line x1="308.0" y1="110.1" x2="302.9" y2="107.5" stroke="#3a4cb4" stroke-width="0.8"/>
<line x1="333.3" y1="156.7" x2="329.1" y2="161.6" stroke="#4456bc" stroke-width="0.8"/>
<line x1="320.3" y1="124.4" x2="316.6" y2="121.9" stroke="#3446b0" stroke-width="0.8"/>
<line x1="330.7" y1="146.5" x2="327.3" y2="148.1" stroke="#3a4cb4" stroke-width="0.8"/>
<line x1="321.8" y1="134.7" x2="315.5" y2="133.4" stroke="#3446b0" stroke-width="0.8"/>
<line x1="327.1" y1="118.9" x2="322.1" y2="114.8" stroke="#2436a0" stroke-width="0.8"/>
<line x1="315.5" y1="121.6" x2="311.1" y2="120.1" stroke="#4456bc" stroke-width="0.8"/>
<line x1="313.2" y1="133.9" x2="308.5" y2="132.9" stroke="#2c3ca4" stroke-width="0.8"/>
<line x1="309.6" y1="163.6" x2="305.9" y2="166.3" stroke="#3a4cb4" stroke-width="0.8"/>
<line x1="309.8" y1="149.0" x2="304.6" y2="150.2" stroke="#3446b0" stroke-width="0.8"/>
<line x1="319.6" y1="118.2" x2="317.0" y2="116.3" stroke="#2c3ca4" stroke-width="0.8"/>
<line x1="331.8" y1="112.7" x2="327.4" y2="108.1" stroke="#5466c4" stroke-width="0.8"/>
<line x1="323.4" y1="159.8" x2="319.9" y2="163.3" stroke="#4456bc" stroke-width="0.8"/>
<line x1="311.3" y1="138.5" x2="307.3" y2="138.4" stroke="#3446b0" stroke-width="0.8"/>
<line x1="309.5" y1="166.0" x2="304.2" y2="169.0" stroke="#2436a0" stroke-width="0.8"/>
<line x1="323.8" y1="162.2" x2="318.9" y2="166.1" stroke="#2436a0" stroke-width="0.8"/>
<line x1="308.3" y1="136.1" x2="303.3" y2="136.4" stroke="#2436a0" stroke-width="0.8"/>
<line x1="326.8" y1="162.7" x2="322.6" y2="166.4" stroke="#4456bc" stroke-width="0.8"/>
<line x1="328.8" y1="132.6" x2="324.4" y2="130.6" stroke="#2436a0" stroke-width="0.8"/>
<line x1="332.8" y1="147.7" x2="329.6" y2="149.6" stroke="#5466c4" stroke-width="0.8"/>
<line x1="326.1" y1="160.3" x2="323.8" y2="162.9" stroke="#4456bc" stroke-width="0.8"/>
<line x1="325.7" y1="116.7" x2="322.8" y2="113.4" stroke="#4456bc" stroke-width="0.8"/>
<line x1="329.2" y1="144.2" x2="325.5" y2="144.3" stroke="#3446b0" stroke-width="0.8"/>
<line x1="319.5" y1="109.2" x2="317.6" y2="106.7" stroke="#5466c4" stroke-width="0.8"/>
<line x1="318.5" y1="164.2" x2="314.5" y2="166.5" stroke="#2c3ca4" stroke-width="0.8"/>
<line x1="323.4" y1="119.7" x2="320.1" y2="117.2" stroke="#4456bc" stroke-width="0.8"/>
<line x1="308.6" y1="159.7" x2="306.1" y2="161.4" stroke="#4456bc" stroke-width="0.8"/>
<line x1="312.7" y1="125.8" x2="309.7" y2="125.1" stroke="#2c3ca4" stroke-width="0.8"/>
<line x1="330.9" y1="158.2" x2="327.3" y2="161.7" stroke="#2436a0" stroke-width="0.8"/>
<line x1="330.4" y1="141.3" x2="325.3" y2="142.6" stroke="#4456bc" stroke-width="0.8"/>
<line x1="324.6" y1="130.4" x2="318.2" y2="128.0" stroke="#3a4cb4" stroke-width="0.8"/>
<line x1="317.5" y1="135.5" x2="312.9" y2="135.5" stroke="#5466c4" stroke-width="0.8"/>
<line x1="319.1" y1="136.3" x2="316.1" y2="135.7" stroke="#4456bc" stroke-width="0.8"/>
<line x1="331.4" y1="166.2" x2="328.7" y2="171.6" stroke="#4456bc" stroke-width="0.8"/>
<line x1="325.6" y1="122.1" x2="320.7" y2="117.6" stroke="#3446b0" stroke-width="0.8"/>
<line x1="316.8" y1="134.0" x2="313.5" y2="133.3" stroke="#3a4cb4" stroke-width="0.8"/>
<line x1="324.3" y1="125.6" x2="320.2" y2="122.4" stroke="#3a4cb4" stroke-width="0.8"/>
<line x1="318.2" y1="160.0" x2="312.8" y2="163.0" stroke="#4456bc" stroke-width="0.8"/>
<line x1="319.9" y1="139.2" x2="314.1" y2="138.1" stroke="#3a4cb4" stroke-width="0.8"/>
<line x1="327.5" y1="123.8" x2="321.6" y2="120.9" stroke="#2436a0" stroke-width="0.8"/>
<line x1="333.5" y1="105.9" x2="332.2" y2="101.8" stroke="#2c3ca4" stroke-width="0.8"/>
<line x1="328.4" y1="120.1" x2="323.0" y2="116.3" stroke="#2436a0" stroke-width="0.8"/>
<line x1="313.7" y1="128.6" x2="310.0" y2="127.2" stroke="#3a4cb4" stroke-width="0.8"/>
<line x1="334.4" y1="152.7" x2="330.7" y2="156.7" stroke="#2c3ca4" stroke-width="0.8"/>
<line x1="313.9" y1="137.0" x2="309.4" y2="136.9" stroke="#4456bc" stroke-width="0.8"/>
<line x1="311.9" y1="139.6" x2="305.9" y2="138.6" stroke="#2c3ca4" stroke-width="0.8"/>
<line x1="321.8" y1="154.4" x2="319.1" y2="156.2" stroke="#2c3ca4" stroke-width="0.8"/>
<line x1="318.1" y1="139.0" x2="311.5" y2="139.8" stroke="#2436a0" stroke-width="0.8"/>
<line x1="309.0" y1="128.5" x2="302.5" y2="126.6" stroke="#2c3ca4" stroke-width="0.8"/>
<line x1="323.3" y1="112.6" x2="318.9" y2="108.1" stroke="#3446b0" stroke-width="0.8"/>
<line x1="320.6" y1="156.9" x2="317.4" y2="158.2" stroke="#3446b0" stroke-width="0.8"/>
<line x1="329.7" y1="119.2" x2="327.9" y2="116.8" stroke="#2436a0" stroke-width="0.8"/>
<line x1="309.7" y1="152.5" x2="303.8" y2="154.1" stroke="#2436a0" stroke-width="0.8"/>
<line x1="334.4" y1="113.0" x2="332.7" y2="109.7" stroke="#4456bc" stroke-width="0.8"/>
<line x1="326.2" y1="157.6" x2="322.2" y2="161.1" stroke="#2436a0" stroke-width="0.8"/>
<line x1="323.9" y1="116.4" x2="319.7" y2="112.9" stroke="#3446b0" stroke-width="0.8"/>
<line x1="313.8" y1="148.2" x2="308.4" y2="150.2" stroke="#2436a0" stroke-width="0.8"/>
<line x1="328.5" y1="124.0" x2="325.6" y2="122.2" stroke="#5466c4" stroke-width="0.8"/>
<line x1="320.1" y1="155.6" x2="317.1" y2="157.7" stroke="#2436a0" stroke-width="0.8"/>
<line x1="318.3" y1="116.2" x2="315.6" y2="113.4" stroke="#2c3ca4" stroke-width="0.8"/>
<line x1="309.6" y1="146.4" x2="306.3" y2="147.2" stroke="#5466c4" stroke-width="0.8"/>
<line x1="308.5" y1="163.5" x2="304.1" y2="166.8" stroke="#4456bc" stroke-width="0.8"/>
<line x1="316.5" y1="120.0" x2="311.5" y2="116.5" stroke="#4456bc" stroke-width="0.8"/>
<line x1="321.9" y1="148.4" x2="318.6" y2="149.5" stroke="#2436a0" stroke-width="0.8"/>
<line x1="318.7" y1="123.1" x2="315.6" y2="121.5" stroke="#4456bc" stroke-width="0.8"/>
<line x1="314.9" y1="158.6" x2="310.0" y2="161.2" stroke="#4456bc" stroke-width="0.8"/>
<line x1="324.4" y1="110.6" x2="321.8" y2="108.3" stroke="#4456bc" stroke-width="0.8"/>
<line x1="331.2" y1="120.9" x2="327.9" y2="118.4" stroke="#3a4cb4" stroke-width="0.8"/>
<line x1="326.6" y1="144.7" x2="321.8" y2="146.3" stroke="#2c3ca4" stroke-width="0.8"/>
<line x1="320.5" y1="128.7" x2="314.9" y2="125.6" stroke="#4456bc" stroke-width="0.8"/>
<line x1="325.0" y1="139.5" x2="319.1" y2="140.3" stroke="#4456bc" stroke-width="0.8"/>
<line x1="325.5" y1="124.1" x2="321.0" y2="121.6" stroke="#4456bc" stroke-width="0.8"/>
<line x1="330.3" y1="122.8" x2="325.8" y2="118.1" stroke="#3a4cb4" stroke-width="0.8"/>
<line x1="320.4" y1="164.8" x2="317.4" y2="166.7" stroke="#5466c4" stroke-width="0.8"/>
<line x1="321.0" y1="106.0" x2="317.7" y2="101.2" stroke="#2436a0" stroke-width="0.8"/>
<line x1="330.7" y1="155.8" x2="327.0" y2="158.2" stroke="#3446b0" stroke-width="0.8"/>
<line x1="319.0" y1="106.3" x2="314.7" y2="100.8" stroke="#5466c4" stroke-width="0.8"/>
<line x1="329.4" y1="150.3" x2="326.2" y2="151.3" stroke="#3446b0" stroke-width="0.8"/>
<line x1="315.7" y1="117.6" x2="312.1" y2="114.9" stroke="#5466c4" stroke-width="0.8"/>
<line x1="333.5" y1="144.3" x2="329.3" y2="146.0" stroke="#2c3ca4" stroke-width="0.8"/>
<line x1="315.6" y1="112.1" x2="311.3" y2="107.9" stroke="#4456bc" stroke-width="0.8"/>
<line x1="325.5" y1="140.4" x2="320.0" y2="140.9" stroke="#5466c4" stroke-width="0.8"/>
<line x1="323.5" y1="138.7" x2="318.8" y2="138.8" stroke="#2436a0" stroke-width="0.8"/>
<line x1="335.0" y1="150.3" x2="332.4" y2="152.1" stroke="#3a4cb4" stroke-width="0.8"/>
<line x1="312.8" y1="108.3" x2="309.9" y2="106.1" stroke="#2c3ca4" stroke-width="0.8"/>
<line x1="331.9" y1="119.7" x2="327.7" y2="115.2" stroke="#3a4cb4" stroke-width="0.8"/>
<line x1="318.5" y1="109.8" x2="313.7" y2="106.2" stroke="#3446b0" stroke-width="0.8"/>
<line x1="326.3" y1="128.6" x2="320.6" y2="125.0" stroke="#2436a0" stroke-width="0.8"/>
<line x1="317.1" y1="113.8" x2="313.7" y2="111.2" stroke="#2c3ca4" stroke-width="0.8"/>
<line x1="308.2" y1="135.2" x2="305.2" y2="134.6" stroke="#5466c4" stroke-width="0.8"/>
<line x1="327.4" y1="128.0" x2="321.0" y2="125.3" stroke="#4456bc" stroke-width="0.8"/>
<line x1="312.1" y1="155.6" x2="307.5" y2="157.1" stroke="#2436a0" stroke-width="0.8"/>
<line x1="328.3" y1="113.3" x2="325.1" y2="108.4" stroke="#3a4cb4" stroke-width="0.8"/>
<line x1="308.8" y1="123.8" x2="304.6" y2="122.5" stroke="#3446b0" stroke-width="0.8"/>
<line x1="324.9" y1="111.2" x2="321.7" y2="108.2" stroke="#2436a0" stroke-width="0.8"/>
<line x1="307.4" y1="132.6" x2="301.1" y2="130.8" stroke="#5466c4" stroke-width="0.8"/>
<line x1="317.4" y1="135.9" x2="312.1" y2="135.8" stroke="#3446b0" stroke-width="0.8"/>
<line x1="327.2" y1="126.7" x2="322.1" y2="123.5" stroke="#5466c4" stroke-width="0.8"/>
<line x1="334.6" y1="128.5" x2="328.4" y2="125.3" stroke="#2c3ca4" stroke-width="0.8"/>
<line x1="323.5" y1="147.9" x2="318.1" y2="149.2" stroke="#4456bc" stroke-width="0.8"/>
<line x1="312.8" y1="153.6" x2="307.8" y2="155.0" stroke="#4456bc" stroke-width="0.8"/>
<line x1="334.5" y1="134.1" x2="328.3" y2="132.2" stroke="#2c3ca4" stroke-width="0.8"/>
<line x1="326.5" y1="123.1" x2="321.4" y2="120.4" stroke="#4456bc" stroke-width="0.8"/>
<line x1="329.4" y1="143.7" x2="323.3" y2="145.3" stroke="#4456bc" stroke-width="0.8"/>
<line x1="323.7" y1="150.2" x2="320.3" y2="151.8" stroke="#2436a0" stroke-width="0.8"/>
<line x1="307.6" y1="123.4" x2="301.2" y2="121.6" stroke="#3446b0" stroke-width="0.8"/>
<line x1="311.8" y1="150.4" x2="308.4" y2="151.0" stroke="#3446b0" stroke-width="0.8"/>
<line x1="334.0" y1="123.8" x2="329.6" y2="119.6" stroke="#5466c4" stroke-width="0.8"/>
<line x1="331.8" y1="163.2" x2="328.9" y2="166.2" stroke="#5466c4" stroke-width="0.8"/>
<line x1="332.8" y1="126.3" x2="329.0" y2="122.1" stroke="#5466c4" stroke-width="0.8"/>
<line x1="307.4" y1="125.5" x2="303.2" y2="124.5" stroke="#4456bc" stroke-width="0.8"/>
<line x1="314.4" y1="126.2" x2="309.0" y2="123.8" stroke="#2436a0" stroke-width="0.8"/>
<line x1="307.4" y1="160.8" x2="303.9" y2="162.9" stroke="#2c3ca4" stroke-width="0.8"/>
<line x1="324.9" y1="126.2" x2="320.4" y2="123.9" stroke="#2c3ca4" stroke-width="0.8"/>
<line x1="323.2" y1="132.7" x2="319.1" y2="131.5" stroke="#5466c4" stroke-width="0.8"/>
<line x1="308.2" y1="131.1" x2="302.7" y2="130.4" stroke="#3446b0" stroke-width="0.8"/>
<line x1="320.3" y1="125.4" x2="317.4" y2="123.5" stroke="#3a4cb4" stroke-width="0.8"/>
<line x1="326.3" y1="119.6" x2="323.1" y2="117.3" stroke="#3446b0" stroke-width="0.8"/>
<line x1="326.6" y1="119.8" x2="323.1" y2="116.0" stroke="#2436a0" stroke-width="0.8"/>
<line x1="331.1" y1="128.2" x2="328.5" y2="126.3" stroke="#3446b0" stroke-width="0.8"/>
<line x1="318.9" y1="165.9" x2="315.9" y2="168.1" stroke="#2c3ca4" stroke-width="0.8"/>
<line x1="309.4" y1="126.7" x2="304.7" y2="125.1" stroke="#3446b0" stroke-width="0.8"/>
<line x1="333.7" y1="144.1" x2="329.0" y2="146.0" stroke="#4456bc" stroke-width="0.8"/>
<line x1="310.5" y1="118.5" x2="305.2" y2="115.6" stroke="#4456bc" stroke-width="0.8"/>
<line x1="316.5" y1="129.7" x2="309.8" y2="128.0" stroke="#4456bc" stroke-width="0.8"/>
<line x1="331.9" y1="117.4" x2="329.4" y2="112.9" stroke="#2c3ca4" stroke-width="0.8"/>
<line x1="326.3" y1="133.5" x2="319.5" y2="132.4" stroke="#2c3ca4" stroke-width="0.8"/>
<line x1="316.4" y1="114.3" x2="313.5" y2="111.9" stroke="#5466c4" stroke-width="0.8"/>
<line x1="315.9" y1="147.4" x2="311.3" y2="148.0" stroke="#2c3ca4" stroke-width="0.8"/>
<line x1="315.3" y1="143.8" x2="309.1" y2="144.5" stroke="#2436a0" stroke-width="0.8"/>
<line x1="329.7" y1="123.7" x2="325.2" y2="121.1" stroke="#4456bc" stroke-width="0.8"/>
<line x1="312.0" y1="117.7" x2="308.3" y2="115.3" stroke="#3446b0" stroke-width="0.8"/>
<line x1="334.3" y1="163.7" x2="331.4" y2="169.9" stroke="#5466c4" stroke-width="0.8"/>
<line x1="330.7" y1="107.7" x2="328.9" y2="104.7" stroke="#4456bc" stroke-width="0.8"/>
<line x1="319.3" y1="141.9" x2="313.1" y2="142.8" stroke="#2c3ca4" stroke-width="0.8"/>
<line x1="318.5" y1="140.1" x2="313.4" y2="140.5" stroke="#4456bc" stroke-width="0.8"/>
<line x1="334.9" y1="150.9" x2="332.0" y2="153.5" stroke="#5466c4" stroke-width="0.8"/>
<line x1="325.6" y1="141.1" x2="322.1" y2="141.4" stroke="#2c3ca4" stroke-width="0.8"/>
<line x1="319.2" y1="148.2" x2="314.2" y2="148.7" stroke="#4456bc" stroke-width="0.8"/>
</g>
<line x1="309.2" y1="112.0" x2="305.5" y2="110.8" stroke="#2c3ca4" stroke-width="0.8"/>
<line x1="309.2" y1="121.6" x2="306.7" y2="122.0" stroke="#3446b0" stroke-width="0.8"/>
<line x1="309.2" y1="131.2" x2="307.3" y2="131.0" stroke="#3446b0" stroke-width="0.8"/>
<line x1="309.2" y1="140.8" x2="306.6" y2="139.8" stroke="#2c3ca4" stroke-width="0.8"/>
<line x1="309.2" y1="150.4" x2="307.1" y2="150.3" stroke="#3a4cb4" stroke-width="0.8"/>
<line x1="309.2" y1="160.0" x2="307.6" y2="159.4" stroke="#3446b0" stroke-width="0.8"/>
<line x1="309.2" y1="162.2" x2="309.6" y2="168.1" stroke="#5466c4" stroke-width="0.8"/>
<line x1="310.5" y1="162.4" x2="310.7" y2="165.3" stroke="#2436a0" stroke-width="0.8"/>
<line x1="311.8" y1="162.5" x2="310.6" y2="164.4" stroke="#d08080" stroke-width="0.8"/>
<line x1="313.0" y1="162.7" x2="311.3" y2="167.2" stroke="#3a4cb4" stroke-width="0.8"/>
<line x1="314.3" y1="162.9" x2="312.9" y2="167.7" stroke="#d08080" stroke-width="0.8"/>
<line x1="315.6" y1="163.0" x2="313.8" y2="167.0" stroke="#5466c4" stroke-width="0.8"/>
<line x1="316.9" y1="163.2" x2="317.2" y2="167.4" stroke="#3446b0" stroke-width="0.8"/>
<line x1="318.1" y1="163.4" x2="317.5" y2="168.2" stroke="#5466c4" stroke-width="0.8"/>
<line x1="319.4" y1="163.5" x2="317.5" y2="167.7" stroke="#c02838" stroke-width="0.8"/>
<line x1="320.7" y1="163.7" x2="319.8" y2="166.1" stroke="#3a4cb4" stroke-width="0.8"/>
<line x1="322.0" y1="163.9" x2="321.2" y2="168.1" stroke="#c84858" stroke-width="0.8"/>
<line x1="323.2" y1="164.0" x2="323.2" y2="166.2" stroke="#3446b0" stroke-width="0.8"/>
<line x1="324.5" y1="164.2" x2="323.7" y2="167.8" stroke="#b01828" stroke-width="0.8"/>
<line x1="325.8" y1="164.4" x2="325.9" y2="166.9" stroke="#c84858" stroke-width="0.8"/>
<line x1="327.1" y1="164.5" x2="327.6" y2="166.8" stroke="#b01828" stroke-width="0.8"/>
<line x1="328.3" y1="164.7" x2="328.8" y2="168.6" stroke="#2c3ca4" stroke-width="0.8"/>
<line x1="329.6" y1="164.8" x2="330.3" y2="167.7" stroke="#3a4cb4" stroke-width="0.8"/>
<line x1="330.9" y1="165.0" x2="329.1" y2="170.2" stroke="#4456bc" stroke-width="0.8"/>
<line x1="332.2" y1="165.2" x2="332.4" y2="170.5" stroke="#a01020" stroke-width="0.8"/>
<line x1="333.4" y1="165.3" x2="334.0" y2="169.1" stroke="#5466c4" stroke-width="0.8"/>
<line x1="334.7" y1="165.5" x2="334.1" y2="167.9" stroke="#a01020" stroke-width="0.8"/>
<line x1="336.0" y1="165.7" x2="332.9" y2="170.4" stroke="#4456bc" stroke-width="0.8"/>
<line x1="337.3" y1="165.8" x2="336.3" y2="167.9" stroke="#a01020" stroke-width="0.8"/>
<line x1="338.5" y1="166.0" x2="335.8" y2="170.4" stroke="#2436a0" stroke-width="0.8"/>
<line x1="339.8" y1="166.2" x2="339.2" y2="168.5" stroke="#4456bc" stroke-width="0.8"/>
<line x1="341.1" y1="166.3" x2="339.7" y2="170.1" stroke="#c84858" stroke-width="0.8"/>
<line x1="342.4" y1="166.5" x2="342.3" y2="169.4" stroke="#5466c4" stroke-width="0.8"/>
<line x1="343.6" y1="166.7" x2="343.0" y2="168.9" stroke="#c02838" stroke-width="0.8"/>
<line x1="344.9" y1="166.8" x2="343.2" y2="169.6" stroke="#5466c4" stroke-width="0.8"/>
<line x1="346.2" y1="167.0" x2="347.5" y2="172.3" stroke="#c84858" stroke-width="0.8"/>
<line x1="346.2" y1="167.0" x2="346.0" y2="169.5" stroke="#4456bc" stroke-width="0.8"/>
<line x1="347.7" y1="166.9" x2="347.4" y2="169.2" stroke="#2c3ca4" stroke-width="0.8"/>
<line x1="349.3" y1="166.8" x2="350.1" y2="170.3" stroke="#2c3ca4" stroke-width="0.8"/>
<line x1="350.8" y1="166.7" x2="350.4" y2="169.4" stroke="#c02838" stroke-width="0.8"/>
<line x1="352.4" y1="166.5" x2="351.6" y2="169.3" stroke="#5466c4" stroke-width="0.8"/>
<line x1="353.9" y1="166.4" x2="354.4" y2="168.9" stroke="#c84858" stroke-width="0.8"/>
<line x1="355.5" y1="166.3" x2="356.3" y2="170.4" stroke="#2c3ca4" stroke-width="0.8"/>
<line x1="357.0" y1="166.2" x2="356.8" y2="169.4" stroke="#3446b0" stroke-width="0.8"/>
<line x1="358.5" y1="166.1" x2="358.4" y2="170.8" stroke="#2c3ca4" stroke-width="0.8"/>
<line x1="360.1" y1="166.0" x2="359.0" y2="168.2" stroke="#c84858" stroke-width="0.8"/>
<line x1="361.6" y1="165.9" x2="362.0" y2="169.0" stroke="#3446b0" stroke-width="0.8"/>
<line x1="363.2" y1="165.7" x2="361.4" y2="170.4" stroke="#5466c4" stroke-width="0.8"/>
<line x1="364.7" y1="165.6" x2="365.2" y2="168.2" stroke="#d08080" stroke-width="0.8"/>
<line x1="366.3" y1="165.5" x2="366.8" y2="169.8" stroke="#2436a0" stroke-width="0.8"/>
<line x1="367.8" y1="165.4" x2="366.6" y2="167.7" stroke="#a01020" stroke-width="0.8"/>
<line x1="369.3" y1="165.3" x2="368.8" y2="169.7" stroke="#c84858" stroke-width="0.8"/>
<line x1="370.9" y1="165.2" x2="369.1" y2="169.8" stroke="#d08080" stroke-width="0.8"/>
<line x1="372.4" y1="165.1" x2="371.0" y2="169.2" stroke="#5466c4" stroke-width="0.8"/>
<line x1="374.0" y1="164.9" x2="375.0" y2="168.8" stroke="#c02838" stroke-width="0.8"/>
<line x1="375.5" y1="164.8" x2="374.1" y2="168.2" stroke="#d08080" stroke-width="0.8"/>
<line x1="377.1" y1="164.7" x2="377.0" y2="168.5" stroke="#3a4cb4" stroke-width="0.8"/>
<line x1="378.6" y1="164.6" x2="378.8" y2="168.9" stroke="#2c3ca4" stroke-width="0.8"/>
<line x1="378.6" y1="164.4" x2="380.5" y2="168.2" stroke="#5466c4" stroke-width="0.9"/>
<line x1="379.8" y1="163.3" x2="383.1" y2="169.3" stroke="#5466c4" stroke-width="0.9"/>
<line x1="381.0" y1="162.2" x2="383.8" y2="164.3" stroke="#3a4cb4" stroke-width="0.9"/>
<line x1="382.2" y1="161.0" x2="385.6" y2="166.3" stroke="#2436a0" stroke-width="0.9"/>
<line x1="383.4" y1="159.9" x2="388.1" y2="163.8" stroke="#2c3ca4" stroke-width="0.9"/>
<line x1="384.6" y1="158.8" x2="389.0" y2="163.0" stroke="#4456bc" stroke-width="0.9"/>
<line x1="385.9" y1="157.7" x2="389.4" y2="160.8" stroke="#5466c4" stroke-width="0.9"/>
<line x1="387.1" y1="156.6" x2="392.0" y2="162.6" stroke="#3a4cb4" stroke-width="0.9"/>
<line x1="388.3" y1="155.4" x2="394.4" y2="159.6" stroke="#3446b0" stroke-width="0.9"/>
<line x1="389.5" y1="154.3" x2="392.6" y2="158.1" stroke="#5466c4" stroke-width="0.9"/>
<line x1="390.7" y1="153.2" x2="393.7" y2="157.3" stroke="#2436a0" stroke-width="0.9"/>
<line x1="391.9" y1="152.1" x2="398.1" y2="155.7" stroke="#3446b0" stroke-width="0.9"/>
<line x1="393.1" y1="151.0" x2="395.8" y2="152.7" stroke="#2436a0" stroke-width="0.9"/>
<line x1="394.4" y1="149.9" x2="396.3" y2="153.9" stroke="#2c3ca4" stroke-width="0.9"/>
<line x1="395.6" y1="148.8" x2="400.1" y2="152.1" stroke="#5466c4" stroke-width="0.9"/>
<line x1="396.9" y1="147.7" x2="399.0" y2="150.9" stroke="#3446b0" stroke-width="0.9"/>
<line x1="398.1" y1="146.7" x2="401.6" y2="150.5" stroke="#2436a0" stroke-width="0.9"/>
<line x1="399.3" y1="145.6" x2="402.4" y2="149.5" stroke="#4456bc" stroke-width="0.9"/>
<line x1="400.6" y1="144.6" x2="403.0" y2="148.8" stroke="#3a4cb4" stroke-width="0.9"/>
<line x1="402.0" y1="143.7" x2="405.3" y2="150.6" stroke="#3a4cb4" stroke-width="0.9"/>
<line x1="403.4" y1="142.7" x2="406.7" y2="147.5" stroke="#3a4cb4" stroke-width="0.9"/>
<line x1="404.8" y1="141.8" x2="408.3" y2="144.2" stroke="#2436a0" stroke-width="0.9"/>
<line x1="406.1" y1="140.9" x2="412.4" y2="144.7" stroke="#3446b0" stroke-width="0.9"/>
<line x1="407.5" y1="140.0" x2="410.6" y2="145.8" stroke="#2436a0" stroke-width="0.9"/>
<rect x="470.4" y="35.4" width="45" height="15" fill="none" stroke="#111" stroke-width="1"/>
<line x1="518.4" y1="35.4" x2="535" y2="35.4" stroke="#111" stroke-width="1.6"/>
<polygon points="540,35.4 533.5,31.8 533.5,39" fill="#111"/>
<text x="357.8" y="74.5" font-size="10" font-style="italic" text-anchor="middle" font-family='"Liberation Serif", serif' fill="#1a1a1a">N</text>
<line x1="355.4" y1="64.8" x2="347.7" y2="57.1" stroke="#111" stroke-width="1.5"/>
<polygon points="344.2,53.5 349.6,55.2 345.9,58.9" fill="#111"/>
<line x1="359.4" y1="64.8" x2="364.1" y2="56.4" stroke="#111" stroke-width="1.5"/>
<polygon points="366.6,52.0 366.4,57.6 361.9,55.1" fill="#111"/>
<text x="459.2" y="71.8" font-size="10" font-style="italic" text-anchor="middle" font-family='"Liberation Serif", serif' fill="#1a1a1a">N</text>
<line x1="457" y1="62" x2="450.7" y2="56.6" stroke="#111" stroke-width="1.5"/>
<polygon points="446.9,53.4 452.4,54.7 449.0,58.6" fill="#111"/>
<line x1="461" y1="62" x2="468.6" y2="55.6" stroke="#111" stroke-width="1.5"/>
<polygon points="472.4,52.4 470.3,57.6 466.9,53.6" fill="#111"/>
<line x1="464" y1="63" x2="498.2" y2="54.6" stroke="#111" stroke-width="1.5" stroke-dasharray="5.5,2.8"/>
<polygon points="503.1,53.4 498.9,57.1 497.6,52.1" fill="#111"/>
<rect x="541.7" y="9.7" width="99.1" height="58.2" fill="#fff" stroke="#333" stroke-width="1.3"/>
<path d="M542.2,17.9 L594.8,17 C600,19 603,21 605.8,23 C611,28 615,32 619.4,34.8 C625,38.5 630,42 635.5,44.7 C630,43.5 624,42.5 619.4,41.6 C614,40 610,38.5 605.8,37.4 C600,35.5 594,34.8 588.9,34.8 C585,35 582,35.5 578.7,36.5 C575,38.5 572,40.5 568.5,42.5 C565,45 561,48 558.3,50.4 C553,50.6 547,50.8 542.2,50.9 Z" fill="url(#surf)"/>
<path d="M542.2,17.9 L594.8,17 C600,19 603,21 605.8,23 C585,22 560,26 542.2,31 Z" fill="#bdbdb5"/>
<line x1="638.1" y1="45.3" x2="638.1" y2="53.3" stroke="#a01424" stroke-width="1.6"/>
<polygon points="638.1,56.9 636.2,53.3 640.0,53.3" fill="#a01424"/>
<line x1="634.7" y1="44.7" x2="634.7" y2="54.1" stroke="#b01c2c" stroke-width="1.6"/>
<polygon points="634.7,57.7 632.8,54.1 636.6,54.1" fill="#b01c2c"/>
<line x1="630.4" y1="44.2" x2="629.8" y2="52.4" stroke="#a01424" stroke-width="1.6"/>
<polygon points="629.6,56.0 627.9,52.3 631.7,52.5" fill="#a01424"/>
<line x1="626.2" y1="42.5" x2="625.6" y2="51.6" stroke="#b82434" stroke-width="1.6"/>
<polygon points="625.3,55.2 623.7,51.5 627.4,51.7" fill="#b82434"/>
<line x1="621.9" y1="41.6" x2="621.3" y2="49.9" stroke="#a81a2a" stroke-width="1.6"/>
<polygon points="621.1,53.5 619.4,49.8 623.2,50.0" fill="#a81a2a"/>
<line x1="617.7" y1="40.8" x2="617.7" y2="48.2" stroke="#b01c2c" stroke-width="1.6"/>
<polygon points="617.7,51.8 615.8,48.2 619.6,48.2" fill="#b01c2c"/>
<line x1="613.5" y1="39.9" x2="612.9" y2="47.3" stroke="#c43040" stroke-width="1.6"/>
<polygon points="612.6,50.9 611.0,47.2 614.8,47.5" fill="#c43040"/>
<line x1="610.1" y1="39.1" x2="608.4" y2="45.7" stroke="#a01424" stroke-width="1.6"/>
<polygon points="607.5,49.2 606.6,45.2 610.2,46.2" fill="#a01424"/>
<line x1="605.8" y1="37.4" x2="605.3" y2="43.9" stroke="#b82434" stroke-width="1.6"/>
<polygon points="605.0,47.5 603.4,43.8 607.2,44.1" fill="#b82434"/>
<line x1="601.6" y1="36.5" x2="601.0" y2="43.1" stroke="#d88a94" stroke-width="1.6"/>
<polygon points="600.7,46.7 599.1,42.9 602.9,43.3" fill="#d88a94"/>
<line x1="598.2" y1="36.2" x2="597.7" y2="42.3" stroke="#c8c8cc" stroke-width="1.6"/>
<polygon points="597.4,45.9 595.8,42.2 599.6,42.5" fill="#c8c8cc"/>
<line x1="594.8" y1="35.7" x2="594.3" y2="41.4" stroke="#b01c2c" stroke-width="1.6"/>
<polygon points="594.0,45.0 592.4,41.3 596.2,41.6" fill="#b01c2c"/>
<line x1="591.4" y1="35.2" x2="590.9" y2="40.6" stroke="#8c9cc8" stroke-width="1.6"/>
<polygon points="590.6,44.2 589.0,40.4 592.8,40.8" fill="#8c9cc8"/>
<line x1="588.0" y1="34.8" x2="588.0" y2="40.6" stroke="#b82434" stroke-width="1.6"/>
<polygon points="588.0,44.2 586.1,40.6 589.9,40.6" fill="#b82434"/>
<line x1="583.8" y1="35.7" x2="583.2" y2="43.1" stroke="#5a78c8" stroke-width="1.6"/>
<polygon points="582.9,46.7 581.3,43.0 585.1,43.3" fill="#5a78c8"/>
<line x1="580.4" y1="36.5" x2="579.8" y2="44.8" stroke="#9ab0e0" stroke-width="1.6"/>
<polygon points="579.5,48.4 577.9,44.7 581.7,45.0" fill="#9ab0e0"/>
<line x1="577.0" y1="38.2" x2="576.5" y2="45.6" stroke="#6080cc" stroke-width="1.6"/>
<polygon points="576.2,49.2 574.6,45.5 578.4,45.7" fill="#6080cc"/>
<line x1="573.6" y1="39.9" x2="571.9" y2="47.4" stroke="#b01c2c" stroke-width="1.6"/>
<polygon points="571.1,50.9 570.0,47.0 573.8,47.8" fill="#b01c2c"/>
<line x1="570.2" y1="42.5" x2="567.9" y2="50.1" stroke="#a01424" stroke-width="1.6"/>
<polygon points="566.8,53.5 566.0,49.5 569.7,50.6" fill="#a01424"/>
<line x1="566.8" y1="45.0" x2="564.5" y2="52.6" stroke="#d06070" stroke-width="1.6"/>
<polygon points="563.4,56.0 562.6,52.0 566.3,53.1" fill="#d06070"/>
<line x1="563.4" y1="47.5" x2="562.2" y2="55.0" stroke="#c8c0c0" stroke-width="1.6"/>
<polygon points="561.7,58.6 560.4,54.8 564.1,55.3" fill="#c8c0c0"/>
<line x1="560.0" y1="49.2" x2="558.6" y2="53.5" stroke="#b01c2c" stroke-width="1.6"/>
<polygon points="557.5,56.9 556.8,52.9 560.4,54.1" fill="#b01c2c"/>
<line x1="555.0" y1="45.8" x2="546.1" y2="44.6" stroke="#3a50b0" stroke-width="1.3"/>
<polygon points="543.5,44.2 546.3,43.2 545.9,45.9" fill="#3a50b0"/>
<line x1="553.3" y1="48.4" x2="545.2" y2="48.4" stroke="#3a50b0" stroke-width="1.3"/>
<polygon points="542.6,48.4 545.2,47.0 545.2,49.8" fill="#3a50b0"/>
<line x1="551.0" y1="50.5" x2="546.6" y2="50.8" stroke="#3a50b0" stroke-width="1.3"/>
<polygon points="544.0,51.0 546.5,49.4 546.7,52.2" fill="#3a50b0"/>
<text x="354.5" y="190" font-size="10" font-style="italic" text-anchor="middle" font-family='"Liberation Serif", serif' fill="#1a1a1a">N</text>
<line x1="351" y1="182" x2="345.0" y2="176.0" stroke="#111" stroke-width="1.5"/>
<polygon points="341.5,172.5 346.9,174.2 343.2,177.9" fill="#111"/>
<line x1="357" y1="182" x2="363.0" y2="176.0" stroke="#111" stroke-width="1.5"/>
<polygon points="366.5,172.5 364.8,177.9 361.1,174.2" fill="#111"/>
<path d="M418,160 C420,150 421,146 422,144.5 C428,142.5 436,141 442,141.4 C450,142 457,150 463.7,152.2 C470,151 475,146 479.1,141.4 C479,137 480,132 481,130.6 C483,125 486,122.9 488.4,122.9 C492,124 494,132 494.6,141.4 C499,142.5 503,143.5 506.9,144.5 C508,150 509,158 511.5,164.6 C480,165 450,164 418,163 Z" fill="url(#surfB3)"/>
<path d="M481,130.6 C483,125 486,122.9 488.4,122.9 C492,124 494,132 494.6,141.4 L479.1,141.4 C479,137 480,132 481,130.6 Z" fill="#d6d6ce"/>
<path d="M468,166 C470,158 474,153.5 480,152.5 C486,152 494,156 500,166 Z" fill="#ffffff"/>
<defs><clipPath id="c6"><path d="M413.1,81.5 C418,81.5 424,85 428.1,89.6 C431,93 433.2,98 433.9,103.4 C433.5,107 431.5,111 428.1,117.3 C426,120 424.5,121.5 423.5,123.1 C421.5,126 420.5,128 420.7,128.9 C420,131 419.8,133 420,135.8 C420.2,139 420.5,141 421.6,147.4 L422.5,163.5 L413.8,163.5 C413.8,155 413.7,145 414.2,135.8 C414.8,128 415.4,123 415.4,119.6 C415,112 414.5,106 414.2,101.1 C413.8,95 413.3,88 413.1,81.5 Z"/></clipPath><linearGradient id="b3g" x1="0" x2="1" y1="0" y2="0"><stop offset="0" stop-color="#8088a8"/><stop offset="0.5" stop-color="#a6a8b4"/><stop offset="1" stop-color="#d4d4d0"/></linearGradient></defs>
<path d="M413.1,81.5 C418,81.5 424,85 428.1,89.6 C431,93 433.2,98 433.9,103.4 C433.5,107 431.5,111 428.1,117.3 C426,120 424.5,121.5 423.5,123.1 C421.5,126 420.5,128 420.7,128.9 C420,131 419.8,133 420,135.8 C420.2,139 420.5,141 421.6,147.4 L422.5,163.5 L413.8,163.5 C413.8,155 413.7,145 414.2,135.8 C414.8,128 415.4,123 415.4,119.6 C415,112 414.5,106 414.2,101.1 C413.8,95 413.3,88 413.1,81.5 Z" fill="url(#b3g)"/>
<g clip-path="url(#c6)">
<line x1="417.7" y1="92.2" x2="415.2" y2="87.6" stroke="#2436a0" stroke-width="0.8"/>
<line x1="418.3" y1="134.7" x2="415.7" y2="139.9" stroke="#5466c4" stroke-width="0.8"/>
<line x1="428.1" y1="108.5" x2="426.1" y2="105.1" stroke="#5466c4" stroke-width="0.8"/>
<line x1="417.6" y1="84.7" x2="415.5" y2="80.0" stroke="#5466c4" stroke-width="0.8"/>
<line x1="429.1" y1="143.8" x2="429.2" y2="148.5" stroke="#2436a0" stroke-width="0.8"/>
<line x1="413.9" y1="85.9" x2="411.2" y2="81.0" stroke="#5466c4" stroke-width="0.8"/>
<line x1="415.1" y1="161.0" x2="413.9" y2="163.9" stroke="#3a4cb4" stroke-width="0.8"/>
<line x1="416.9" y1="157.0" x2="415.5" y2="160.2" stroke="#3a4cb4" stroke-width="0.8"/>
<line x1="412.9" y1="157.3" x2="412.1" y2="160.5" stroke="#5466c4" stroke-width="0.8"/>
<line x1="420.3" y1="132.3" x2="418.8" y2="137.6" stroke="#3446b0" stroke-width="0.8"/>
<line x1="412.1" y1="80.9" x2="410.6" y2="77.5" stroke="#3446b0" stroke-width="0.8"/>
<line x1="418.9" y1="153.9" x2="417.6" y2="157.1" stroke="#5466c4" stroke-width="0.8"/>
<line x1="423.1" y1="161.3" x2="423.3" y2="166.8" stroke="#3446b0" stroke-width="0.8"/>
<line x1="425.3" y1="105.6" x2="422.2" y2="101.4" stroke="#2c3ca4" stroke-width="0.8"/>
<line x1="418.6" y1="154.1" x2="417.4" y2="159.0" stroke="#3a4cb4" stroke-width="0.8"/>
<line x1="423.6" y1="135.5" x2="422.3" y2="139.3" stroke="#5466c4" stroke-width="0.8"/>
<line x1="429.8" y1="140.0" x2="429.3" y2="144.4" stroke="#3446b0" stroke-width="0.8"/>
<line x1="411.2" y1="120.2" x2="406.2" y2="122.5" stroke="#3a4cb4" stroke-width="0.8"/>
<line x1="431.9" y1="134.5" x2="432.5" y2="137.5" stroke="#2c3ca4" stroke-width="0.8"/>
<line x1="412.9" y1="113.6" x2="409.2" y2="113.8" stroke="#5466c4" stroke-width="0.8"/>
<line x1="412.6" y1="156.3" x2="410.5" y2="161.4" stroke="#4456bc" stroke-width="0.8"/>
<line x1="423.2" y1="124.5" x2="421.0" y2="128.6" stroke="#5466c4" stroke-width="0.8"/>
<line x1="415.6" y1="116.2" x2="411.5" y2="117.4" stroke="#5466c4" stroke-width="0.8"/>
<line x1="413.6" y1="115.5" x2="407.7" y2="116.0" stroke="#3446b0" stroke-width="0.8"/>
<line x1="415.7" y1="98.6" x2="413.2" y2="96.7" stroke="#2c3ca4" stroke-width="0.8"/>
<line x1="411.3" y1="115.2" x2="405.6" y2="115.5" stroke="#4456bc" stroke-width="0.8"/>
<line x1="423.5" y1="105.2" x2="420.2" y2="101.2" stroke="#5466c4" stroke-width="0.8"/>
<line x1="414.6" y1="118.2" x2="409.5" y2="120.4" stroke="#2c3ca4" stroke-width="0.8"/>
<line x1="420.8" y1="131.8" x2="418.9" y2="134.8" stroke="#2c3ca4" stroke-width="0.8"/>
<line x1="428.9" y1="148.6" x2="429.3" y2="153.0" stroke="#2436a0" stroke-width="0.8"/>
<line x1="418.8" y1="131.3" x2="416.6" y2="135.6" stroke="#3a4cb4" stroke-width="0.8"/>
<line x1="418.4" y1="109.3" x2="413.6" y2="108.9" stroke="#2436a0" stroke-width="0.8"/>
<line x1="417.9" y1="140.3" x2="416.4" y2="145.5" stroke="#2c3ca4" stroke-width="0.8"/>
<line x1="423.4" y1="149.4" x2="422.8" y2="152.5" stroke="#5466c4" stroke-width="0.8"/>
<line x1="417.6" y1="98.5" x2="414.0" y2="95.7" stroke="#3446b0" stroke-width="0.8"/>
<line x1="432.0" y1="124.9" x2="433.4" y2="130.6" stroke="#2c3ca4" stroke-width="0.8"/>
<line x1="412.6" y1="124.8" x2="408.3" y2="127.6" stroke="#2c3ca4" stroke-width="0.8"/>
<line x1="423.1" y1="158.4" x2="421.5" y2="164.1" stroke="#2436a0" stroke-width="0.8"/>
<line x1="430.1" y1="143.6" x2="430.8" y2="147.6" stroke="#2436a0" stroke-width="0.8"/>
<line x1="416.3" y1="110.8" x2="411.6" y2="110.9" stroke="#5466c4" stroke-width="0.8"/>
<line x1="422.1" y1="118.5" x2="418.6" y2="121.8" stroke="#3a4cb4" stroke-width="0.8"/>
<line x1="425.6" y1="109.3" x2="422.5" y2="107.9" stroke="#4456bc" stroke-width="0.8"/>
<line x1="420.4" y1="99.8" x2="418.5" y2="96.9" stroke="#2436a0" stroke-width="0.8"/>
<line x1="430.6" y1="108.6" x2="431.6" y2="103.2" stroke="#2436a0" stroke-width="0.8"/>
<line x1="419.6" y1="126.9" x2="416.9" y2="131.8" stroke="#2c3ca4" stroke-width="0.8"/>
<line x1="422.4" y1="152.0" x2="421.5" y2="155.0" stroke="#4456bc" stroke-width="0.8"/>
<line x1="418.2" y1="114.3" x2="412.9" y2="115.7" stroke="#3446b0" stroke-width="0.8"/>
<line x1="411.1" y1="87.8" x2="407.4" y2="84.1" stroke="#2436a0" stroke-width="0.8"/>
<line x1="420.3" y1="129.8" x2="417.6" y2="134.0" stroke="#5466c4" stroke-width="0.8"/>
<line x1="411.1" y1="143.4" x2="408.8" y2="147.6" stroke="#2c3ca4" stroke-width="0.8"/>
<line x1="412.3" y1="102.1" x2="408.8" y2="100.8" stroke="#4456bc" stroke-width="0.8"/>
<line x1="415.4" y1="86.3" x2="412.3" y2="82.3" stroke="#3446b0" stroke-width="0.8"/>
<line x1="413.1" y1="129.1" x2="410.8" y2="131.5" stroke="#4456bc" stroke-width="0.8"/>
<line x1="430.6" y1="146.8" x2="431.2" y2="151.2" stroke="#4456bc" stroke-width="0.8"/>
<line x1="427.7" y1="95.5" x2="427.4" y2="92.2" stroke="#4456bc" stroke-width="0.8"/>
<line x1="422.8" y1="121.5" x2="421.1" y2="124.2" stroke="#2436a0" stroke-width="0.8"/>
<line x1="428.9" y1="87.1" x2="428.5" y2="82.0" stroke="#4456bc" stroke-width="0.8"/>
<line x1="418.9" y1="91.5" x2="416.3" y2="86.6" stroke="#4456bc" stroke-width="0.8"/>
<line x1="417.0" y1="88.0" x2="415.4" y2="83.5" stroke="#3446b0" stroke-width="0.8"/>
<line x1="417.9" y1="98.7" x2="414.9" y2="94.8" stroke="#3446b0" stroke-width="0.8"/>
<line x1="420.4" y1="148.7" x2="418.9" y2="154.1" stroke="#4456bc" stroke-width="0.8"/>
<line x1="420.2" y1="134.8" x2="418.5" y2="140.1" stroke="#2436a0" stroke-width="0.8"/>
<line x1="428.5" y1="107.8" x2="427.1" y2="105.0" stroke="#3446b0" stroke-width="0.8"/>
<line x1="426.6" y1="133.0" x2="425.4" y2="138.6" stroke="#2c3ca4" stroke-width="0.8"/>
<line x1="419.5" y1="128.7" x2="417.5" y2="132.8" stroke="#3a4cb4" stroke-width="0.8"/>
<line x1="430.7" y1="90.6" x2="430.6" y2="85.3" stroke="#2436a0" stroke-width="0.8"/>
<line x1="431.2" y1="110.1" x2="433.7" y2="105.9" stroke="#2436a0" stroke-width="0.8"/>
<line x1="415.2" y1="155.8" x2="412.5" y2="161.0" stroke="#5466c4" stroke-width="0.8"/>
<line x1="429.5" y1="122.0" x2="429.6" y2="125.2" stroke="#3a4cb4" stroke-width="0.8"/>
<line x1="425.9" y1="159.9" x2="425.1" y2="162.9" stroke="#3a4cb4" stroke-width="0.8"/>
<line x1="428.5" y1="142.7" x2="427.9" y2="146.7" stroke="#2c3ca4" stroke-width="0.8"/>
<line x1="430.3" y1="141.8" x2="431.0" y2="146.9" stroke="#2c3ca4" stroke-width="0.8"/>
<line x1="414.3" y1="150.0" x2="412.4" y2="154.8" stroke="#3a4cb4" stroke-width="0.8"/>
<line x1="416.6" y1="157.4" x2="416.1" y2="161.9" stroke="#2436a0" stroke-width="0.8"/>
<line x1="429.7" y1="81.5" x2="428.9" y2="76.3" stroke="#4456bc" stroke-width="0.8"/>
<line x1="428.1" y1="80.4" x2="427.3" y2="76.2" stroke="#5466c4" stroke-width="0.8"/>
<line x1="421.1" y1="150.3" x2="419.9" y2="153.4" stroke="#2436a0" stroke-width="0.8"/>
<line x1="411.3" y1="87.8" x2="408.4" y2="83.1" stroke="#3a4cb4" stroke-width="0.8"/>
<line x1="431.1" y1="113.2" x2="433.3" y2="116.2" stroke="#3a4cb4" stroke-width="0.8"/>
<line x1="411.0" y1="162.6" x2="409.2" y2="166.4" stroke="#3a4cb4" stroke-width="0.8"/>
<line x1="423.2" y1="162.9" x2="421.7" y2="168.0" stroke="#2c3ca4" stroke-width="0.8"/>
<line x1="412.7" y1="143.1" x2="411.1" y2="146.4" stroke="#2436a0" stroke-width="0.8"/>
<line x1="419.2" y1="152.3" x2="418.0" y2="156.1" stroke="#3a4cb4" stroke-width="0.8"/>
<line x1="431.9" y1="121.7" x2="432.9" y2="126.7" stroke="#3446b0" stroke-width="0.8"/>
<line x1="418.1" y1="114.7" x2="412.9" y2="115.5" stroke="#3446b0" stroke-width="0.8"/>
<line x1="417.5" y1="151.3" x2="415.8" y2="156.2" stroke="#4456bc" stroke-width="0.8"/>
<line x1="430.6" y1="112.3" x2="433.6" y2="113.6" stroke="#3a4cb4" stroke-width="0.8"/>
<line x1="413.6" y1="84.1" x2="411.3" y2="79.5" stroke="#3a4cb4" stroke-width="0.8"/>
<line x1="411.7" y1="83.1" x2="410.3" y2="80.0" stroke="#3a4cb4" stroke-width="0.8"/>
<line x1="415.8" y1="127.4" x2="413.2" y2="130.7" stroke="#3446b0" stroke-width="0.8"/>
<line x1="424.5" y1="108.5" x2="421.2" y2="105.6" stroke="#4456bc" stroke-width="0.8"/>
<line x1="416.5" y1="122.8" x2="414.2" y2="124.9" stroke="#3a4cb4" stroke-width="0.8"/>
<line x1="415.8" y1="105.3" x2="410.7" y2="102.6" stroke="#3a4cb4" stroke-width="0.8"/>
<line x1="423.3" y1="146.0" x2="423.2" y2="150.1" stroke="#3a4cb4" stroke-width="0.8"/>
<line x1="427.6" y1="90.6" x2="427.0" y2="87.4" stroke="#5466c4" stroke-width="0.8"/>
<line x1="424.4" y1="151.0" x2="424.4" y2="154.5" stroke="#3a4cb4" stroke-width="0.8"/>
<line x1="416.4" y1="112.1" x2="412.9" y2="112.8" stroke="#2436a0" stroke-width="0.8"/>
<line x1="425.4" y1="151.9" x2="425.3" y2="155.3" stroke="#2436a0" stroke-width="0.8"/>
<line x1="417.8" y1="81.6" x2="416.2" y2="76.3" stroke="#4456bc" stroke-width="0.8"/>
<line x1="424.9" y1="134.6" x2="424.2" y2="137.8" stroke="#5466c4" stroke-width="0.8"/>
<line x1="415.3" y1="148.9" x2="413.9" y2="154.4" stroke="#3a4cb4" stroke-width="0.8"/>
<line x1="420.5" y1="163.0" x2="420.3" y2="166.0" stroke="#3a4cb4" stroke-width="0.8"/>
<line x1="425.1" y1="132.8" x2="424.2" y2="137.6" stroke="#2c3ca4" stroke-width="0.8"/>
<line x1="424.8" y1="96.4" x2="423.9" y2="91.8" stroke="#2436a0" stroke-width="0.8"/>
<line x1="412.6" y1="144.6" x2="411.1" y2="147.8" stroke="#3446b0" stroke-width="0.8"/>
<line x1="422.8" y1="161.4" x2="421.1" y2="167.0" stroke="#2436a0" stroke-width="0.8"/>
<line x1="430.7" y1="101.8" x2="431.2" y2="97.2" stroke="#3446b0" stroke-width="0.8"/>
<line x1="416.3" y1="114.5" x2="412.1" y2="115.2" stroke="#3446b0" stroke-width="0.8"/>
<line x1="413.9" y1="103.3" x2="409.6" y2="100.8" stroke="#3a4cb4" stroke-width="0.8"/>
<line x1="427.4" y1="138.4" x2="426.8" y2="144.4" stroke="#3446b0" stroke-width="0.8"/>
<line x1="415.3" y1="95.5" x2="412.5" y2="92.4" stroke="#5466c4" stroke-width="0.8"/>
<line x1="429.6" y1="135.1" x2="429.9" y2="138.4" stroke="#3a4cb4" stroke-width="0.8"/>
<line x1="430.5" y1="81.5" x2="430.7" y2="76.5" stroke="#3a4cb4" stroke-width="0.8"/>
<line x1="426.9" y1="88.8" x2="426.9" y2="84.7" stroke="#4456bc" stroke-width="0.8"/>
<line x1="422.1" y1="108.6" x2="416.7" y2="106.4" stroke="#4456bc" stroke-width="0.8"/>
<line x1="422.8" y1="163.8" x2="422.7" y2="168.9" stroke="#5466c4" stroke-width="0.8"/>
<line x1="422.3" y1="140.2" x2="420.3" y2="144.7" stroke="#2436a0" stroke-width="0.8"/>
<line x1="427.0" y1="98.2" x2="425.9" y2="93.6" stroke="#3446b0" stroke-width="0.8"/>
<line x1="420.0" y1="119.4" x2="416.4" y2="123.1" stroke="#4456bc" stroke-width="0.8"/>
<line x1="419.7" y1="102.5" x2="417.3" y2="99.5" stroke="#4456bc" stroke-width="0.8"/>
<line x1="427.8" y1="102.2" x2="426.7" y2="97.3" stroke="#2c3ca4" stroke-width="0.8"/>
<line x1="420.4" y1="110.0" x2="417.4" y2="109.4" stroke="#3a4cb4" stroke-width="0.8"/>
<line x1="428.5" y1="105.1" x2="426.9" y2="100.9" stroke="#3446b0" stroke-width="0.8"/>
<line x1="420.2" y1="161.5" x2="419.7" y2="165.9" stroke="#2436a0" stroke-width="0.8"/>
<line x1="419.2" y1="91.2" x2="417.8" y2="88.5" stroke="#2436a0" stroke-width="0.8"/>
<line x1="416.9" y1="109.5" x2="413.1" y2="108.5" stroke="#4456bc" stroke-width="0.8"/>
<line x1="423.7" y1="148.9" x2="422.6" y2="152.2" stroke="#2436a0" stroke-width="0.8"/>
<line x1="415.7" y1="107.8" x2="412.5" y2="106.8" stroke="#3a4cb4" stroke-width="0.8"/>
<line x1="423.1" y1="160.9" x2="422.2" y2="165.8" stroke="#3446b0" stroke-width="0.8"/>
<line x1="418.0" y1="83.0" x2="415.8" y2="77.6" stroke="#3a4cb4" stroke-width="0.8"/>
<line x1="422.9" y1="155.6" x2="422.3" y2="159.5" stroke="#4456bc" stroke-width="0.8"/>
<line x1="417.0" y1="157.1" x2="416.1" y2="161.1" stroke="#3446b0" stroke-width="0.8"/>
<line x1="415.7" y1="102.8" x2="412.4" y2="99.7" stroke="#2c3ca4" stroke-width="0.8"/>
<line x1="430.9" y1="119.4" x2="430.6" y2="125.0" stroke="#3a4cb4" stroke-width="0.8"/>
<line x1="427.4" y1="139.9" x2="427.7" y2="145.2" stroke="#2c3ca4" stroke-width="0.8"/>
<line x1="418.5" y1="148.4" x2="416.6" y2="152.4" stroke="#4456bc" stroke-width="0.8"/>
<line x1="418.7" y1="151.6" x2="417.9" y2="157.2" stroke="#3446b0" stroke-width="0.8"/>
<line x1="425.7" y1="96.9" x2="424.6" y2="92.6" stroke="#3446b0" stroke-width="0.8"/>
<line x1="421.1" y1="119.4" x2="418.7" y2="121.7" stroke="#5466c4" stroke-width="0.8"/>
<line x1="426.2" y1="122.8" x2="424.0" y2="127.1" stroke="#2436a0" stroke-width="0.8"/>
<line x1="423.5" y1="84.2" x2="421.6" y2="78.9" stroke="#3446b0" stroke-width="0.8"/>
<line x1="424.5" y1="131.8" x2="422.1" y2="137.0" stroke="#3446b0" stroke-width="0.8"/>
<line x1="420.9" y1="91.8" x2="418.8" y2="87.1" stroke="#2436a0" stroke-width="0.8"/>
<line x1="417.0" y1="158.2" x2="416.3" y2="161.3" stroke="#4456bc" stroke-width="0.8"/>
<line x1="412.4" y1="112.6" x2="408.1" y2="113.2" stroke="#5466c4" stroke-width="0.8"/>
<line x1="429.3" y1="89.5" x2="429.9" y2="85.8" stroke="#3446b0" stroke-width="0.8"/>
<line x1="429.7" y1="117.9" x2="429.5" y2="121.2" stroke="#3a4cb4" stroke-width="0.8"/>
<line x1="419.0" y1="95.2" x2="417.5" y2="92.1" stroke="#4456bc" stroke-width="0.8"/>
<line x1="411.2" y1="131.3" x2="408.8" y2="133.5" stroke="#4456bc" stroke-width="0.8"/>
<line x1="431.9" y1="93.5" x2="431.7" y2="88.2" stroke="#3446b0" stroke-width="0.8"/>
<line x1="412.0" y1="87.2" x2="410.0" y2="84.7" stroke="#3a4cb4" stroke-width="0.8"/>
<line x1="418.5" y1="140.2" x2="417.3" y2="143.1" stroke="#3a4cb4" stroke-width="0.8"/>
<line x1="421.7" y1="119.8" x2="417.5" y2="122.9" stroke="#2c3ca4" stroke-width="0.8"/>
<line x1="428.4" y1="138.1" x2="428.7" y2="141.4" stroke="#2c3ca4" stroke-width="0.8"/>
<line x1="415.9" y1="130.0" x2="413.7" y2="134.1" stroke="#2436a0" stroke-width="0.8"/>
<line x1="429.2" y1="90.4" x2="429.4" y2="85.1" stroke="#4456bc" stroke-width="0.8"/>
<line x1="431.1" y1="100.4" x2="431.1" y2="96.0" stroke="#5466c4" stroke-width="0.8"/>
<line x1="413.7" y1="131.3" x2="410.1" y2="134.6" stroke="#2c3ca4" stroke-width="0.8"/>
<line x1="431.1" y1="86.5" x2="431.4" y2="83.0" stroke="#3446b0" stroke-width="0.8"/>
<line x1="429.2" y1="89.4" x2="429.8" y2="84.0" stroke="#3a4cb4" stroke-width="0.8"/>
<line x1="431.6" y1="149.6" x2="432.1" y2="153.1" stroke="#4456bc" stroke-width="0.8"/>
<line x1="427.2" y1="123.4" x2="426.7" y2="126.8" stroke="#5466c4" stroke-width="0.8"/>
<line x1="412.0" y1="142.2" x2="409.8" y2="145.4" stroke="#4456bc" stroke-width="0.8"/>
<line x1="422.5" y1="110.0" x2="416.8" y2="108.3" stroke="#3446b0" stroke-width="0.8"/>
<line x1="412.5" y1="117.9" x2="409.4" y2="118.7" stroke="#4456bc" stroke-width="0.8"/>
<line x1="423.1" y1="162.9" x2="423.0" y2="167.8" stroke="#3a4cb4" stroke-width="0.8"/>
<line x1="428.7" y1="128.9" x2="428.8" y2="132.0" stroke="#3a4cb4" stroke-width="0.8"/>
<line x1="416.5" y1="124.8" x2="412.9" y2="127.5" stroke="#5466c4" stroke-width="0.8"/>
<line x1="412.9" y1="89.6" x2="410.5" y2="87.3" stroke="#3446b0" stroke-width="0.8"/>
<line x1="419.1" y1="148.3" x2="418.2" y2="151.9" stroke="#3446b0" stroke-width="0.8"/>
<line x1="428.6" y1="155.8" x2="428.9" y2="161.6" stroke="#2c3ca4" stroke-width="0.8"/>
<line x1="423.3" y1="132.3" x2="422.0" y2="135.0" stroke="#2436a0" stroke-width="0.8"/>
<line x1="418.1" y1="117.1" x2="413.7" y2="119.6" stroke="#2436a0" stroke-width="0.8"/>
<line x1="415.8" y1="87.5" x2="414.0" y2="83.5" stroke="#2c3ca4" stroke-width="0.8"/>
<line x1="415.6" y1="101.5" x2="413.1" y2="99.6" stroke="#3a4cb4" stroke-width="0.8"/>
<line x1="421.3" y1="120.7" x2="417.8" y2="124.4" stroke="#2c3ca4" stroke-width="0.8"/>
<line x1="421.9" y1="103.6" x2="419.3" y2="100.1" stroke="#4456bc" stroke-width="0.8"/>
<line x1="419.3" y1="107.0" x2="413.6" y2="105.3" stroke="#2c3ca4" stroke-width="0.8"/>
<line x1="421.7" y1="120.0" x2="417.2" y2="123.6" stroke="#2c3ca4" stroke-width="0.8"/>
<line x1="419.2" y1="111.4" x2="415.1" y2="111.7" stroke="#3a4cb4" stroke-width="0.8"/>
<line x1="421.5" y1="83.0" x2="420.8" y2="78.7" stroke="#3a4cb4" stroke-width="0.8"/>
<line x1="414.1" y1="109.0" x2="409.1" y2="108.7" stroke="#3446b0" stroke-width="0.8"/>
<line x1="415.0" y1="150.5" x2="412.1" y2="155.8" stroke="#2c3ca4" stroke-width="0.8"/>
<line x1="416.6" y1="160.7" x2="415.3" y2="164.7" stroke="#3446b0" stroke-width="0.8"/>
<line x1="429.2" y1="139.2" x2="429.5" y2="142.2" stroke="#3a4cb4" stroke-width="0.8"/>
<line x1="428.8" y1="145.2" x2="428.0" y2="149.4" stroke="#3a4cb4" stroke-width="0.8"/>
<line x1="423.1" y1="95.3" x2="421.1" y2="91.8" stroke="#4456bc" stroke-width="0.8"/>
<line x1="425.9" y1="155.3" x2="426.0" y2="160.8" stroke="#3446b0" stroke-width="0.8"/>
<line x1="427.1" y1="86.3" x2="426.6" y2="80.8" stroke="#2436a0" stroke-width="0.8"/>
<line x1="421.3" y1="86.8" x2="419.1" y2="82.2" stroke="#3a4cb4" stroke-width="0.8"/>
<line x1="426.3" y1="92.0" x2="425.1" y2="87.6" stroke="#2436a0" stroke-width="0.8"/>
<line x1="425.9" y1="118.6" x2="424.0" y2="122.0" stroke="#5466c4" stroke-width="0.8"/>
<line x1="422.3" y1="93.5" x2="420.7" y2="89.9" stroke="#4456bc" stroke-width="0.8"/>
<line x1="412.4" y1="102.8" x2="407.0" y2="100.5" stroke="#5466c4" stroke-width="0.8"/>
<line x1="417.4" y1="87.2" x2="415.9" y2="83.0" stroke="#2436a0" stroke-width="0.8"/>
<line x1="412.0" y1="139.1" x2="409.3" y2="143.2" stroke="#5466c4" stroke-width="0.8"/>
<line x1="415.4" y1="129.0" x2="413.3" y2="131.5" stroke="#5466c4" stroke-width="0.8"/>
<line x1="417.5" y1="151.5" x2="416.1" y2="156.0" stroke="#5466c4" stroke-width="0.8"/>
<line x1="420.8" y1="90.8" x2="418.7" y2="85.3" stroke="#5466c4" stroke-width="0.8"/>
<line x1="418.4" y1="83.3" x2="416.9" y2="77.5" stroke="#5466c4" stroke-width="0.8"/>
<line x1="418.8" y1="121.1" x2="415.9" y2="123.5" stroke="#2c3ca4" stroke-width="0.8"/>
<line x1="424.7" y1="130.8" x2="423.7" y2="135.9" stroke="#3a4cb4" stroke-width="0.8"/>
<line x1="428.5" y1="151.0" x2="429.0" y2="154.6" stroke="#2436a0" stroke-width="0.8"/>
<line x1="418.6" y1="86.5" x2="416.6" y2="81.2" stroke="#4456bc" stroke-width="0.8"/>
<line x1="420.1" y1="122.9" x2="417.8" y2="126.5" stroke="#2c3ca4" stroke-width="0.8"/>
<line x1="425.4" y1="124.9" x2="424.3" y2="129.3" stroke="#3446b0" stroke-width="0.8"/>
<line x1="427.9" y1="85.1" x2="427.7" y2="82.1" stroke="#5466c4" stroke-width="0.8"/>
<line x1="431.4" y1="103.2" x2="431.5" y2="98.7" stroke="#2436a0" stroke-width="0.8"/>
<line x1="417.1" y1="125.4" x2="414.8" y2="127.8" stroke="#3446b0" stroke-width="0.8"/>
<line x1="418.6" y1="103.2" x2="413.6" y2="100.4" stroke="#3a4cb4" stroke-width="0.8"/>
<line x1="429.0" y1="85.8" x2="429.0" y2="79.9" stroke="#4456bc" stroke-width="0.8"/>
<line x1="431.7" y1="106.1" x2="433.2" y2="102.3" stroke="#2436a0" stroke-width="0.8"/>
<line x1="429.8" y1="107.4" x2="430.0" y2="104.4" stroke="#5466c4" stroke-width="0.8"/>
<line x1="426.3" y1="128.8" x2="425.8" y2="133.3" stroke="#5466c4" stroke-width="0.8"/>
<line x1="418.6" y1="119.7" x2="414.1" y2="123.5" stroke="#5466c4" stroke-width="0.8"/>
<line x1="415.4" y1="106.8" x2="411.1" y2="105.2" stroke="#3446b0" stroke-width="0.8"/>
<line x1="427.0" y1="161.4" x2="426.1" y2="166.8" stroke="#2436a0" stroke-width="0.8"/>
<line x1="426.1" y1="126.0" x2="424.0" y2="131.1" stroke="#5466c4" stroke-width="0.8"/>
<line x1="427.6" y1="126.8" x2="427.5" y2="132.5" stroke="#4456bc" stroke-width="0.8"/>
<line x1="429.0" y1="145.6" x2="428.3" y2="149.4" stroke="#2c3ca4" stroke-width="0.8"/>
<line x1="412.1" y1="118.9" x2="407.2" y2="120.6" stroke="#3446b0" stroke-width="0.8"/>
<line x1="418.5" y1="112.6" x2="413.0" y2="112.8" stroke="#5466c4" stroke-width="0.8"/>
<line x1="429.6" y1="126.0" x2="429.4" y2="131.4" stroke="#5466c4" stroke-width="0.8"/>
<line x1="422.0" y1="120.2" x2="420.0" y2="122.9" stroke="#3a4cb4" stroke-width="0.8"/>
<line x1="412.8" y1="114.1" x2="409.7" y2="114.6" stroke="#3446b0" stroke-width="0.8"/>
<line x1="429.0" y1="139.2" x2="428.7" y2="145.1" stroke="#2436a0" stroke-width="0.8"/>
<line x1="421.6" y1="89.1" x2="420.3" y2="84.9" stroke="#2436a0" stroke-width="0.8"/>
<line x1="419.4" y1="123.7" x2="416.5" y2="126.2" stroke="#3446b0" stroke-width="0.8"/>
<line x1="425.8" y1="145.6" x2="425.7" y2="151.4" stroke="#2436a0" stroke-width="0.8"/>
<line x1="411.8" y1="136.8" x2="408.9" y2="139.7" stroke="#2436a0" stroke-width="0.8"/>
<line x1="430.3" y1="98.0" x2="429.8" y2="93.5" stroke="#5466c4" stroke-width="0.8"/>
<line x1="421.3" y1="133.4" x2="420.2" y2="137.2" stroke="#3a4cb4" stroke-width="0.8"/>
<line x1="422.7" y1="140.4" x2="421.6" y2="145.2" stroke="#2c3ca4" stroke-width="0.8"/>
<line x1="417.2" y1="120.5" x2="413.8" y2="122.6" stroke="#5466c4" stroke-width="0.8"/>
<line x1="426.8" y1="99.6" x2="426.0" y2="94.2" stroke="#3446b0" stroke-width="0.8"/>
<line x1="420.7" y1="138.9" x2="418.6" y2="143.6" stroke="#2c3ca4" stroke-width="0.8"/>
<line x1="428.0" y1="136.8" x2="427.5" y2="141.0" stroke="#5466c4" stroke-width="0.8"/>
<line x1="422.4" y1="142.1" x2="421.1" y2="147.5" stroke="#2436a0" stroke-width="0.8"/>
<line x1="413.5" y1="86.2" x2="410.7" y2="83.1" stroke="#2436a0" stroke-width="0.8"/>
<line x1="417.5" y1="163.4" x2="417.1" y2="169.4" stroke="#3446b0" stroke-width="0.8"/>
</g>
<line x1="413.2" y1="84.0" x2="412.1" y2="83.4" stroke="#2436a0" stroke-width="0.9"/>
<line x1="413.4" y1="87.7" x2="409.5" y2="85.8" stroke="#4456bc" stroke-width="0.9"/>
<line x1="413.6" y1="91.4" x2="412.7" y2="91.9" stroke="#2436a0" stroke-width="0.9"/>
<line x1="413.9" y1="95.1" x2="410.7" y2="94.7" stroke="#4456bc" stroke-width="0.9"/>
<line x1="414.1" y1="98.9" x2="411.1" y2="98.2" stroke="#3446b0" stroke-width="0.9"/>
<line x1="414.3" y1="102.6" x2="413.0" y2="101.9" stroke="#2436a0" stroke-width="0.9"/>
<line x1="414.5" y1="106.3" x2="410.7" y2="105.6" stroke="#2c3ca4" stroke-width="0.9"/>
<line x1="414.7" y1="110.0" x2="413.0" y2="109.7" stroke="#2436a0" stroke-width="0.9"/>
<line x1="415.0" y1="113.7" x2="413.9" y2="114.2" stroke="#5466c4" stroke-width="0.9"/>
<line x1="415.2" y1="117.4" x2="413.6" y2="118.1" stroke="#2c3ca4" stroke-width="0.9"/>
<line x1="415.2" y1="121.1" x2="413.4" y2="120.8" stroke="#2c3ca4" stroke-width="0.9"/>
<line x1="414.9" y1="124.8" x2="410.5" y2="124.6" stroke="#3a4cb4" stroke-width="0.9"/>
<line x1="414.7" y1="128.5" x2="412.4" y2="127.2" stroke="#3a4cb4" stroke-width="0.9"/>
<line x1="414.4" y1="132.3" x2="413.3" y2="132.0" stroke="#4456bc" stroke-width="0.9"/>
<line x1="414.2" y1="136.0" x2="410.1" y2="135.6" stroke="#2436a0" stroke-width="0.9"/>
<line x1="414.1" y1="139.7" x2="410.1" y2="138.3" stroke="#4456bc" stroke-width="0.9"/>
<line x1="414.1" y1="143.4" x2="410.4" y2="145.6" stroke="#3a4cb4" stroke-width="0.9"/>
<line x1="414.0" y1="147.1" x2="413.0" y2="146.8" stroke="#3a4cb4" stroke-width="0.9"/>
<line x1="414.0" y1="150.8" x2="411.2" y2="151.2" stroke="#3446b0" stroke-width="0.9"/>
<line x1="413.9" y1="154.6" x2="410.7" y2="154.1" stroke="#5466c4" stroke-width="0.9"/>
<line x1="413.9" y1="158.3" x2="411.5" y2="159.3" stroke="#4456bc" stroke-width="0.9"/>
<line x1="413.8" y1="162.0" x2="410.4" y2="159.8" stroke="#4456bc" stroke-width="0.9"/>
<line x1="412.7" y1="163.2" x2="413.2" y2="166.6" stroke="#c84858" stroke-width="1.0"/>
<polygon points="413.3,167.1 412.1,165.5 413.9,165.2" fill="#c84858"/>
<line x1="414.0" y1="163.3" x2="412.6" y2="167.1" stroke="#c84858" stroke-width="1.0"/>
<polygon points="412.4,167.6 412.2,165.6 413.9,166.2" fill="#c84858"/>
<line x1="415.3" y1="163.3" x2="413.1" y2="169.0" stroke="#b01828" stroke-width="1.0"/>
<polygon points="412.9,169.5 412.7,167.5 414.4,168.1" fill="#b01828"/>
<line x1="416.6" y1="163.4" x2="417.7" y2="168.6" stroke="#d06070" stroke-width="1.0"/>
<polygon points="417.9,169.1 416.6,167.5 418.3,167.1" fill="#d06070"/>
<line x1="417.8" y1="163.4" x2="415.0" y2="170.0" stroke="#b01828" stroke-width="1.0"/>
<polygon points="414.8,170.5 414.7,168.5 416.4,169.2" fill="#b01828"/>
<line x1="419.1" y1="163.5" x2="420.3" y2="168.8" stroke="#c02838" stroke-width="1.0"/>
<polygon points="420.4,169.4 419.1,167.8 420.9,167.4" fill="#c02838"/>
<line x1="420.4" y1="163.5" x2="418.4" y2="167.7" stroke="#c84858" stroke-width="1.0"/>
<polygon points="418.1,168.2 418.1,166.2 419.7,167.0" fill="#c84858"/>
<line x1="421.7" y1="163.6" x2="421.8" y2="171.2" stroke="#d06070" stroke-width="1.0"/>
<polygon points="421.8,171.8 420.9,170.0 422.7,170.0" fill="#d06070"/>
<line x1="423.0" y1="163.6" x2="423.4" y2="169.7" stroke="#c84858" stroke-width="1.0"/>
<polygon points="423.5,170.3 422.4,168.5 424.2,168.4" fill="#c84858"/>
<line x1="424.3" y1="163.7" x2="425.2" y2="168.9" stroke="#a01020" stroke-width="1.0"/>
<polygon points="425.3,169.5 424.1,167.9 425.9,167.5" fill="#a01020"/>
<line x1="425.6" y1="163.8" x2="424.8" y2="166.8" stroke="#a01020" stroke-width="1.0"/>
<polygon points="424.6,167.4 424.2,165.4 426.0,165.8" fill="#a01020"/>
<line x1="426.8" y1="163.8" x2="424.7" y2="170.2" stroke="#b01828" stroke-width="1.0"/>
<polygon points="424.5,170.7 424.2,168.7 425.9,169.3" fill="#b01828"/>
<line x1="428.1" y1="163.9" x2="425.0" y2="168.7" stroke="#d06070" stroke-width="1.0"/>
<polygon points="424.8,169.2 425.0,167.2 426.5,168.1" fill="#d06070"/>
<line x1="429.4" y1="163.9" x2="429.9" y2="169.0" stroke="#a01020" stroke-width="1.0"/>
<polygon points="430.0,169.5 428.9,167.8 430.7,167.6" fill="#a01020"/>
<line x1="430.7" y1="164.0" x2="429.8" y2="170.8" stroke="#a01020" stroke-width="1.0"/>
<polygon points="429.8,171.4 429.1,169.5 430.9,169.7" fill="#a01020"/>
<line x1="432.0" y1="164.0" x2="431.7" y2="169.7" stroke="#a01020" stroke-width="1.0"/>
<polygon points="431.7,170.3 430.9,168.4 432.7,168.5" fill="#a01020"/>
<line x1="433.3" y1="164.1" x2="431.1" y2="169.3" stroke="#c02838" stroke-width="1.0"/>
<polygon points="430.9,169.8 430.8,167.8 432.4,168.5" fill="#c02838"/>
<line x1="434.6" y1="164.1" x2="433.9" y2="168.9" stroke="#c02838" stroke-width="1.0"/>
<polygon points="433.8,169.4 433.2,167.5 434.9,167.8" fill="#c02838"/>
<line x1="435.9" y1="164.2" x2="436.6" y2="171.4" stroke="#d06070" stroke-width="1.0"/>
<polygon points="436.6,172.0 435.6,170.3 437.3,170.1" fill="#d06070"/>
<line x1="437.1" y1="164.2" x2="437.5" y2="172.1" stroke="#c84858" stroke-width="1.0"/>
<polygon points="437.6,172.7 436.6,170.9 438.4,170.8" fill="#c84858"/>
<line x1="438.4" y1="164.3" x2="437.9" y2="169.2" stroke="#c84858" stroke-width="1.0"/>
<polygon points="437.9,169.8 437.1,167.9 438.9,168.1" fill="#c84858"/>
<line x1="439.7" y1="164.4" x2="438.9" y2="169.5" stroke="#c84858" stroke-width="1.0"/>
<polygon points="438.9,170.0 438.2,168.1 440.0,168.4" fill="#c84858"/>
<line x1="441.0" y1="164.4" x2="441.5" y2="171.3" stroke="#d06070" stroke-width="1.0"/>
<polygon points="441.6,171.8 440.5,170.1 442.3,169.9" fill="#d06070"/>
<line x1="442.3" y1="164.5" x2="442.8" y2="168.9" stroke="#a01020" stroke-width="1.0"/>
<polygon points="442.9,169.4 441.8,167.7 443.5,167.5" fill="#a01020"/>
<line x1="443.6" y1="164.5" x2="444.1" y2="168.5" stroke="#d06070" stroke-width="1.0"/>
<polygon points="444.2,169.1 443.0,167.4 444.8,167.2" fill="#d06070"/>
<line x1="444.9" y1="164.6" x2="443.7" y2="168.1" stroke="#a01020" stroke-width="1.0"/>
<polygon points="443.5,168.6 443.2,166.6 444.9,167.2" fill="#a01020"/>
<line x1="446.1" y1="164.6" x2="446.1" y2="168.5" stroke="#c84858" stroke-width="1.0"/>
<polygon points="446.1,169.0 445.2,167.2 447.0,167.3" fill="#c84858"/>
<line x1="447.4" y1="164.7" x2="444.8" y2="169.9" stroke="#d06070" stroke-width="1.0"/>
<polygon points="444.6,170.3 444.6,168.3 446.2,169.1" fill="#d06070"/>
<line x1="448.7" y1="164.7" x2="447.9" y2="167.7" stroke="#c84858" stroke-width="1.0"/>
<polygon points="447.8,168.2 447.4,166.2 449.1,166.7" fill="#c84858"/>
<line x1="450.0" y1="164.8" x2="448.3" y2="169.0" stroke="#d06070" stroke-width="1.0"/>
<polygon points="448.1,169.5 447.9,167.5 449.6,168.2" fill="#d06070"/>
<line x1="440.0" y1="164.5" x2="440.4" y2="166.8" stroke="#3446b0" stroke-width="0.9"/>
<line x1="442.8" y1="164.6" x2="442.7" y2="166.7" stroke="#4456bc" stroke-width="0.9"/>
<line x1="445.6" y1="164.7" x2="445.2" y2="168.2" stroke="#2c3ca4" stroke-width="0.9"/>
<line x1="448.3" y1="164.8" x2="448.7" y2="168.3" stroke="#4456bc" stroke-width="0.9"/>
<line x1="451.1" y1="164.9" x2="451.8" y2="167.4" stroke="#3446b0" stroke-width="0.9"/>
<line x1="453.9" y1="165.1" x2="453.0" y2="167.2" stroke="#2436a0" stroke-width="0.9"/>
<line x1="456.7" y1="165.2" x2="455.7" y2="168.5" stroke="#3a4cb4" stroke-width="0.9"/>
<line x1="459.4" y1="165.3" x2="458.5" y2="167.1" stroke="#2c3ca4" stroke-width="0.9"/>
<line x1="462.2" y1="165.4" x2="463.2" y2="168.6" stroke="#2436a0" stroke-width="0.9"/>
<line x1="465.0" y1="165.5" x2="465.5" y2="167.5" stroke="#2c3ca4" stroke-width="0.9"/>
<line x1="469.0" y1="165.5" x2="470.1" y2="169.9" stroke="#a01424" stroke-width="0.8"/>
<line x1="469.8" y1="163.9" x2="467.7" y2="167.9" stroke="#c43040" stroke-width="0.8"/>
<line x1="470.7" y1="162.3" x2="472.0" y2="166.6" stroke="#6b86d2" stroke-width="0.8"/>
<line x1="471.5" y1="160.7" x2="472.1" y2="164.2" stroke="#d05060" stroke-width="0.8"/>
<line x1="472.4" y1="159.1" x2="473.6" y2="162.9" stroke="#4a62c0" stroke-width="0.8"/>
<line x1="473.2" y1="157.5" x2="471.5" y2="161.9" stroke="#3a50b0" stroke-width="0.8"/>
<line x1="474.1" y1="156.0" x2="473.1" y2="160.4" stroke="#5a78cc" stroke-width="0.8"/>
<line x1="475.7" y1="155.4" x2="473.5" y2="159.6" stroke="#d05060" stroke-width="0.8"/>
<line x1="477.4" y1="154.8" x2="476.3" y2="158.5" stroke="#6b86d2" stroke-width="0.8"/>
<line x1="479.1" y1="154.2" x2="480.2" y2="157.9" stroke="#6b86d2" stroke-width="0.8"/>
<line x1="480.8" y1="153.6" x2="479.5" y2="157.8" stroke="#6b86d2" stroke-width="0.8"/>
<line x1="482.5" y1="153.0" x2="481.0" y2="156.1" stroke="#2f44a0" stroke-width="0.8"/>
<line x1="484.2" y1="152.6" x2="484.8" y2="156.2" stroke="#4a62c0" stroke-width="0.8"/>
<line x1="485.9" y1="153.2" x2="487.7" y2="158.1" stroke="#3a50b0" stroke-width="0.8"/>
<line x1="487.6" y1="153.8" x2="489.2" y2="158.2" stroke="#a01424" stroke-width="0.8"/>
<line x1="489.3" y1="154.4" x2="486.9" y2="158.9" stroke="#3a50b0" stroke-width="0.8"/>
<line x1="491.0" y1="155.0" x2="490.4" y2="159.4" stroke="#c43040" stroke-width="0.8"/>
<line x1="492.7" y1="155.6" x2="490.5" y2="160.5" stroke="#a01424" stroke-width="0.8"/>
<line x1="494.2" y1="156.4" x2="492.0" y2="161.5" stroke="#3a50b0" stroke-width="0.8"/>
<line x1="495.2" y1="157.9" x2="493.9" y2="161.4" stroke="#2f44a0" stroke-width="0.8"/>
<line x1="496.2" y1="159.4" x2="494.2" y2="163.1" stroke="#4a62c0" stroke-width="0.8"/>
<line x1="497.1" y1="160.9" x2="495.8" y2="165.5" stroke="#5a78cc" stroke-width="0.8"/>
<line x1="498.1" y1="162.5" x2="497.6" y2="167.3" stroke="#3a50b0" stroke-width="0.8"/>
<line x1="499.0" y1="164.0" x2="500.0" y2="168.4" stroke="#3a50b0" stroke-width="0.8"/>
<line x1="500.0" y1="165.5" x2="499.5" y2="170.5" stroke="#6b86d2" stroke-width="0.8"/>
<rect x="468.3" y="150.7" width="34.6" height="16.3" fill="none" stroke="#111" stroke-width="1"/>
<line x1="509" y1="150.3" x2="524.5" y2="150.3" stroke="#111" stroke-width="1.6"/>
<polygon points="530,150.3 523.5,146.7 523.5,153.9" fill="#111"/>
<text x="460.6" y="189.5" font-size="10" font-style="italic" text-anchor="middle" font-family='"Liberation Serif", serif' fill="#1a1a1a">N</text>
<line x1="458.5" y1="181.5" x2="453.9" y2="173.8" stroke="#111" stroke-width="1.5"/>
<polygon points="451.3,169.5 456.1,172.4 451.6,175.1" fill="#111"/>
<line x1="462.5" y1="181.5" x2="467.5" y2="172.4" stroke="#111" stroke-width="1.5"/>
<polygon points="469.9,168.0 469.8,173.6 465.2,171.1" fill="#111"/>
<line x1="465.5" y1="182.5" x2="494.6" y2="169.8" stroke="#111" stroke-width="1.5" stroke-dasharray="5.5,2.8"/>
<polygon points="499.2,167.8 495.7,172.2 493.6,167.4" fill="#111"/>
<rect x="530.1" y="104.7" width="98.3" height="71.7" fill="#fff" stroke="#333" stroke-width="1.3"/>
<path d="M558.5,105.4 L594.4,105.4 C594.4,109 594,112 593,114 L560,114 C559,112 558.5,109 558.5,105.4 Z" fill="#cfcfc7"/>
<path d="M530.8,128.5 C540,122 550,116 559.7,113.5 C580,112 600,112.5 617.5,114.7 C622,117 625,120 627.5,125 L627.5,158.7 C622,159 618,159.5 614.7,159.7 C612,158.5 611,157.5 609.6,155.9 C607.5,153 606,150.5 604.5,148.2 C602.5,146 601,144 599.3,141.7 C597.5,139.5 596,137.5 594.2,135.3 C591.5,132.5 589,131 586.4,130.8 C583,130.3 579.5,130 576.2,130.1 C572.5,130.8 569.5,131.5 567.2,132.7 C564.5,134.5 562.5,136 560.7,137.9 C558.5,140 557,142 555.6,144.3 C554,146.5 552,148.5 550.4,150.7 C548,153.5 545.5,156 542.7,158.4 C540,160 537.5,161.5 535,162.3 L530.8,162.3 Z" fill="url(#surf)"/>
<path d="M560.7,137.9 C562.5,136 564.5,134.5 567.2,132.7 C569.5,131.5 572.5,130.8 576.2,130.1 C579.5,130 583,130.3 586.4,130.8 C589,131 591.5,132.5 594.2,135.3 C596,137.5 597.5,139.5 599.3,141.7 C596,143 592,144 588,144.5 C580,145.5 570,145 562,144.5 C561,142 560.7,140 560.7,137.9 Z" fill="#8a94b8"/>
<line x1="563.0" y1="134.5" x2="563.4" y2="141.5" stroke="#5a78c8" stroke-width="1.6"/>
<polygon points="563.6,144.5 561.7,141.6 565.1,141.4" fill="#5a78c8"/>
<line x1="566.0" y1="134.5" x2="565.6" y2="142.5" stroke="#7a96d8" stroke-width="1.6"/>
<polygon points="565.4,145.5 563.9,142.4 567.3,142.6" fill="#7a96d8"/>
<line x1="569.0" y1="131.5" x2="569.5" y2="140.5" stroke="#4a62c0" stroke-width="1.6"/>
<polygon points="569.6,143.5 567.8,140.6 571.1,140.4" fill="#4a62c0"/>
<line x1="572.0" y1="131.5" x2="571.6" y2="138.5" stroke="#9ab0e0" stroke-width="1.6"/>
<polygon points="571.4,141.5 569.9,138.4 573.3,138.6" fill="#9ab0e0"/>
<line x1="575.0" y1="131.5" x2="575.4" y2="139.5" stroke="#5a78c8" stroke-width="1.6"/>
<polygon points="575.6,142.5 573.7,139.6 577.1,139.4" fill="#5a78c8"/>
<line x1="579.0" y1="131.5" x2="578.5" y2="140.5" stroke="#3a50b0" stroke-width="1.6"/>
<polygon points="578.4,143.5 576.9,140.4 580.2,140.6" fill="#3a50b0"/>
<line x1="582.0" y1="131.5" x2="582.4" y2="138.5" stroke="#7a96d8" stroke-width="1.6"/>
<polygon points="582.6,141.5 580.7,138.6 584.1,138.4" fill="#7a96d8"/>
<line x1="585.0" y1="131.5" x2="584.6" y2="139.5" stroke="#4a62c0" stroke-width="1.6"/>
<polygon points="584.4,142.5 582.9,139.4 586.3,139.6" fill="#4a62c0"/>
<line x1="588.0" y1="131.5" x2="588.5" y2="140.5" stroke="#6b86d2" stroke-width="1.6"/>
<polygon points="588.6,143.5 586.8,140.6 590.1,140.4" fill="#6b86d2"/>
<line x1="591.0" y1="134.5" x2="590.6" y2="141.5" stroke="#5a78c8" stroke-width="1.6"/>
<polygon points="590.4,144.5 588.9,141.4 592.3,141.6" fill="#5a78c8"/>
<line x1="594.0" y1="134.5" x2="594.4" y2="142.5" stroke="#9ab0e0" stroke-width="1.6"/>
<polygon points="594.6,145.5 592.7,142.6 596.1,142.4" fill="#9ab0e0"/>
<line x1="560.7" y1="139.1" x2="560.3" y2="144.3" stroke="#b01c2c" stroke-width="1.7"/>
<polygon points="560.1,147.9 558.3,144.2 562.3,144.4" fill="#b01c2c"/>
<line x1="564.6" y1="141.7" x2="566.0" y2="151.0" stroke="#a01424" stroke-width="1.7"/>
<polygon points="566.5,154.6 564.0,151.3 568.0,150.7" fill="#a01424"/>
<line x1="568.4" y1="143.0" x2="569.6" y2="148.0" stroke="#c43040" stroke-width="1.7"/>
<polygon points="570.4,151.5 567.6,148.5 571.5,147.5" fill="#c43040"/>
<line x1="554.3" y1="146.9" x2="556.9" y2="151.2" stroke="#d8b0b0" stroke-width="1.7"/>
<polygon points="558.8,154.3 555.2,152.3 558.6,150.2" fill="#d8b0b0"/>
<line x1="550.4" y1="150.7" x2="555.0" y2="164.0" stroke="#a01424" stroke-width="1.7"/>
<polygon points="556.2,167.4 553.1,164.7 556.9,163.3" fill="#a01424"/>
<line x1="549.1" y1="153.3" x2="551.0" y2="162.4" stroke="#b82434" stroke-width="1.7"/>
<polygon points="551.7,165.9 549.0,162.8 552.9,162.0" fill="#b82434"/>
<line x1="551.7" y1="154.6" x2="545.1" y2="161.9" stroke="#a01424" stroke-width="1.7"/>
<polygon points="542.7,164.6 543.6,160.6 546.6,163.3" fill="#a01424"/>
<line x1="546.0" y1="156.5" x2="541.1" y2="163.1" stroke="#b01c2c" stroke-width="1.7"/>
<polygon points="539.0,166.0 539.5,161.9 542.7,164.3" fill="#b01c2c"/>
<line x1="577.4" y1="143.0" x2="577.4" y2="150.7" stroke="#b01c2c" stroke-width="1.7"/>
<polygon points="577.4,154.3 575.4,150.7 579.4,150.7" fill="#b01c2c"/>
<line x1="599.3" y1="143.0" x2="593.8" y2="150.4" stroke="#c87050" stroke-width="1.7"/>
<polygon points="591.6,153.3 592.2,149.2 595.4,151.6" fill="#c87050"/>
<line x1="601.9" y1="146.9" x2="596.2" y2="155.4" stroke="#b01c2c" stroke-width="1.7"/>
<polygon points="594.2,158.4 594.5,154.3 597.9,156.5" fill="#b01c2c"/>
<line x1="604.5" y1="150.7" x2="597.7" y2="159.5" stroke="#a01424" stroke-width="1.7"/>
<polygon points="595.5,162.3 596.1,158.2 599.3,160.7" fill="#a01424"/>
<line x1="607.0" y1="154.6" x2="600.2" y2="163.4" stroke="#b82434" stroke-width="1.7"/>
<polygon points="598.0,166.2 598.6,162.1 601.8,164.6" fill="#b82434"/>
<line x1="609.6" y1="157.2" x2="601.7" y2="166.0" stroke="#a01424" stroke-width="1.7"/>
<polygon points="599.3,168.7 600.2,164.7 603.2,167.4" fill="#a01424"/>
<line x1="596.5" y1="139.5" x2="592.2" y2="145.1" stroke="#d09080" stroke-width="1.7"/>
<polygon points="590.0,148.0 590.6,143.9 593.8,146.4" fill="#d09080"/>
<line x1="626.0" y1="159.0" x2="606.6" y2="161.2" stroke="#3a50b0" stroke-width="1.3"/>
<polygon points="604.0,161.5 606.4,159.8 606.7,162.6" fill="#3a50b0"/>
<line x1="534.0" y1="161.0" x2="535.7" y2="166.0" stroke="#4a62c0" stroke-width="1.3"/>
<polygon points="536.5,168.5 534.3,166.5 537.0,165.6" fill="#4a62c0"/>
<rect x="28.4" y="216.2" width="187.0" height="139.90000000000003" fill="none" stroke="#2a2a2a" stroke-width="1.1"/>
<line x1="49.18" y1="356.1" x2="49.18" y2="359.6" stroke="#2a2a2a" stroke-width="1"/>
<text x="49.18" y="369.1" font-size="8.6" text-anchor="middle" font-family='"Liberation Sans", sans-serif' fill="#1a1a1a">5</text>
<line x1="101.12" y1="356.1" x2="101.12" y2="359.6" stroke="#2a2a2a" stroke-width="1"/>
<text x="101.12" y="369.1" font-size="8.6" text-anchor="middle" font-family='"Liberation Sans", sans-serif' fill="#1a1a1a">10</text>
<line x1="153.07" y1="356.1" x2="153.07" y2="359.6" stroke="#2a2a2a" stroke-width="1"/>
<text x="153.07" y="369.1" font-size="8.6" text-anchor="middle" font-family='"Liberation Sans", sans-serif' fill="#1a1a1a">15</text>
<line x1="205.01" y1="356.1" x2="205.01" y2="359.6" stroke="#2a2a2a" stroke-width="1"/>
<text x="205.01" y="369.1" font-size="8.6" text-anchor="middle" font-family='"Liberation Sans", sans-serif' fill="#1a1a1a">20</text>
<line x1="75.15" y1="356.1" x2="75.15" y2="358.1" stroke="#2a2a2a" stroke-width="1"/>
<line x1="127.09" y1="356.1" x2="127.09" y2="358.1" stroke="#2a2a2a" stroke-width="1"/>
<line x1="179.04" y1="356.1" x2="179.04" y2="358.1" stroke="#2a2a2a" stroke-width="1"/>
<line x1="24.9" y1="356.10" x2="28.4" y2="356.10" stroke="#2a2a2a" stroke-width="1"/>
<text x="22.799999999999997" y="359.20" font-size="8.6" text-anchor="end" font-family='"Liberation Sans", sans-serif' fill="#1a1a1a">0</text>
<line x1="24.9" y1="321.12" x2="28.4" y2="321.12" stroke="#2a2a2a" stroke-width="1"/>
<text x="22.799999999999997" y="324.23" font-size="8.6" text-anchor="end" font-family='"Liberation Sans", sans-serif' fill="#1a1a1a">2</text>
<line x1="24.9" y1="286.15" x2="28.4" y2="286.15" stroke="#2a2a2a" stroke-width="1"/>
<text x="22.799999999999997" y="289.25" font-size="8.6" text-anchor="end" font-family='"Liberation Sans", sans-serif' fill="#1a1a1a">4</text>
<line x1="24.9" y1="251.18" x2="28.4" y2="251.18" stroke="#2a2a2a" stroke-width="1"/>
<text x="22.799999999999997" y="254.28" font-size="8.6" text-anchor="end" font-family='"Liberation Sans", sans-serif' fill="#1a1a1a">6</text>
<line x1="24.9" y1="216.20" x2="28.4" y2="216.20" stroke="#2a2a2a" stroke-width="1"/>
<text x="22.799999999999997" y="219.30" font-size="8.6" text-anchor="end" font-family='"Liberation Sans", sans-serif' fill="#1a1a1a">8</text>
<line x1="26.4" y1="338.61" x2="28.4" y2="338.61" stroke="#2a2a2a" stroke-width="1"/>
<line x1="26.4" y1="303.64" x2="28.4" y2="303.64" stroke="#2a2a2a" stroke-width="1"/>
<line x1="26.4" y1="268.66" x2="28.4" y2="268.66" stroke="#2a2a2a" stroke-width="1"/>
<line x1="26.4" y1="233.69" x2="28.4" y2="233.69" stroke="#2a2a2a" stroke-width="1"/>
<text x="4.5" y="210.2" font-size="12" font-family='"Liberation Sans", sans-serif' fill="#1a1a1a">(b)</text>
<text transform="translate(9.6,286.4) rotate(-90)" font-size="10" text-anchor="middle" font-family='"Liberation Sans", sans-serif' fill="#1a1a1a">H<tspan dy="-3.5" font-size="6">*</tspan></text>
<text x="120" y="385" font-size="10" text-anchor="middle" font-family='"Liberation Sans", sans-serif' fill="#1a1a1a">T<tspan dy="-3.5" font-size="6">*</tspan></text>
<polyline points="28.40,339.29 29.97,339.15 31.54,339.02 33.11,338.89 34.69,338.76 36.26,338.63 37.83,338.51 39.40,338.38 40.97,338.27 42.54,338.15 44.11,338.03 45.69,337.92 47.26,337.80 48.83,337.69 50.40,337.58 51.97,337.46 53.54,337.35 55.11,337.24 56.69,337.13 58.26,337.01 59.83,336.90 61.40,336.79 62.97,336.67 64.54,336.55 66.11,336.43 67.69,336.31 69.26,336.19 70.83,336.06 72.40,335.94 73.97,335.80 75.54,335.67 77.11,335.53 78.69,335.39 80.26,335.25 81.83,335.10 83.40,334.94 84.97,334.79 86.54,334.62 88.11,334.46 89.69,334.28 91.26,334.11 92.83,333.92 94.40,333.73 95.97,333.54 97.54,333.34 99.11,333.13 100.69,332.91 102.26,332.69 103.83,332.46 105.40,332.22 106.97,331.98 108.54,331.73 110.11,331.47 111.69,331.20 113.26,330.92 114.83,330.63 116.40,330.34 117.97,330.03 119.54,329.72 121.11,329.39 122.69,329.06 124.26,328.71 125.83,328.36 127.40,327.99 128.97,327.61 130.54,327.23 132.11,326.83 133.69,326.42 135.26,325.99 136.83,325.56 138.40,325.11 139.97,324.65 141.54,324.18 143.11,323.69 144.69,323.19 146.26,322.68 147.83,322.15 149.40,321.61 150.97,321.06 152.54,320.49 154.11,319.91 155.69,319.31 157.26,318.70 158.83,318.07 160.40,317.42 161.97,316.76 163.54,316.09 165.11,315.40 166.69,314.69 168.26,313.96 169.83,313.22 171.40,312.46 172.97,311.68 174.54,310.89 176.11,310.08 177.69,309.24 179.26,308.40 180.83,307.53 182.40,306.64 183.97,305.74 185.54,304.81 187.11,303.87 188.69,302.90 190.26,301.92 191.83,300.92 193.40,299.89 194.97,298.85 196.54,297.78 198.11,296.69 199.69,295.59 201.26,294.46 202.83,293.30 204.40,292.13 205.97,290.93 207.54,289.72 209.11,288.48 210.69,287.21 212.26,285.92 213.83,284.61 215.40,283.28" fill="none" stroke="#f6c6b6" stroke-width="1.0" stroke-linejoin="round"/>
<polyline points="28.40,339.10 29.97,338.94 31.54,338.79 33.11,338.64 34.69,338.49 36.26,338.35 37.83,338.20 39.40,338.07 40.97,337.93 42.54,337.80 44.11,337.66 45.69,337.53 47.26,337.40 48.83,337.27 50.40,337.15 51.97,337.02 53.54,336.89 55.11,336.76 56.69,336.63 58.26,336.50 59.83,336.36 61.40,336.23 62.97,336.09 64.54,335.95 66.11,335.81 67.69,335.66 69.26,335.52 70.83,335.36 72.40,335.21 73.97,335.04 75.54,334.88 77.11,334.71 78.69,334.53 80.26,334.35 81.83,334.16 83.40,333.96 84.97,333.76 86.54,333.55 88.11,333.34 89.69,333.11 91.26,332.88 92.83,332.64 94.40,332.39 95.97,332.13 97.54,331.87 99.11,331.59 100.69,331.30 102.26,331.01 103.83,330.70 105.40,330.38 106.97,330.05 108.54,329.71 110.11,329.36 111.69,328.99 113.26,328.61 114.83,328.22 116.40,327.82 117.97,327.40 119.54,326.97 121.11,326.52 122.69,326.06 124.26,325.59 125.83,325.10 127.40,324.59 128.97,324.07 130.54,323.54 132.11,322.98 133.69,322.41 135.26,321.83 136.83,321.22 138.40,320.60 139.97,319.96 141.54,319.30 143.11,318.62 144.69,317.92 146.26,317.21 147.83,316.47 149.40,315.72 150.97,314.94 152.54,314.14 154.11,313.33 155.69,312.49 157.26,311.63 158.83,310.75 160.40,309.84 161.97,308.91 163.54,307.96 165.11,306.99 166.69,305.99 168.26,304.97 169.83,303.93 171.40,302.86 172.97,301.77 174.54,300.65 176.11,299.50 177.69,298.33 179.26,297.13 180.83,295.91 182.40,294.66 183.97,293.38 185.54,292.08 187.11,290.75 188.69,289.39 190.26,288.00 191.83,286.58 193.40,285.14 194.97,283.66 196.54,282.15 198.11,280.62 199.69,279.05 201.26,277.46 202.83,275.83 204.40,274.17 205.97,272.48 207.54,270.76 209.11,269.00 210.69,267.22 212.26,265.40 213.83,263.54 215.40,261.66" fill="none" stroke="#f2a8b2" stroke-width="1.0" stroke-linejoin="round"/>
<polyline points="28.40,338.50 29.97,338.53 31.54,338.56 33.11,338.57 34.69,338.58 36.26,338.57 37.83,338.56 39.40,338.54 40.97,338.50 42.54,338.46 44.11,338.41 45.69,338.34 47.26,338.27 48.83,338.19 50.40,338.09 51.97,337.99 53.54,337.87 55.11,337.74 56.69,337.60 58.26,337.45 59.83,337.29 61.40,337.12 62.97,336.94 64.54,336.74 66.11,336.54 67.69,336.32 69.26,336.09 70.83,335.84 72.40,335.59 73.97,335.32 75.54,335.04 77.11,334.74 78.69,334.44 80.26,334.12 81.83,333.79 83.40,333.44 84.97,333.08 86.54,332.71 88.11,332.32 89.69,331.93 91.26,331.51 92.83,331.09 94.40,330.64 95.97,330.19 97.54,329.72 99.11,329.24 100.69,328.74 102.26,328.22 103.83,327.70 105.40,327.15 106.97,326.60 108.54,326.02 110.11,325.44 111.69,324.83 113.26,324.21 114.83,323.58 116.40,322.93 117.97,322.26 119.54,321.58 121.11,320.88 122.69,320.17 124.26,319.44 125.83,318.69 127.40,317.92 128.97,317.14 130.54,316.35 132.11,315.53 133.69,314.70 135.26,313.85 136.83,312.98 138.40,312.10 139.97,311.20 141.54,310.28 143.11,309.34 144.69,308.39 146.26,307.41 147.83,306.42 149.40,305.41 150.97,304.38 152.54,303.33 154.11,302.27 155.69,301.18 157.26,300.08 158.83,298.96 160.40,297.82 161.97,296.66 163.54,295.47 165.11,294.27 166.69,293.05 168.26,291.81 169.83,290.55 171.40,289.27 172.97,287.97 174.54,286.65 176.11,285.31 177.69,283.95 179.26,282.57 180.83,281.17 182.40,279.74 183.97,278.30 185.54,276.83 187.11,275.34 188.69,273.84 190.26,272.30 191.83,270.75 193.40,269.18 194.97,267.58 196.54,265.96 198.11,264.32 199.69,262.66 201.26,260.98 202.83,259.27 204.40,257.54 205.97,255.79 207.54,254.01 209.11,252.21 210.69,250.39 212.26,248.54 213.83,246.68 215.40,244.78" fill="none" stroke="#e96a7c" stroke-width="1.2" stroke-linejoin="round"/>
<polyline points="28.40,338.11 29.97,338.08 31.54,338.03 33.11,337.97 34.69,337.90 36.26,337.82 37.83,337.72 39.40,337.61 40.97,337.48 42.54,337.35 44.11,337.20 45.69,337.03 47.26,336.86 48.83,336.67 50.40,336.46 51.97,336.25 53.54,336.01 55.11,335.77 56.69,335.51 58.26,335.24 59.83,334.95 61.40,334.65 62.97,334.34 64.54,334.01 66.11,333.67 67.69,333.31 69.26,332.94 70.83,332.55 72.40,332.15 73.97,331.73 75.54,331.30 77.11,330.86 78.69,330.39 80.26,329.92 81.83,329.43 83.40,328.92 84.97,328.40 86.54,327.86 88.11,327.31 89.69,326.74 91.26,326.16 92.83,325.56 94.40,324.94 95.97,324.31 97.54,323.67 99.11,323.00 100.69,322.32 102.26,321.63 103.83,320.92 105.40,320.19 106.97,319.44 108.54,318.68 110.11,317.90 111.69,317.11 113.26,316.30 114.83,315.47 116.40,314.62 117.97,313.76 119.54,312.88 121.11,311.98 122.69,311.07 124.26,310.14 125.83,309.19 127.40,308.22 128.97,307.24 130.54,306.24 132.11,305.22 133.69,304.18 135.26,303.13 136.83,302.05 138.40,300.96 139.97,299.85 141.54,298.72 143.11,297.57 144.69,296.41 146.26,295.23 147.83,294.02 149.40,292.81 150.97,291.57 152.54,290.32 154.11,289.05 155.69,287.77 157.26,286.47 158.83,285.16 160.40,283.84 161.97,282.50 163.54,281.16 165.11,279.80 166.69,278.44 168.26,277.06 169.83,275.68 171.40,274.28 172.97,272.88 174.54,271.48 176.11,270.07 177.69,268.65 179.26,267.23 180.83,265.80 182.40,264.37 183.97,262.94 185.54,261.51 187.11,260.07 188.69,258.64 190.26,257.21 191.83,255.77 193.40,254.34 194.97,252.91 196.54,251.48 198.11,250.06 199.69,248.64 201.26,247.23 202.83,245.82 204.40,244.42 205.97,243.02 207.54,241.64 209.11,240.26 210.69,238.89 212.26,237.53 213.83,236.18 215.40,234.84" fill="none" stroke="#e8303f" stroke-width="1.2" stroke-linejoin="round"/>
<polyline points="28.40,339.84 49.18,338.61 75.15,336.86 101.12,334.42 127.09,331.27 153.07,326.02 171.77,319.73 196.18,305.74 215.40,292.10" fill="none" stroke="#1a1a1a" stroke-width="1.1" stroke-linejoin="round"/>
<line x1="31" y1="223.6" x2="48.5" y2="223.6" stroke="#1a1a1a" stroke-width="1.1"/>
<text x="50.5" y="226.2" font-size="7.7" font-family='"Liberation Sans", sans-serif' fill="#1a1a1a">Ca<tspan dy="2" font-size="5.5">e</tspan><tspan dy="-2"> = 0</tspan></text>
<line x1="31" y1="234.4" x2="48.5" y2="234.4" stroke="#f6c6b6" stroke-width="0.9"/>
<text x="50.5" y="237.0" font-size="7.7" font-family='"Liberation Sans", sans-serif' fill="#1a1a1a">Ca<tspan dy="2" font-size="5.5">e</tspan><tspan dy="-2"> = 0.4</tspan><tspan>, T</tspan><tspan dy="2" font-size="5.5">σ</tspan><tspan dy="-2"> = 16.0</tspan></text>
<line x1="31" y1="245.5" x2="48.5" y2="245.5" stroke="#f2b8c0" stroke-width="1.1"/>
<text x="50.5" y="248.1" font-size="7.7" font-family='"Liberation Sans", sans-serif' fill="#1a1a1a">Ca<tspan dy="2" font-size="5.5">e</tspan><tspan dy="-2"> = 1.6</tspan><tspan>, T</tspan><tspan dy="2" font-size="5.5">σ</tspan><tspan dy="-2"> = 16.0</tspan></text>
<line x1="31" y1="256.9" x2="48.5" y2="256.9" stroke="#eea2ae" stroke-width="1.6"/>
<text x="50.5" y="259.5" font-size="7.7" font-family='"Liberation Sans", sans-serif' fill="#1a1a1a">Ca<tspan dy="2" font-size="5.5">e</tspan><tspan dy="-2"> = 3.6</tspan><tspan>, T</tspan><tspan dy="2" font-size="5.5">σ</tspan><tspan dy="-2"> = 16.0</tspan></text>
<line x1="31" y1="267.7" x2="48.5" y2="267.7" stroke="#ee3a4c" stroke-width="1.4"/>
<text x="50.5" y="270.3" font-size="7.7" font-family='"Liberation Sans", sans-serif' fill="#1a1a1a">Ca<tspan dy="2" font-size="5.5">e</tspan><tspan dy="-2"> = 6.4</tspan><tspan>, T</tspan><tspan dy="2" font-size="5.5">σ</tspan><tspan dy="-2"> = 16.0</tspan></text>
<polygon points="121.40,308.60 122.44,311.37 125.39,311.50 123.08,313.35 123.87,316.20 121.40,314.56 118.93,316.20 119.72,313.35 117.41,311.50 120.36,311.37" fill="#ff1a1a"/>
<polygon points="146.50,303.10 147.54,305.87 150.49,306.00 148.18,307.85 148.97,310.70 146.50,309.06 144.03,310.70 144.82,307.85 142.51,306.00 145.46,305.87" fill="#ff1a1a"/>
<polygon points="171.40,298.80 172.44,301.57 175.39,301.70 173.08,303.55 173.87,306.40 171.40,304.76 168.93,306.40 169.72,303.55 167.41,301.70 170.36,301.57" fill="#ff1a1a"/>
<polygon points="196.30,294.20 197.34,296.97 200.29,297.10 197.98,298.95 198.77,301.80 196.30,300.16 193.83,301.80 194.62,298.95 192.31,297.10 195.26,296.97" fill="#ff1a1a"/>
<polygon points="196.30,301.60 197.34,304.37 200.29,304.50 197.98,306.35 198.77,309.20 196.30,307.56 193.83,309.20 194.62,306.35 192.31,304.50 195.26,304.37" fill="#ff1a1a"/>
<line x1="193.5" y1="287.6" x2="120" y2="304.3" stroke="#111" stroke-width="1.1"/>
<polygon points="113.5,305.8 121.5,300.8 122.8,306.6" fill="#111"/>
<text x="101.4" y="298" font-size="10" font-style="italic" font-family='"Liberation Serif", serif' fill="#1a1a1a">Ca<tspan dy="1.8" font-size="7.5">e</tspan></text>
<line x1="122.3" y1="298.2" x2="122.3" y2="293" stroke="#1a1a1a" stroke-width="1.1"/><polygon points="122.3,290.6 120.2,294.2 124.4,294.2" fill="#1a1a1a"/>
<rect x="255.3" y="217.5" width="186.39999999999998" height="139.3" fill="none" stroke="#2a2a2a" stroke-width="1.1"/>
<line x1="276.01" y1="356.8" x2="276.01" y2="360.3" stroke="#2a2a2a" stroke-width="1"/>
<text x="276.01" y="369.8" font-size="8.6" text-anchor="middle" font-family='"Liberation Sans", sans-serif' fill="#1a1a1a">5</text>
<line x1="327.79" y1="356.8" x2="327.79" y2="360.3" stroke="#2a2a2a" stroke-width="1"/>
<text x="327.79" y="369.8" font-size="8.6" text-anchor="middle" font-family='"Liberation Sans", sans-serif' fill="#1a1a1a">10</text>
<line x1="379.57" y1="356.8" x2="379.57" y2="360.3" stroke="#2a2a2a" stroke-width="1"/>
<text x="379.57" y="369.8" font-size="8.6" text-anchor="middle" font-family='"Liberation Sans", sans-serif' fill="#1a1a1a">15</text>
<line x1="431.34" y1="356.8" x2="431.34" y2="360.3" stroke="#2a2a2a" stroke-width="1"/>
<text x="431.34" y="369.8" font-size="8.6" text-anchor="middle" font-family='"Liberation Sans", sans-serif' fill="#1a1a1a">20</text>
<line x1="301.90" y1="356.8" x2="301.90" y2="358.8" stroke="#2a2a2a" stroke-width="1"/>
<line x1="353.68" y1="356.8" x2="353.68" y2="358.8" stroke="#2a2a2a" stroke-width="1"/>
<line x1="405.46" y1="356.8" x2="405.46" y2="358.8" stroke="#2a2a2a" stroke-width="1"/>
<line x1="251.8" y1="356.80" x2="255.3" y2="356.80" stroke="#2a2a2a" stroke-width="1"/>
<text x="249.70000000000002" y="359.90" font-size="8.6" text-anchor="end" font-family='"Liberation Sans", sans-serif' fill="#1a1a1a">0</text>
<line x1="251.8" y1="321.98" x2="255.3" y2="321.98" stroke="#2a2a2a" stroke-width="1"/>
<text x="249.70000000000002" y="325.08" font-size="8.6" text-anchor="end" font-family='"Liberation Sans", sans-serif' fill="#1a1a1a">2</text>
<line x1="251.8" y1="287.15" x2="255.3" y2="287.15" stroke="#2a2a2a" stroke-width="1"/>
<text x="249.70000000000002" y="290.25" font-size="8.6" text-anchor="end" font-family='"Liberation Sans", sans-serif' fill="#1a1a1a">4</text>
<line x1="251.8" y1="252.32" x2="255.3" y2="252.32" stroke="#2a2a2a" stroke-width="1"/>
<text x="249.70000000000002" y="255.42" font-size="8.6" text-anchor="end" font-family='"Liberation Sans", sans-serif' fill="#1a1a1a">6</text>
<line x1="251.8" y1="217.50" x2="255.3" y2="217.50" stroke="#2a2a2a" stroke-width="1"/>
<text x="249.70000000000002" y="220.60" font-size="8.6" text-anchor="end" font-family='"Liberation Sans", sans-serif' fill="#1a1a1a">8</text>
<line x1="253.3" y1="339.39" x2="255.3" y2="339.39" stroke="#2a2a2a" stroke-width="1"/>
<line x1="253.3" y1="304.56" x2="255.3" y2="304.56" stroke="#2a2a2a" stroke-width="1"/>
<line x1="253.3" y1="269.74" x2="255.3" y2="269.74" stroke="#2a2a2a" stroke-width="1"/>
<line x1="253.3" y1="234.91" x2="255.3" y2="234.91" stroke="#2a2a2a" stroke-width="1"/>
<text x="227.8" y="210.6" font-size="12" font-family='"Liberation Sans", sans-serif' fill="#1a1a1a">(c)</text>
<text transform="translate(236.5,287.3) rotate(-90)" font-size="10" text-anchor="middle" font-family='"Liberation Sans", sans-serif' fill="#1a1a1a">H<tspan dy="-3.5" font-size="6">*</tspan></text>
<text x="347" y="385.5" font-size="10" text-anchor="middle" font-family='"Liberation Sans", sans-serif' fill="#1a1a1a">T<tspan dy="-3.5" font-size="6">*</tspan></text>
<polyline points="255.30,341.23 256.87,341.01 258.43,340.80 260.00,340.60 261.57,340.39 263.13,340.20 264.70,340.01 266.26,339.82 267.83,339.64 269.40,339.46 270.96,339.29 272.53,339.11 274.10,338.95 275.66,338.78 277.23,338.62 278.80,338.45 280.36,338.29 281.93,338.13 283.49,337.98 285.06,337.82 286.63,337.66 288.19,337.50 289.76,337.34 291.33,337.18 292.89,337.02 294.46,336.86 296.03,336.70 297.59,336.53 299.16,336.36 300.73,336.19 302.29,336.01 303.86,335.84 305.42,335.65 306.99,335.47 308.56,335.28 310.12,335.08 311.69,334.88 313.26,334.67 314.82,334.46 316.39,334.24 317.96,334.01 319.52,333.78 321.09,333.54 322.65,333.29 324.22,333.04 325.79,332.78 327.35,332.50 328.92,332.22 330.49,331.93 332.05,331.63 333.62,331.32 335.19,331.00 336.75,330.67 338.32,330.33 339.88,329.98 341.45,329.61 343.02,329.23 344.58,328.84 346.15,328.44 347.72,328.03 349.28,327.60 350.85,327.16 352.42,326.70 353.98,326.23 355.55,325.75 357.12,325.25 358.68,324.73 360.25,324.20 361.81,323.65 363.38,323.09 364.95,322.51 366.51,321.91 368.08,321.30 369.65,320.67 371.21,320.02 372.78,319.35 374.35,318.66 375.91,317.95 377.48,317.23 379.04,316.48 380.61,315.72 382.18,314.93 383.74,314.12 385.31,313.30 386.88,312.45 388.44,311.57 390.01,310.68 391.58,309.77 393.14,308.83 394.71,307.87 396.27,306.88 397.84,305.87 399.41,304.84 400.97,303.78 402.54,302.70 404.11,301.59 405.67,300.46 407.24,299.30 408.81,298.11 410.37,296.90 411.94,295.66 413.51,294.40 415.07,293.11 416.64,291.78 418.20,290.44 419.77,289.06 421.34,287.65 422.90,286.22 424.47,284.75 426.04,283.26 427.60,281.73 429.17,280.18 430.74,278.59 432.30,276.97 433.87,275.32 435.43,273.64 437.00,271.93 438.57,270.18 440.13,268.40 441.70,266.59" fill="none" stroke="#dde9f5" stroke-width="1.0" stroke-linejoin="round"/>
<polyline points="255.30,341.12 256.87,340.91 258.43,340.71 260.00,340.52 261.57,340.33 263.13,340.14 264.70,339.96 266.26,339.78 267.83,339.61 269.40,339.44 270.96,339.27 272.53,339.10 274.10,338.93 275.66,338.77 277.23,338.61 278.80,338.45 280.36,338.28 281.93,338.12 283.49,337.96 285.06,337.80 286.63,337.64 288.19,337.48 289.76,337.31 291.33,337.15 292.89,336.98 294.46,336.81 296.03,336.64 297.59,336.46 299.16,336.28 300.73,336.10 302.29,335.91 303.86,335.72 305.42,335.52 306.99,335.32 308.56,335.12 310.12,334.91 311.69,334.69 313.26,334.47 314.82,334.24 316.39,334.00 317.96,333.76 319.52,333.50 321.09,333.25 322.65,332.98 324.22,332.70 325.79,332.42 327.35,332.12 328.92,331.82 330.49,331.51 332.05,331.18 333.62,330.85 335.19,330.51 336.75,330.15 338.32,329.78 339.88,329.40 341.45,329.01 343.02,328.61 344.58,328.20 346.15,327.77 347.72,327.32 349.28,326.87 350.85,326.40 352.42,325.91 353.98,325.42 355.55,324.90 357.12,324.37 358.68,323.83 360.25,323.27 361.81,322.69 363.38,322.10 364.95,321.49 366.51,320.86 368.08,320.21 369.65,319.55 371.21,318.87 372.78,318.17 374.35,317.45 375.91,316.71 377.48,315.95 379.04,315.18 380.61,314.38 382.18,313.56 383.74,312.72 385.31,311.86 386.88,310.98 388.44,310.08 390.01,309.15 391.58,308.20 393.14,307.23 394.71,306.24 396.27,305.22 397.84,304.18 399.41,303.11 400.97,302.03 402.54,300.91 404.11,299.77 405.67,298.61 407.24,297.42 408.81,296.20 410.37,294.96 411.94,293.69 413.51,292.39 415.07,291.07 416.64,289.72 418.20,288.34 419.77,286.93 421.34,285.49 422.90,284.03 424.47,282.54 426.04,281.01 427.60,279.46 429.17,277.87 430.74,276.26 432.30,274.61 433.87,272.94 435.43,271.23 437.00,269.49 438.57,267.72 440.13,265.91 441.70,264.07" fill="none" stroke="#a8cfe6" stroke-width="1.2" stroke-linejoin="round"/>
<polyline points="255.30,340.56 256.87,340.47 258.43,340.38 260.00,340.29 261.57,340.19 263.13,340.10 264.70,340.00 266.26,339.90 267.83,339.79 269.40,339.68 270.96,339.57 272.53,339.45 274.10,339.33 275.66,339.21 277.23,339.08 278.80,338.94 280.36,338.80 281.93,338.66 283.49,338.51 285.06,338.35 286.63,338.19 288.19,338.02 289.76,337.85 291.33,337.67 292.89,337.48 294.46,337.29 296.03,337.09 297.59,336.88 299.16,336.66 300.73,336.44 302.29,336.20 303.86,335.96 305.42,335.71 306.99,335.45 308.56,335.19 310.12,334.91 311.69,334.63 313.26,334.33 314.82,334.03 316.39,333.71 317.96,333.38 319.52,333.05 321.09,332.70 322.65,332.34 324.22,331.98 325.79,331.60 327.35,331.20 328.92,330.80 330.49,330.39 332.05,329.96 333.62,329.52 335.19,329.07 336.75,328.60 338.32,328.12 339.88,327.63 341.45,327.12 343.02,326.60 344.58,326.07 346.15,325.52 347.72,324.96 349.28,324.38 350.85,323.79 352.42,323.19 353.98,322.56 355.55,321.93 357.12,321.27 358.68,320.60 360.25,319.92 361.81,319.22 363.38,318.50 364.95,317.76 366.51,317.01 368.08,316.24 369.65,315.45 371.21,314.65 372.78,313.83 374.35,312.98 375.91,312.13 377.48,311.25 379.04,310.35 380.61,309.44 382.18,308.50 383.74,307.55 385.31,306.57 386.88,305.58 388.44,304.57 390.01,303.53 391.58,302.48 393.14,301.41 394.71,300.31 396.27,299.20 397.84,298.06 399.41,296.90 400.97,295.72 402.54,294.52 404.11,293.30 405.67,292.05 407.24,290.78 408.81,289.49 410.37,288.18 411.94,286.84 413.51,285.48 415.07,284.10 416.64,282.69 418.20,281.26 419.77,279.81 421.34,278.33 422.90,276.82 424.47,275.30 426.04,273.74 427.60,272.17 429.17,270.56 430.74,268.94 432.30,267.28 433.87,265.60 435.43,263.90 437.00,262.16 438.57,260.41 440.13,258.62 441.70,256.81" fill="none" stroke="#5b9bd0" stroke-width="1.2" stroke-linejoin="round"/>
<polyline points="255.30,340.54 256.87,340.45 258.43,340.36 260.00,340.26 261.57,340.16 263.13,340.05 264.70,339.94 266.26,339.82 267.83,339.70 269.40,339.58 270.96,339.45 272.53,339.31 274.10,339.17 275.66,339.02 277.23,338.86 278.80,338.70 280.36,338.53 281.93,338.36 283.49,338.17 285.06,337.98 286.63,337.78 288.19,337.57 289.76,337.36 291.33,337.14 292.89,336.90 294.46,336.66 296.03,336.41 297.59,336.15 299.16,335.88 300.73,335.60 302.29,335.31 303.86,335.00 305.42,334.69 306.99,334.37 308.56,334.03 310.12,333.69 311.69,333.33 313.26,332.96 314.82,332.58 316.39,332.18 317.96,331.77 319.52,331.35 321.09,330.92 322.65,330.47 324.22,330.01 325.79,329.53 327.35,329.04 328.92,328.54 330.49,328.02 332.05,327.49 333.62,326.94 335.19,326.37 336.75,325.79 338.32,325.20 339.88,324.58 341.45,323.96 343.02,323.31 344.58,322.65 346.15,321.97 347.72,321.27 349.28,320.55 350.85,319.82 352.42,319.07 353.98,318.30 355.55,317.51 357.12,316.71 358.68,315.88 360.25,315.03 361.81,314.17 363.38,313.28 364.95,312.38 366.51,311.45 368.08,310.51 369.65,309.54 371.21,308.55 372.78,307.54 374.35,306.51 375.91,305.46 377.48,304.39 379.04,303.29 380.61,302.18 382.18,301.05 383.74,299.89 385.31,298.72 386.88,297.53 388.44,296.31 390.01,295.08 391.58,293.83 393.14,292.56 394.71,291.27 396.27,289.96 397.84,288.63 399.41,287.28 400.97,285.92 402.54,284.53 404.11,283.13 405.67,281.71 407.24,280.28 408.81,278.82 410.37,277.35 411.94,275.86 413.51,274.35 415.07,272.83 416.64,271.29 418.20,269.73 419.77,268.15 421.34,266.56 422.90,264.96 424.47,263.33 426.04,261.69 427.60,260.04 429.17,258.37 430.74,256.68 432.30,254.98 433.87,253.26 435.43,251.53 437.00,249.79 438.57,248.03 440.13,246.25 441.70,244.46" fill="none" stroke="#34529e" stroke-width="1.2" stroke-linejoin="round"/>
<polyline points="255.30,340.61 276.01,339.39 301.90,337.65 327.79,335.21 353.68,332.07 379.57,326.85 398.21,320.58 422.54,306.65 441.70,293.07" fill="none" stroke="#1a1a1a" stroke-width="1.1" stroke-linejoin="round"/>
<line x1="261.2" y1="223.6" x2="278.7" y2="223.6" stroke="#1a1a1a" stroke-width="1.1"/>
<text x="280.7" y="226.2" font-size="7.7" font-family='"Liberation Sans", sans-serif' fill="#1a1a1a">Ca<tspan dy="2" font-size="5.5">e</tspan><tspan dy="-2"> = 0</tspan></text>
<line x1="261.2" y1="234.3" x2="278.7" y2="234.3" stroke="#e3eef8" stroke-width="1.0"/>
<text x="280.7" y="236.9" font-size="7.7" font-family='"Liberation Sans", sans-serif' fill="#1a1a1a">Ca<tspan dy="2" font-size="5.5">e</tspan><tspan dy="-2"> = 3.6</tspan><tspan>, T</tspan><tspan dy="2" font-size="5.5">σ</tspan><tspan dy="-2"> = 1598.8</tspan></text>
<line x1="261.2" y1="246.0" x2="278.7" y2="246.0" stroke="#bcdcee" stroke-width="1.6"/>
<text x="280.7" y="248.6" font-size="7.7" font-family='"Liberation Sans", sans-serif' fill="#1a1a1a">Ca<tspan dy="2" font-size="5.5">e</tspan><tspan dy="-2"> = 3.6</tspan><tspan>, T</tspan><tspan dy="2" font-size="5.5">σ</tspan><tspan dy="-2"> = 159.8</tspan></text>
<line x1="261.2" y1="257.2" x2="278.7" y2="257.2" stroke="#7ab0da" stroke-width="1.4"/>
<text x="280.7" y="259.8" font-size="7.7" font-family='"Liberation Sans", sans-serif' fill="#1a1a1a">Ca<tspan dy="2" font-size="5.5">e</tspan><tspan dy="-2"> = 3.6</tspan><tspan>, T</tspan><tspan dy="2" font-size="5.5">σ</tspan><tspan dy="-2"> = 32.0</tspan></text>
<line x1="261.2" y1="268.0" x2="278.7" y2="268.0" stroke="#3a58a2" stroke-width="1.2"/>
<text x="280.7" y="270.6" font-size="7.7" font-family='"Liberation Sans", sans-serif' fill="#1a1a1a">Ca<tspan dy="2" font-size="5.5">e</tspan><tspan dy="-2"> = 3.6</tspan><tspan>, T</tspan><tspan dy="2" font-size="5.5">σ</tspan><tspan dy="-2"> = 16.0</tspan></text>
<polygon points="397.70,282.90 398.74,285.67 401.69,285.80 399.38,287.65 400.17,290.50 397.70,288.86 395.23,290.50 396.02,287.65 393.71,285.80 396.66,285.67" fill="#ff1a1a"/>
<polygon points="397.70,293.70 398.74,296.47 401.69,296.60 399.38,298.45 400.17,301.30 397.70,299.66 395.23,301.30 396.02,298.45 393.71,296.60 396.66,296.47" fill="#ff1a1a"/>
<polygon points="397.70,301.20 398.74,303.97 401.69,304.10 399.38,305.95 400.17,308.80 397.70,307.16 395.23,308.80 396.02,305.95 393.71,304.10 396.66,303.97" fill="#ff1a1a"/>
<polygon points="397.70,303.00 398.74,305.77 401.69,305.90 399.38,307.75 400.17,310.60 397.70,308.96 395.23,310.60 396.02,307.75 393.71,305.90 396.66,305.77" fill="#ff1a1a"/>
<polygon points="422.20,302.20 423.24,304.97 426.19,305.10 423.88,306.95 424.67,309.80 422.20,308.16 419.73,309.80 420.52,306.95 418.21,305.10 421.16,304.97" fill="#ff1a1a"/>
<line x1="407.5" y1="314.6" x2="407.5" y2="283" stroke="#111" stroke-width="1.2"/>
<polygon points="407.5,278.6 404.2,285 410.8,285" fill="#111"/>
<text x="393.9" y="273.6" font-size="10" font-family='"Liberation Serif", serif' fill="#1a1a1a">σ<tspan dy="1.8" font-size="7" font-style="italic">l</tspan></text>
<line x1="405.6" y1="273.6" x2="405.6" y2="268.6" stroke="#1a1a1a" stroke-width="1.1"/><polygon points="405.6,266.2 403.6,269.6 407.6,269.6" fill="#1a1a1a"/>
<rect x="491" y="218.5" width="186.5" height="139.5" fill="none" stroke="#2a2a2a" stroke-width="1.1"/>
<line x1="491.00" y1="358" x2="491.00" y2="361.5" stroke="#2a2a2a" stroke-width="1"/>
<text x="491.00" y="369.5" font-size="7.6" text-anchor="middle" font-family='"Liberation Sans", sans-serif' fill="#1a1a1a">2.31</text>
<line x1="487.5" y1="358.00" x2="491" y2="358.00" stroke="#2a2a2a" stroke-width="1"/>
<text x="486" y="360.70" font-size="7.6" text-anchor="end" font-family='"Liberation Sans", sans-serif' fill="#1a1a1a">2.31</text>
<line x1="506.54" y1="358" x2="506.54" y2="360" stroke="#2a2a2a" stroke-width="1"/>
<line x1="489" y1="346.38" x2="491" y2="346.38" stroke="#2a2a2a" stroke-width="1"/>
<line x1="522.08" y1="358" x2="522.08" y2="361.5" stroke="#2a2a2a" stroke-width="1"/>
<text x="522.08" y="369.5" font-size="7.6" text-anchor="middle" font-family='"Liberation Sans", sans-serif' fill="#1a1a1a">3.47</text>
<line x1="487.5" y1="334.75" x2="491" y2="334.75" stroke="#2a2a2a" stroke-width="1"/>
<text x="486" y="337.45" font-size="7.6" text-anchor="end" font-family='"Liberation Sans", sans-serif' fill="#1a1a1a">3.47</text>
<line x1="537.62" y1="358" x2="537.62" y2="360" stroke="#2a2a2a" stroke-width="1"/>
<line x1="489" y1="323.12" x2="491" y2="323.12" stroke="#2a2a2a" stroke-width="1"/>
<line x1="553.17" y1="358" x2="553.17" y2="361.5" stroke="#2a2a2a" stroke-width="1"/>
<text x="553.17" y="369.5" font-size="7.6" text-anchor="middle" font-family='"Liberation Sans", sans-serif' fill="#1a1a1a">4.63</text>
<line x1="487.5" y1="311.50" x2="491" y2="311.50" stroke="#2a2a2a" stroke-width="1"/>
<text x="486" y="314.20" font-size="7.6" text-anchor="end" font-family='"Liberation Sans", sans-serif' fill="#1a1a1a">4.63</text>
<line x1="568.71" y1="358" x2="568.71" y2="360" stroke="#2a2a2a" stroke-width="1"/>
<line x1="489" y1="299.88" x2="491" y2="299.88" stroke="#2a2a2a" stroke-width="1"/>
<line x1="584.25" y1="358" x2="584.25" y2="361.5" stroke="#2a2a2a" stroke-width="1"/>
<text x="584.25" y="369.5" font-size="7.6" text-anchor="middle" font-family='"Liberation Sans", sans-serif' fill="#1a1a1a">5.78</text>
<line x1="487.5" y1="288.25" x2="491" y2="288.25" stroke="#2a2a2a" stroke-width="1"/>
<text x="486" y="290.95" font-size="7.6" text-anchor="end" font-family='"Liberation Sans", sans-serif' fill="#1a1a1a">5.78</text>
<line x1="599.79" y1="358" x2="599.79" y2="360" stroke="#2a2a2a" stroke-width="1"/>
<line x1="489" y1="276.62" x2="491" y2="276.62" stroke="#2a2a2a" stroke-width="1"/>
<line x1="615.33" y1="358" x2="615.33" y2="361.5" stroke="#2a2a2a" stroke-width="1"/>
<text x="615.33" y="369.5" font-size="7.6" text-anchor="middle" font-family='"Liberation Sans", sans-serif' fill="#1a1a1a">6.94</text>
<line x1="487.5" y1="265.00" x2="491" y2="265.00" stroke="#2a2a2a" stroke-width="1"/>
<text x="486" y="267.70" font-size="7.6" text-anchor="end" font-family='"Liberation Sans", sans-serif' fill="#1a1a1a">6.94</text>
<line x1="630.88" y1="358" x2="630.88" y2="360" stroke="#2a2a2a" stroke-width="1"/>
<line x1="489" y1="253.38" x2="491" y2="253.38" stroke="#2a2a2a" stroke-width="1"/>
<line x1="646.42" y1="358" x2="646.42" y2="361.5" stroke="#2a2a2a" stroke-width="1"/>
<text x="646.42" y="369.5" font-size="7.6" text-anchor="middle" font-family='"Liberation Sans", sans-serif' fill="#1a1a1a">8.10</text>
<line x1="487.5" y1="241.75" x2="491" y2="241.75" stroke="#2a2a2a" stroke-width="1"/>
<text x="486" y="244.45" font-size="7.6" text-anchor="end" font-family='"Liberation Sans", sans-serif' fill="#1a1a1a">8.10</text>
<line x1="661.96" y1="358" x2="661.96" y2="360" stroke="#2a2a2a" stroke-width="1"/>
<line x1="489" y1="230.12" x2="491" y2="230.12" stroke="#2a2a2a" stroke-width="1"/>
<line x1="677.50" y1="358" x2="677.50" y2="361.5" stroke="#2a2a2a" stroke-width="1"/>
<text x="677.50" y="369.5" font-size="7.6" text-anchor="middle" font-family='"Liberation Sans", sans-serif' fill="#1a1a1a">9.25</text>
<line x1="487.5" y1="218.50" x2="491" y2="218.50" stroke="#2a2a2a" stroke-width="1"/>
<text x="486" y="221.20" font-size="7.6" text-anchor="end" font-family='"Liberation Sans", sans-serif' fill="#1a1a1a">9.25</text>
<line x1="491" y1="358" x2="677.5" y2="218.5" stroke="#1a1a1a" stroke-width="1.1"/>
<circle cx="501.6" cy="351.3" r="2.9" fill="none" stroke="#1a1a1a" stroke-width="0.9"/>
<circle cx="552.8" cy="308.7" r="2.9" fill="none" stroke="#1a1a1a" stroke-width="0.9"/>
<circle cx="560.9" cy="309.6" r="2.9" fill="none" stroke="#1a1a1a" stroke-width="0.9"/>
<circle cx="567.5" cy="303.2" r="2.9" fill="none" stroke="#1a1a1a" stroke-width="0.9"/>
<circle cx="571.6" cy="298.3" r="2.9" fill="none" stroke="#1a1a1a" stroke-width="0.9"/>
<circle cx="572.7" cy="295.6" r="2.9" fill="none" stroke="#1a1a1a" stroke-width="0.9"/>
<circle cx="575.2" cy="292.6" r="2.9" fill="none" stroke="#1a1a1a" stroke-width="0.9"/>
<circle cx="580.4" cy="291.0" r="2.9" fill="none" stroke="#1a1a1a" stroke-width="0.9"/>
<circle cx="586.3" cy="282.7" r="2.9" fill="none" stroke="#1a1a1a" stroke-width="0.9"/>
<circle cx="590.5" cy="271.2" r="2.9" fill="none" stroke="#1a1a1a" stroke-width="0.9"/>
<circle cx="595.7" cy="275.8" r="2.9" fill="none" stroke="#1a1a1a" stroke-width="0.9"/>
<circle cx="598.3" cy="277.2" r="2.9" fill="none" stroke="#1a1a1a" stroke-width="0.9"/>
<circle cx="613.9" cy="262.0" r="2.9" fill="none" stroke="#1a1a1a" stroke-width="0.9"/>
<circle cx="621.3" cy="251.5" r="2.9" fill="none" stroke="#1a1a1a" stroke-width="0.9"/>
<circle cx="622.7" cy="259.0" r="2.9" fill="none" stroke="#1a1a1a" stroke-width="0.9"/>
<circle cx="673" cy="234.3" r="2.9" fill="none" stroke="#1a1a1a" stroke-width="0.9"/>
<text x="451" y="210.6" font-size="12" font-family='"Liberation Sans", sans-serif' fill="#1a1a1a">(d)</text>
<text x="569.5" y="383.5" font-size="11" font-family='"Liberation Sans", sans-serif' fill="#1a1a1a">q<tspan dy="3" font-size="7.2">Theory</tspan></text>
<line x1="570" y1="374.3" x2="575.5" y2="374.3" stroke="#1a1a1a" stroke-width="0.9"/>
<text transform="translate(462.5,307.5) rotate(-90)" font-size="11" font-family='"Liberation Sans", sans-serif' fill="#1a1a1a">q<tspan dy="1.5" font-size="7.5">simulation</tspan></text>
<line x1="454.3" y1="306.5" x2="454.3" y2="301" stroke="#1a1a1a" stroke-width="0.9"/>
</svg></body></html>
